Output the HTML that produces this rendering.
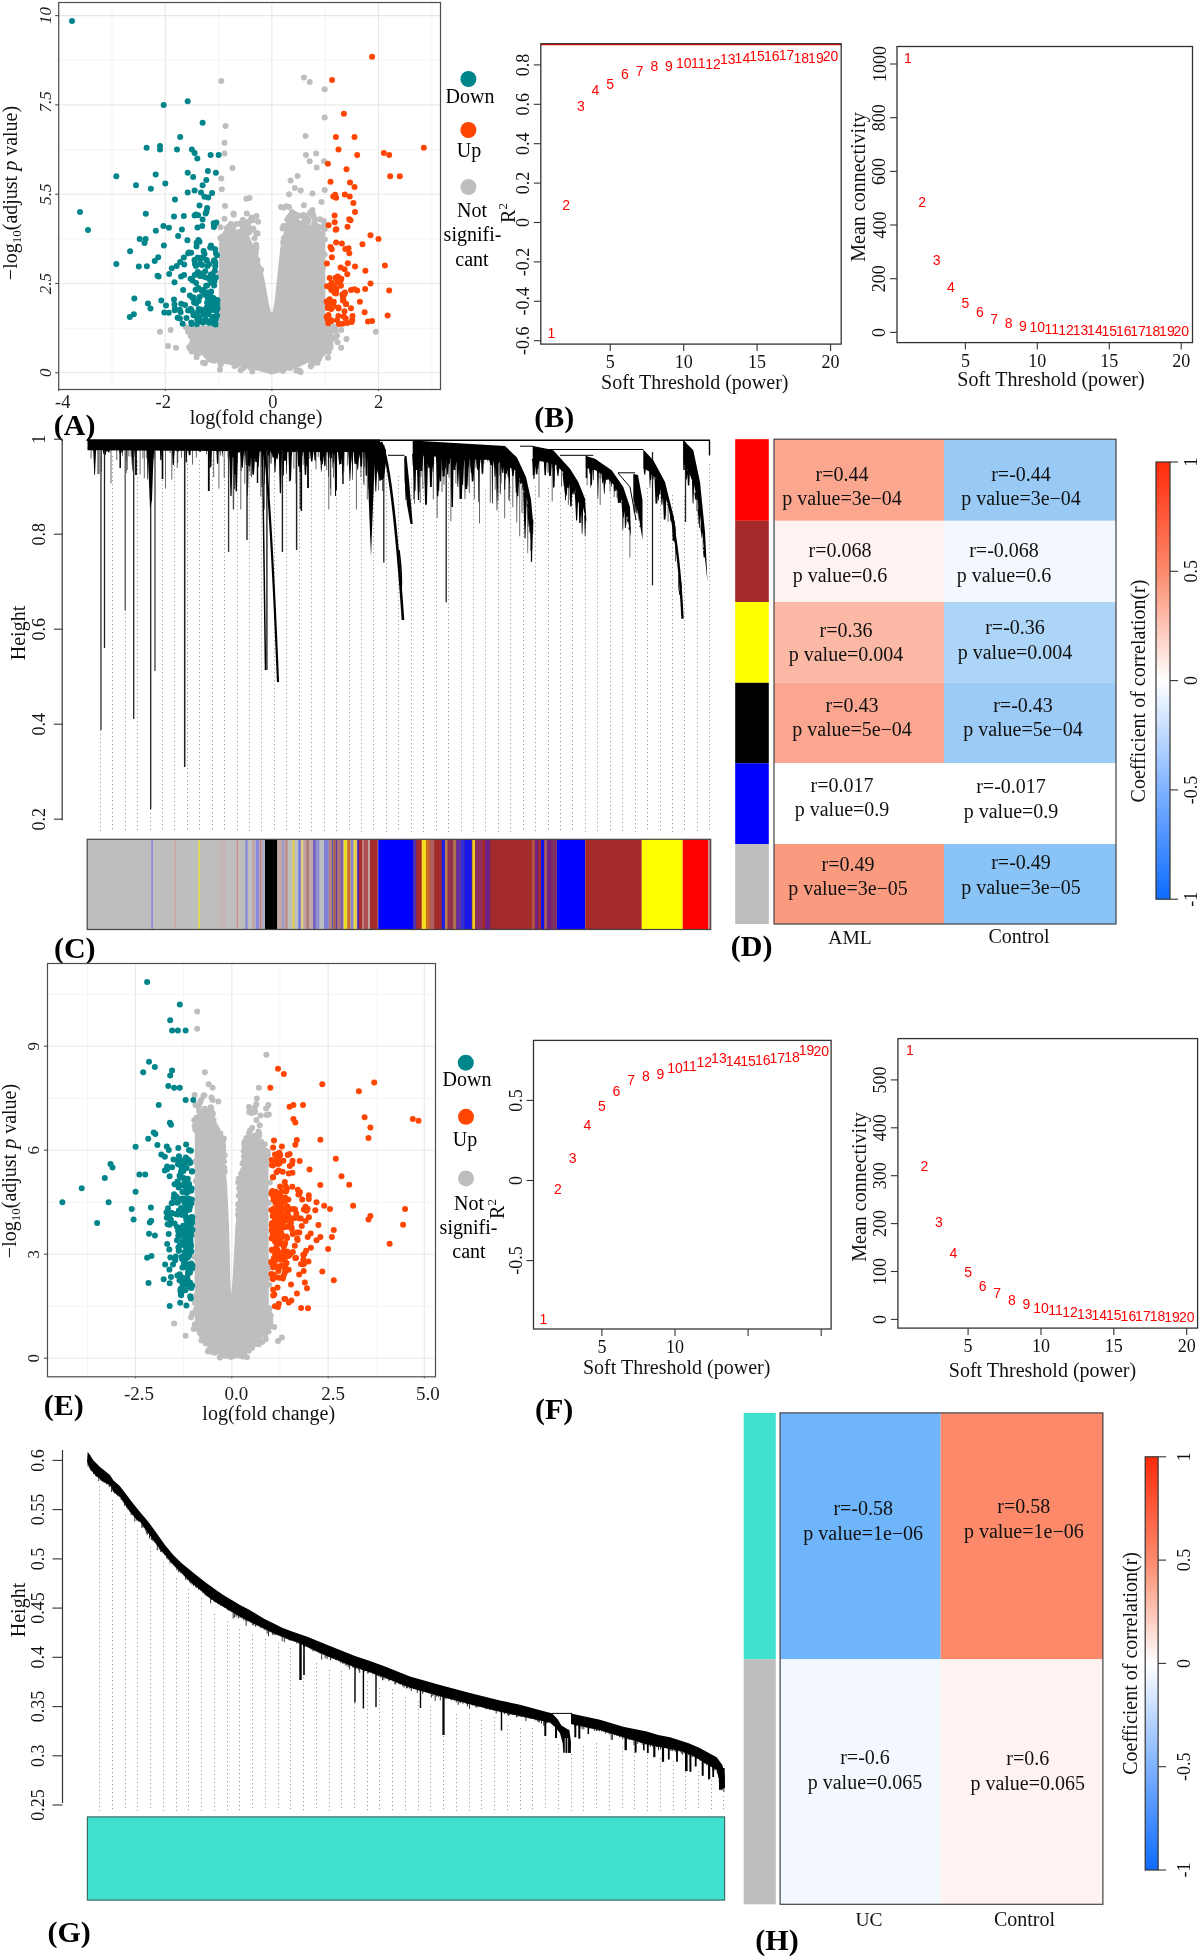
<!DOCTYPE html><html><head><meta charset="utf-8"><style>html,body{margin:0;padding:0;background:#fff;}svg{display:block;will-change:transform;}text{font-family:"Liberation Serif",serif;}</style></head><body><svg width="1200" height="1958" viewBox="0 0 1200 1958" font-family="Liberation Serif, serif"><rect x="0" y="0" width="1200" height="1958" fill="#fff"/>
<line x1="112" y1="2.5" x2="112" y2="389.5" stroke="#F2F2F2" stroke-width="0.8"/>
<line x1="218.6" y1="2.5" x2="218.6" y2="389.5" stroke="#F2F2F2" stroke-width="0.8"/>
<line x1="325.2" y1="2.5" x2="325.2" y2="389.5" stroke="#F2F2F2" stroke-width="0.8"/>
<line x1="431.8" y1="2.5" x2="431.8" y2="389.5" stroke="#F2F2F2" stroke-width="0.8"/>
<line x1="58.7" y1="328.2" x2="440.5" y2="328.2" stroke="#F2F2F2" stroke-width="0.8"/>
<line x1="58.7" y1="238.9" x2="440.5" y2="238.9" stroke="#F2F2F2" stroke-width="0.8"/>
<line x1="58.7" y1="149.6" x2="440.5" y2="149.6" stroke="#F2F2F2" stroke-width="0.8"/>
<line x1="58.7" y1="60.2" x2="440.5" y2="60.2" stroke="#F2F2F2" stroke-width="0.8"/>
<line x1="58.7" y1="2.5" x2="58.7" y2="389.5" stroke="#E8E8E8" stroke-width="1.1"/>
<line x1="165.3" y1="2.5" x2="165.3" y2="389.5" stroke="#E8E8E8" stroke-width="1.1"/>
<line x1="271.9" y1="2.5" x2="271.9" y2="389.5" stroke="#E8E8E8" stroke-width="1.1"/>
<line x1="378.5" y1="2.5" x2="378.5" y2="389.5" stroke="#E8E8E8" stroke-width="1.1"/>
<line x1="58.7" y1="372.8" x2="440.5" y2="372.8" stroke="#E8E8E8" stroke-width="1.1"/>
<line x1="58.7" y1="283.5" x2="440.5" y2="283.5" stroke="#E8E8E8" stroke-width="1.1"/>
<line x1="58.7" y1="194.2" x2="440.5" y2="194.2" stroke="#E8E8E8" stroke-width="1.1"/>
<line x1="58.7" y1="104.9" x2="440.5" y2="104.9" stroke="#E8E8E8" stroke-width="1.1"/>
<line x1="58.7" y1="15.6" x2="440.5" y2="15.6" stroke="#E8E8E8" stroke-width="1.1"/>
<clipPath id="c58"><rect x="58.7" y="2.5" width="381.8" height="387"/></clipPath>
<g clip-path="url(#c58)">
<polygon points="271.9,374.6 296.4,368.2 315.1,359.2 325.2,351.4 333.2,342.4 333.2,326.4 325.2,324.6 325.2,240.6 324.1,233.5 310.3,224.6 297.5,219.2 289,219.2 285.2,226.3 280.4,247.8 277.2,276.4 274.6,301.4 271.9,315.6 269.2,304.9 263.9,276.4 258,254.9 249.5,237.1 244.2,228.1 234.6,229.9 225,236.3 219.1,238.9 219.1,325.6 186.6,326.4 189.3,338.9 195.7,351.4 210.6,359.9 226.6,364.2 245.2,367.4" fill="#BEBEBE"/>
<g fill="#BEBEBE"><circle cx="305.5" cy="222" r="3"/><circle cx="324.6" cy="254.5" r="3"/><circle cx="322.6" cy="352.9" r="3"/><circle cx="194" cy="339.9" r="3"/><circle cx="330.4" cy="344.9" r="3"/><circle cx="323.6" cy="352.4" r="3"/><circle cx="321.7" cy="240" r="3"/><circle cx="321.9" cy="270.3" r="3"/><circle cx="329.8" cy="338.8" r="3"/><circle cx="193" cy="349.8" r="3"/><circle cx="239.2" cy="232.5" r="3"/><circle cx="322.6" cy="233.8" r="3"/><circle cx="248.4" cy="364.7" r="3"/><circle cx="247.8" cy="233" r="3"/><circle cx="219.6" cy="361.3" r="3"/><circle cx="337" cy="335.6" r="3"/><circle cx="204.8" cy="352.8" r="3"/><circle cx="311.2" cy="363.6" r="3"/><circle cx="265.8" cy="369.2" r="3"/><circle cx="290.1" cy="217.5" r="3"/><circle cx="196.3" cy="352.5" r="3"/><circle cx="229.5" cy="236.4" r="3"/><circle cx="252.3" cy="371.5" r="3"/><circle cx="304.4" cy="221" r="3"/><circle cx="315.1" cy="233.2" r="3"/><circle cx="324.9" cy="343.5" r="3"/><circle cx="298.5" cy="215.5" r="3"/><circle cx="302.6" cy="226.4" r="3"/><circle cx="335.8" cy="336.8" r="3"/><circle cx="275" cy="315.7" r="3"/><circle cx="234.7" cy="363.5" r="3"/><circle cx="299.3" cy="370.4" r="3"/><circle cx="327.4" cy="328.4" r="3"/><circle cx="293.2" cy="216.8" r="3"/><circle cx="236.6" cy="233.6" r="3"/><circle cx="283.1" cy="250.7" r="3"/><circle cx="310.8" cy="366.3" r="3"/><circle cx="226.8" cy="227.9" r="3"/><circle cx="220.3" cy="237.9" r="3"/><circle cx="240.7" cy="223.2" r="3"/><circle cx="290.1" cy="368" r="3"/><circle cx="327.5" cy="326.8" r="3"/><circle cx="242.1" cy="224.2" r="3"/><circle cx="216.9" cy="357" r="3"/><circle cx="291.9" cy="219.2" r="3"/><circle cx="220.6" cy="364.7" r="3"/><circle cx="240.7" cy="370.2" r="3"/><circle cx="321.3" cy="227.6" r="3"/><circle cx="319.1" cy="265.3" r="3"/><circle cx="284" cy="238.3" r="3"/><circle cx="257.9" cy="271" r="3"/><circle cx="188" cy="331.8" r="3"/><circle cx="219.9" cy="369.8" r="3"/><circle cx="313.8" cy="229.9" r="3"/><circle cx="196.6" cy="357.3" r="3"/><circle cx="301.8" cy="216.1" r="3"/><circle cx="329.5" cy="340.3" r="3"/><circle cx="317.5" cy="362.8" r="3"/><circle cx="329.8" cy="331.3" r="3"/><circle cx="234.5" cy="366.1" r="3"/><circle cx="275.5" cy="314.3" r="3"/><circle cx="199.6" cy="351.4" r="3"/><circle cx="331.9" cy="339.3" r="3"/><circle cx="257.4" cy="260.1" r="3"/><circle cx="227.5" cy="229.8" r="3"/><circle cx="295" cy="219.7" r="3"/><circle cx="193" cy="341" r="3"/><circle cx="228.8" cy="226.4" r="3"/><circle cx="210.4" cy="359.7" r="3"/><circle cx="261" cy="269.4" r="3"/><circle cx="319.2" cy="358.7" r="3"/><circle cx="196.5" cy="353.5" r="3"/><circle cx="247.2" cy="231.2" r="3"/><circle cx="195.4" cy="349.5" r="3"/><circle cx="333.4" cy="328" r="3"/><circle cx="333.1" cy="326.5" r="3"/><circle cx="188.5" cy="328" r="3"/><circle cx="288.7" cy="217.5" r="3"/><circle cx="235.7" cy="244.1" r="3"/><circle cx="230.2" cy="360.2" r="3"/><circle cx="191.6" cy="351.6" r="3"/><circle cx="247.6" cy="250.3" r="3"/><circle cx="317.4" cy="228.2" r="3"/><circle cx="195.5" cy="348.3" r="3"/><circle cx="255.6" cy="262.2" r="3"/><circle cx="290.4" cy="215.6" r="3"/><circle cx="245" cy="229.5" r="3"/><circle cx="256.3" cy="247.9" r="3"/><circle cx="281" cy="369" r="3"/><circle cx="314.8" cy="355.9" r="3"/><circle cx="325.4" cy="327.9" r="3"/><circle cx="219.5" cy="310.8" r="3"/><circle cx="260.4" cy="271.8" r="3"/><circle cx="189.1" cy="347.2" r="3"/><circle cx="300.6" cy="371.9" r="3"/><circle cx="323.1" cy="267.8" r="3"/><circle cx="282.9" cy="371" r="3"/><circle cx="271.8" cy="315.5" r="3"/><circle cx="224.3" cy="274.4" r="3"/><circle cx="315.1" cy="361.1" r="3"/><circle cx="307.4" cy="218.7" r="3"/><circle cx="315.5" cy="227.2" r="3"/><circle cx="323.8" cy="308" r="3"/><circle cx="259.3" cy="269.1" r="3"/><circle cx="284.2" cy="227.2" r="3"/><circle cx="256.4" cy="264.2" r="3"/><circle cx="212.8" cy="359.8" r="3"/><circle cx="250.2" cy="367.5" r="3"/><circle cx="206.3" cy="355.6" r="3"/><circle cx="244.9" cy="230" r="3"/><circle cx="296.4" cy="370.7" r="3"/><circle cx="190" cy="348.2" r="3"/><circle cx="328.6" cy="351.9" r="3"/><circle cx="274.9" cy="315.6" r="3"/><circle cx="223.8" cy="241.6" r="3"/><circle cx="223.6" cy="330.9" r="3"/><circle cx="316.5" cy="232.2" r="3"/><circle cx="324.8" cy="229.2" r="3"/><circle cx="270.6" cy="324.3" r="3"/><circle cx="293.5" cy="220.5" r="3"/><circle cx="197.6" cy="351.8" r="3"/><circle cx="287.4" cy="219.4" r="3"/><circle cx="271.9" cy="315.8" r="3"/><circle cx="225.6" cy="233.4" r="3"/><circle cx="283.2" cy="260.8" r="3"/><circle cx="199.3" cy="353.1" r="3"/><circle cx="313.6" cy="357.6" r="3"/><circle cx="243.9" cy="367.7" r="3"/><circle cx="213.8" cy="360.8" r="3"/><circle cx="313" cy="214.6" r="3"/><circle cx="216.3" cy="356.6" r="3"/><circle cx="324.8" cy="223.9" r="3"/><circle cx="256.2" cy="244.8" r="3"/><circle cx="192.3" cy="347.5" r="3"/><circle cx="283.4" cy="225.9" r="3"/><circle cx="244.6" cy="241.6" r="3"/><circle cx="256.2" cy="246.6" r="3"/><circle cx="190.7" cy="335.9" r="3"/><circle cx="222.6" cy="236.3" r="3"/><circle cx="185.8" cy="327.3" r="3"/><circle cx="330.5" cy="347.8" r="3"/><circle cx="282.7" cy="258.2" r="3"/><circle cx="329.7" cy="343.4" r="3"/><circle cx="244.7" cy="245.5" r="3"/><circle cx="236.7" cy="224" r="3"/><circle cx="222.9" cy="360.9" r="3"/><circle cx="225.6" cy="237.7" r="3"/><circle cx="320" cy="236.5" r="3"/><circle cx="256" cy="252.2" r="3"/><circle cx="228.6" cy="359.3" r="3"/><circle cx="243.4" cy="226.2" r="3"/><circle cx="220.1" cy="273.6" r="3"/><circle cx="220.5" cy="227.2" r="3"/><circle cx="270.2" cy="315.6" r="3"/><circle cx="254.6" cy="238.2" r="3"/><circle cx="335.1" cy="327.2" r="3"/><circle cx="220.7" cy="363.2" r="3"/><circle cx="191.5" cy="344.1" r="3"/><circle cx="297.9" cy="222.5" r="3"/><circle cx="223.9" cy="242.8" r="3"/><circle cx="202.5" cy="329.2" r="3"/><circle cx="312.4" cy="358.1" r="3"/><circle cx="196.2" cy="349.4" r="3"/><circle cx="211.1" cy="357.8" r="3"/><circle cx="273.3" cy="316.3" r="3"/><circle cx="324.9" cy="239.4" r="3"/><circle cx="282.6" cy="228.6" r="3"/><circle cx="322.2" cy="352.7" r="3"/><circle cx="208.6" cy="359" r="3"/><circle cx="283.6" cy="245.8" r="3"/><circle cx="204.9" cy="363.3" r="3"/><circle cx="291" cy="366.8" r="3"/><circle cx="276" cy="313.5" r="3"/><circle cx="255.5" cy="247.8" r="3"/><circle cx="237" cy="365.1" r="3"/><circle cx="304.5" cy="223.9" r="3"/><circle cx="326.3" cy="343.5" r="3"/><circle cx="192.1" cy="330" r="3"/><circle cx="197.6" cy="353.3" r="3"/><circle cx="190.2" cy="328.2" r="3"/><circle cx="316.8" cy="226.1" r="3"/><circle cx="295.6" cy="216.4" r="3"/><circle cx="335.6" cy="330.9" r="3"/><circle cx="226" cy="359" r="3"/><circle cx="331.2" cy="328.6" r="3"/><circle cx="287.1" cy="225.7" r="3"/><circle cx="283.1" cy="242.1" r="3"/><circle cx="213.5" cy="326.7" r="3"/><circle cx="305.8" cy="215.8" r="3"/><circle cx="328" cy="357.7" r="3"/><circle cx="248.6" cy="227.2" r="3"/><circle cx="252" cy="248.1" r="3"/><circle cx="312.4" cy="364" r="3"/><circle cx="203" cy="362.8" r="3"/><circle cx="288.2" cy="226.5" r="3"/><circle cx="232.9" cy="229.6" r="3"/><circle cx="320.9" cy="355.2" r="3"/><circle cx="245.2" cy="233.9" r="3"/><circle cx="337.5" cy="342.2" r="3"/><circle cx="285.1" cy="237.2" r="3"/><circle cx="293.4" cy="225.5" r="3"/><circle cx="230.9" cy="233.4" r="3"/><circle cx="221.3" cy="81" r="3"/><circle cx="303.9" cy="77.4" r="3"/><circle cx="309.7" cy="82" r="3"/><circle cx="324.7" cy="89.2" r="3"/><circle cx="225.5" cy="126" r="3"/><circle cx="224.5" cy="142.8" r="3"/><circle cx="224.5" cy="153.5" r="3"/><circle cx="232.5" cy="168.1" r="3"/><circle cx="221.3" cy="178.5" r="3"/><circle cx="221.8" cy="189.2" r="3"/><circle cx="225" cy="206" r="3"/><circle cx="233.5" cy="213.5" r="3"/><circle cx="246.8" cy="213.5" r="3"/><circle cx="246.3" cy="198.8" r="3"/><circle cx="249.5" cy="198.1" r="3"/><circle cx="224.5" cy="218.8" r="3"/><circle cx="324.7" cy="117.4" r="3"/><circle cx="305.5" cy="136" r="3"/><circle cx="306" cy="154.9" r="3"/><circle cx="316.1" cy="153.5" r="3"/><circle cx="309.7" cy="161.3" r="3"/><circle cx="316.7" cy="167.4" r="3"/><circle cx="324.1" cy="161.3" r="3"/><circle cx="297.5" cy="176" r="3"/><circle cx="290.6" cy="180.6" r="3"/><circle cx="294.8" cy="188.1" r="3"/><circle cx="289" cy="194.2" r="3"/><circle cx="300.7" cy="190.6" r="3"/><circle cx="312.4" cy="193.5" r="3"/><circle cx="324.7" cy="189.9" r="3"/><circle cx="281" cy="207.1" r="3"/><circle cx="283.6" cy="207.8" r="3"/><circle cx="286.3" cy="206.3" r="3"/><circle cx="289" cy="207.1" r="3"/><circle cx="303.9" cy="205.3" r="3"/><circle cx="312.4" cy="209.9" r="3"/><circle cx="321.5" cy="202.1" r="3"/><circle cx="303.3" cy="214.9" r="3"/><circle cx="315.1" cy="219.9" r="3"/><circle cx="319.9" cy="219.2" r="3"/><circle cx="295.9" cy="217.4" r="3"/><circle cx="320.1" cy="227.6" r="3"/><circle cx="290.8" cy="222.7" r="3"/><circle cx="293.3" cy="227.9" r="3"/><circle cx="246.2" cy="232.7" r="3"/><circle cx="242.9" cy="219.8" r="3"/><circle cx="311.7" cy="214.3" r="3"/><circle cx="227.8" cy="227.8" r="3"/><circle cx="233.8" cy="225.8" r="3"/><circle cx="306.8" cy="221.1" r="3"/><circle cx="248.8" cy="222" r="3"/><circle cx="313.9" cy="225.5" r="3"/><circle cx="323.8" cy="221.1" r="3"/><circle cx="298.1" cy="231.7" r="3"/><circle cx="251.7" cy="217.6" r="3"/><circle cx="247" cy="222.4" r="3"/><circle cx="310.1" cy="212.4" r="3"/><circle cx="313.7" cy="217.5" r="3"/><circle cx="252.8" cy="220.3" r="3"/><circle cx="301.5" cy="225.7" r="3"/><circle cx="253.4" cy="228.6" r="3"/><circle cx="257.7" cy="233.4" r="3"/><circle cx="297" cy="222.3" r="3"/><circle cx="242.5" cy="227" r="3"/><circle cx="250.6" cy="220.1" r="3"/><circle cx="291.4" cy="233.2" r="3"/><circle cx="231" cy="223.8" r="3"/><circle cx="233.7" cy="214.8" r="3"/><circle cx="300.9" cy="227.8" r="3"/><circle cx="256.4" cy="215.9" r="3"/><circle cx="308.4" cy="221.1" r="3"/><circle cx="294.9" cy="214.1" r="3"/><circle cx="256.2" cy="233" r="3"/><circle cx="249.3" cy="232.2" r="3"/><circle cx="258.1" cy="221.7" r="3"/><circle cx="253" cy="229.2" r="3"/><circle cx="316.9" cy="229.7" r="3"/><circle cx="287.7" cy="220.1" r="3"/><circle cx="313.1" cy="233.4" r="3"/><circle cx="314.2" cy="223.5" r="3"/><circle cx="292" cy="212.1" r="3"/><circle cx="191.9" cy="329.9" r="3"/><circle cx="170.6" cy="329.9" r="3"/><circle cx="160" cy="331.7" r="3"/><circle cx="176" cy="347.8" r="3"/><circle cx="168" cy="346" r="3"/><circle cx="375.8" cy="331.7" r="3"/><circle cx="341.2" cy="329.9" r="3"/><circle cx="346.5" cy="338.9" r="3"/><circle cx="341.2" cy="347.8" r="3"/></g>
<g fill="#00858A"><circle cx="72" cy="21" r="3"/><circle cx="80" cy="212.1" r="3"/><circle cx="88" cy="229.9" r="3"/><circle cx="116.3" cy="176.3" r="3"/><circle cx="116.3" cy="263.9" r="3"/><circle cx="146.6" cy="147.8" r="3"/><circle cx="163.7" cy="104.9" r="3"/><circle cx="187.7" cy="101.3" r="3"/><circle cx="202.6" cy="122.8" r="3"/><circle cx="180.2" cy="137" r="3"/><circle cx="160" cy="146" r="3"/><circle cx="160" cy="149.6" r="3"/><circle cx="177" cy="149.6" r="3"/><circle cx="191.9" cy="149.6" r="3"/><circle cx="194.6" cy="153.1" r="3"/><circle cx="197.3" cy="158.5" r="3"/><circle cx="210.6" cy="154.9" r="3"/><circle cx="218.6" cy="154.9" r="3"/><circle cx="136" cy="185.3" r="3"/><circle cx="150.9" cy="188.8" r="3"/><circle cx="155.7" cy="174.6" r="3"/><circle cx="165.3" cy="183.5" r="3"/><circle cx="187.7" cy="192.4" r="3"/><circle cx="187.7" cy="172.8" r="3"/><circle cx="194.6" cy="190.6" r="3"/><circle cx="202.6" cy="185.3" r="3"/><circle cx="207.9" cy="171" r="3"/><circle cx="215.9" cy="172.8" r="3"/><circle cx="139.7" cy="238.9" r="3"/><circle cx="145.6" cy="238.9" r="3"/><circle cx="215.8" cy="319.4" r="3"/><circle cx="193.1" cy="177" r="3"/><circle cx="181.2" cy="303.8" r="3"/><circle cx="199" cy="321.4" r="3"/><circle cx="200.6" cy="258.1" r="3"/><circle cx="198.1" cy="215.2" r="3"/><circle cx="206.5" cy="211.4" r="3"/><circle cx="179.9" cy="318.5" r="3"/><circle cx="207.1" cy="208.1" r="3"/><circle cx="217" cy="255.3" r="3"/><circle cx="214.6" cy="224.6" r="3"/><circle cx="207.9" cy="314.2" r="3"/><circle cx="199.8" cy="296.7" r="3"/><circle cx="202.6" cy="219.6" r="3"/><circle cx="175" cy="199.6" r="3"/><circle cx="194.7" cy="275" r="3"/><circle cx="196.9" cy="324.2" r="3"/><circle cx="213.9" cy="323.5" r="3"/><circle cx="205.6" cy="213.4" r="3"/><circle cx="214.1" cy="260.5" r="3"/><circle cx="200" cy="276.1" r="3"/><circle cx="203.3" cy="314.4" r="3"/><circle cx="209.4" cy="279" r="3"/><circle cx="215.8" cy="317.7" r="3"/><circle cx="191.3" cy="322.4" r="3"/><circle cx="213.8" cy="318.4" r="3"/><circle cx="214.4" cy="321.7" r="3"/><circle cx="213.6" cy="322.6" r="3"/><circle cx="199.6" cy="311.5" r="3"/><circle cx="194.9" cy="263.7" r="3"/><circle cx="199.5" cy="241.8" r="3"/><circle cx="187.4" cy="240.3" r="3"/><circle cx="208" cy="313.6" r="3"/><circle cx="209" cy="322.9" r="3"/><circle cx="181.9" cy="229.5" r="3"/><circle cx="205.8" cy="319.9" r="3"/><circle cx="217.3" cy="300.4" r="3"/><circle cx="193.4" cy="315.2" r="3"/><circle cx="211.1" cy="309" r="3"/><circle cx="193.8" cy="297.6" r="3"/><circle cx="216.4" cy="222.6" r="3"/><circle cx="201.7" cy="321.8" r="3"/><circle cx="215.2" cy="266.2" r="3"/><circle cx="180.1" cy="262" r="3"/><circle cx="203.6" cy="251" r="3"/><circle cx="215.4" cy="263" r="3"/><circle cx="197.3" cy="318.2" r="3"/><circle cx="213.5" cy="298.1" r="3"/><circle cx="196.5" cy="246.4" r="3"/><circle cx="211" cy="245.5" r="3"/><circle cx="205" cy="294.7" r="3"/><circle cx="211.2" cy="291.5" r="3"/><circle cx="210.8" cy="322.1" r="3"/><circle cx="189.9" cy="295.6" r="3"/><circle cx="195.9" cy="214.4" r="3"/><circle cx="202.7" cy="257.2" r="3"/><circle cx="197.7" cy="272.1" r="3"/><circle cx="212.1" cy="317" r="3"/><circle cx="201.5" cy="309.7" r="3"/><circle cx="180.6" cy="312.3" r="3"/><circle cx="190.6" cy="278.8" r="3"/><circle cx="206.6" cy="260.6" r="3"/><circle cx="205.5" cy="319.4" r="3"/><circle cx="208.3" cy="197.5" r="3"/><circle cx="195.6" cy="289.8" r="3"/><circle cx="199.8" cy="264" r="3"/><circle cx="207.5" cy="297.1" r="3"/><circle cx="207.1" cy="285.5" r="3"/><circle cx="194.5" cy="260" r="3"/><circle cx="174.9" cy="308.7" r="3"/><circle cx="195.9" cy="265.9" r="3"/><circle cx="203" cy="322.7" r="3"/><circle cx="199.5" cy="205.5" r="3"/><circle cx="207.4" cy="295.1" r="3"/><circle cx="203.3" cy="290.9" r="3"/><circle cx="212.5" cy="274.3" r="3"/><circle cx="217" cy="309.3" r="3"/><circle cx="205.2" cy="271.2" r="3"/><circle cx="210.8" cy="310.5" r="3"/><circle cx="198.4" cy="240.1" r="3"/><circle cx="206.6" cy="260.1" r="3"/><circle cx="196.6" cy="242.7" r="3"/><circle cx="204.9" cy="310.5" r="3"/><circle cx="208" cy="294.1" r="3"/><circle cx="164.3" cy="312.4" r="3"/><circle cx="202.1" cy="264.9" r="3"/><circle cx="214.3" cy="318" r="3"/><circle cx="208.3" cy="307.3" r="3"/><circle cx="213.5" cy="319.7" r="3"/><circle cx="204.5" cy="196.8" r="3"/><circle cx="210.7" cy="296.4" r="3"/><circle cx="182.7" cy="323.7" r="3"/><circle cx="206.4" cy="311.9" r="3"/><circle cx="203.1" cy="290" r="3"/><circle cx="204.5" cy="253.9" r="3"/><circle cx="215.7" cy="324.4" r="3"/><circle cx="215.9" cy="277.5" r="3"/><circle cx="184.2" cy="264.5" r="3"/><circle cx="197.7" cy="257.4" r="3"/><circle cx="191.2" cy="252.8" r="3"/><circle cx="200" cy="273.6" r="3"/><circle cx="200.5" cy="309.7" r="3"/><circle cx="213.9" cy="301.1" r="3"/><circle cx="209.6" cy="310.5" r="3"/><circle cx="206.5" cy="310.6" r="3"/><circle cx="183.1" cy="289.9" r="3"/><circle cx="215.2" cy="249.2" r="3"/><circle cx="207.9" cy="292.5" r="3"/><circle cx="184.1" cy="275" r="3"/><circle cx="213.4" cy="279.1" r="3"/><circle cx="192.3" cy="297.8" r="3"/><circle cx="191.6" cy="323.9" r="3"/><circle cx="199.2" cy="317.9" r="3"/><circle cx="185.1" cy="304.9" r="3"/><circle cx="212.1" cy="192.9" r="3"/><circle cx="191" cy="309.4" r="3"/><circle cx="198.4" cy="287.9" r="3"/><circle cx="190.6" cy="309" r="3"/><circle cx="214.5" cy="260.6" r="3"/><circle cx="217.1" cy="307.2" r="3"/><circle cx="202.1" cy="290.6" r="3"/><circle cx="194.1" cy="302.4" r="3"/><circle cx="178.1" cy="235.9" r="3"/><circle cx="214.1" cy="285.4" r="3"/><circle cx="209.1" cy="301.9" r="3"/><circle cx="207.6" cy="321.5" r="3"/><circle cx="183.8" cy="257.4" r="3"/><circle cx="200.3" cy="259.6" r="3"/><circle cx="210.3" cy="308.1" r="3"/><circle cx="213.6" cy="303.2" r="3"/><circle cx="174" cy="216.4" r="3"/><circle cx="204.5" cy="291.8" r="3"/><circle cx="197.4" cy="320.2" r="3"/><circle cx="183.8" cy="215.9" r="3"/><circle cx="209" cy="264.2" r="3"/><circle cx="194.6" cy="215.6" r="3"/><circle cx="202.2" cy="226" r="3"/><circle cx="197.5" cy="227.5" r="3"/><circle cx="168.9" cy="227.8" r="3"/><circle cx="188.1" cy="253.4" r="3"/><circle cx="214" cy="261.3" r="3"/><circle cx="198.7" cy="308.9" r="3"/><circle cx="210.2" cy="247.6" r="3"/><circle cx="192.6" cy="280.5" r="3"/><circle cx="207.1" cy="302.6" r="3"/><circle cx="188.8" cy="252.5" r="3"/><circle cx="209.1" cy="278.5" r="3"/><circle cx="199.8" cy="319.4" r="3"/><circle cx="209.7" cy="307.8" r="3"/><circle cx="211.6" cy="303.1" r="3"/><circle cx="198.6" cy="301.1" r="3"/><circle cx="206.3" cy="180.1" r="3"/><circle cx="202.1" cy="276" r="3"/><circle cx="214.5" cy="281.1" r="3"/><circle cx="215.9" cy="311.1" r="3"/><circle cx="211.2" cy="282.7" r="3"/><circle cx="188.1" cy="310.6" r="3"/><circle cx="201.7" cy="290.8" r="3"/><circle cx="215" cy="303.9" r="3"/><circle cx="206.1" cy="285.8" r="3"/><circle cx="197.4" cy="312.8" r="3"/><circle cx="201" cy="192.5" r="3"/><circle cx="194.4" cy="301.7" r="3"/><circle cx="210.3" cy="293.3" r="3"/><circle cx="215.9" cy="253.4" r="3"/><circle cx="210.8" cy="274.4" r="3"/><circle cx="211.2" cy="300.3" r="3"/><circle cx="211.8" cy="247.5" r="3"/><circle cx="196.1" cy="282.9" r="3"/><circle cx="213.9" cy="226.9" r="3"/><circle cx="213.6" cy="317.1" r="3"/><circle cx="205.3" cy="277.2" r="3"/><circle cx="216.6" cy="309.8" r="3"/><circle cx="207.5" cy="266.1" r="3"/><circle cx="203.2" cy="290.6" r="3"/><circle cx="217.3" cy="303.9" r="3"/><circle cx="191.9" cy="311.1" r="3"/><circle cx="217.5" cy="308" r="3"/><circle cx="215.4" cy="322.7" r="3"/><circle cx="214.8" cy="270.8" r="3"/><circle cx="186.5" cy="317.9" r="3"/><circle cx="217.3" cy="299.9" r="3"/><circle cx="217.1" cy="315.6" r="3"/><circle cx="208" cy="298.5" r="3"/><circle cx="212.2" cy="277.9" r="3"/><circle cx="212.1" cy="306.4" r="3"/><circle cx="213.7" cy="223.2" r="3"/><circle cx="196.2" cy="303.6" r="3"/><circle cx="210.4" cy="322.1" r="3"/><circle cx="206.7" cy="307.5" r="3"/><circle cx="146.9" cy="266.3" r="3"/><circle cx="145.8" cy="213.7" r="3"/><circle cx="174.5" cy="282.3" r="3"/><circle cx="138.8" cy="266.5" r="3"/><circle cx="134.3" cy="298.6" r="3"/><circle cx="166" cy="305.5" r="3"/><circle cx="179.8" cy="309.8" r="3"/><circle cx="181.1" cy="276.5" r="3"/><circle cx="157.5" cy="275.7" r="3"/><circle cx="158.6" cy="276.5" r="3"/><circle cx="133.8" cy="314.2" r="3"/><circle cx="171.8" cy="268.3" r="3"/><circle cx="168.8" cy="312.8" r="3"/><circle cx="154.7" cy="261" r="3"/><circle cx="148" cy="303.5" r="3"/><circle cx="163.9" cy="245.4" r="3"/><circle cx="174.7" cy="310.3" r="3"/><circle cx="130.1" cy="251.3" r="3"/><circle cx="161.3" cy="300.6" r="3"/><circle cx="163.4" cy="226.1" r="3"/><circle cx="150.5" cy="308.4" r="3"/><circle cx="177.6" cy="317.8" r="3"/><circle cx="174.5" cy="304.4" r="3"/><circle cx="144.5" cy="243.1" r="3"/><circle cx="174" cy="299.4" r="3"/><circle cx="129.8" cy="317" r="3"/><circle cx="158.2" cy="257.3" r="3"/><circle cx="176.7" cy="265.9" r="3"/><circle cx="155.8" cy="230.8" r="3"/><circle cx="169.2" cy="274.1" r="3"/></g>
<g fill="#FF4500"><circle cx="372.1" cy="56.7" r="3"/><circle cx="332.1" cy="79.9" r="3"/><circle cx="343.9" cy="113.8" r="3"/><circle cx="423.8" cy="147.8" r="3"/><circle cx="383.8" cy="153.1" r="3"/><circle cx="389.2" cy="154.9" r="3"/><circle cx="390.2" cy="176.3" r="3"/><circle cx="399.8" cy="176.3" r="3"/><circle cx="357.2" cy="154.9" r="3"/><circle cx="354.5" cy="137" r="3"/><circle cx="335.9" cy="137" r="3"/><circle cx="338.5" cy="149.6" r="3"/><circle cx="327.9" cy="163.8" r="3"/><circle cx="330.5" cy="181.7" r="3"/><circle cx="346.5" cy="169.2" r="3"/><circle cx="378.5" cy="238.9" r="3"/><circle cx="370.5" cy="235.3" r="3"/><circle cx="384.9" cy="265.6" r="3"/><circle cx="389.2" cy="290.6" r="3"/><circle cx="387.6" cy="315.6" r="3"/><circle cx="372.1" cy="321" r="3"/><circle cx="362.5" cy="244.2" r="3"/><circle cx="365.2" cy="288.9" r="3"/><circle cx="357.2" cy="290.6" r="3"/><circle cx="370.5" cy="283.5" r="3"/><circle cx="353.4" cy="203.1" r="3"/><circle cx="354.5" cy="187.1" r="3"/><circle cx="349.2" cy="219.2" r="3"/><circle cx="331.4" cy="321.1" r="3"/><circle cx="340.6" cy="267.6" r="3"/><circle cx="365.4" cy="270.7" r="3"/><circle cx="352.5" cy="316.1" r="3"/><circle cx="328.6" cy="320.2" r="3"/><circle cx="344.9" cy="292.6" r="3"/><circle cx="342.9" cy="296.7" r="3"/><circle cx="339" cy="324.1" r="3"/><circle cx="347.5" cy="226.8" r="3"/><circle cx="364.6" cy="312.3" r="3"/><circle cx="338.5" cy="308.5" r="3"/><circle cx="337.9" cy="282.5" r="3"/><circle cx="349.7" cy="196.5" r="3"/><circle cx="333.8" cy="301.8" r="3"/><circle cx="326.7" cy="316.8" r="3"/><circle cx="349.3" cy="253.3" r="3"/><circle cx="331.4" cy="290.1" r="3"/><circle cx="344.6" cy="269.2" r="3"/><circle cx="351.7" cy="321.9" r="3"/><circle cx="347.3" cy="323" r="3"/><circle cx="355" cy="266.5" r="3"/><circle cx="337.8" cy="276.4" r="3"/><circle cx="336.2" cy="278.7" r="3"/><circle cx="334.6" cy="215.4" r="3"/><circle cx="336.3" cy="229.2" r="3"/><circle cx="334.5" cy="292.8" r="3"/><circle cx="345.7" cy="318.4" r="3"/><circle cx="359.9" cy="301.7" r="3"/><circle cx="331.7" cy="249.3" r="3"/><circle cx="342.4" cy="294.4" r="3"/><circle cx="329.7" cy="304.3" r="3"/><circle cx="351" cy="308.2" r="3"/><circle cx="341.9" cy="243.6" r="3"/><circle cx="341.3" cy="278.8" r="3"/><circle cx="342.6" cy="323.8" r="3"/><circle cx="343.8" cy="316.4" r="3"/><circle cx="336.1" cy="291.1" r="3"/><circle cx="343.4" cy="300.1" r="3"/><circle cx="344.5" cy="311.2" r="3"/><circle cx="344.3" cy="294.6" r="3"/><circle cx="331.2" cy="309" r="3"/><circle cx="338.4" cy="316" r="3"/><circle cx="348.5" cy="248.2" r="3"/><circle cx="338.4" cy="307.6" r="3"/><circle cx="346.2" cy="303.9" r="3"/><circle cx="350.5" cy="220.3" r="3"/><circle cx="351" cy="289.9" r="3"/><circle cx="333.9" cy="286.3" r="3"/><circle cx="342.9" cy="300.5" r="3"/><circle cx="330.5" cy="247.1" r="3"/><circle cx="333.6" cy="306.1" r="3"/><circle cx="368" cy="321.6" r="3"/><circle cx="344.8" cy="194.4" r="3"/><circle cx="340.6" cy="280.4" r="3"/><circle cx="341" cy="285.7" r="3"/><circle cx="327.1" cy="286.2" r="3"/><circle cx="329.6" cy="299.2" r="3"/><circle cx="330.5" cy="287.8" r="3"/><circle cx="328" cy="305.2" r="3"/><circle cx="354.5" cy="289.3" r="3"/><circle cx="329.3" cy="319.7" r="3"/><circle cx="336.1" cy="242.6" r="3"/><circle cx="331.1" cy="302.3" r="3"/><circle cx="345.3" cy="248.9" r="3"/><circle cx="333.3" cy="196.6" r="3"/><circle cx="335" cy="290.6" r="3"/><circle cx="335.9" cy="293.4" r="3"/><circle cx="337" cy="320.3" r="3"/><circle cx="327.8" cy="308.1" r="3"/><circle cx="329.7" cy="277.9" r="3"/><circle cx="334.7" cy="222.3" r="3"/><circle cx="331.9" cy="282.9" r="3"/><circle cx="335.1" cy="194.7" r="3"/><circle cx="331.6" cy="308.2" r="3"/><circle cx="339.6" cy="279.6" r="3"/><circle cx="335.6" cy="277.7" r="3"/><circle cx="345.8" cy="303.9" r="3"/><circle cx="347.3" cy="274.2" r="3"/><circle cx="330.2" cy="301.5" r="3"/><circle cx="326.9" cy="263.4" r="3"/><circle cx="355" cy="212" r="3"/><circle cx="328.6" cy="225.2" r="3"/><circle cx="347.8" cy="263.3" r="3"/><circle cx="352.2" cy="319.9" r="3"/><circle cx="330.8" cy="319.9" r="3"/><circle cx="336.1" cy="197.7" r="3"/><circle cx="335.7" cy="229.8" r="3"/><circle cx="326.7" cy="301.4" r="3"/><circle cx="328.5" cy="315.1" r="3"/><circle cx="350" cy="182.4" r="3"/><circle cx="331.1" cy="284.3" r="3"/><circle cx="328.2" cy="323.2" r="3"/><circle cx="336.3" cy="288.6" r="3"/><circle cx="331.9" cy="257.3" r="3"/><circle cx="327.5" cy="319.3" r="3"/></g>
</g>
<rect x="58.7" y="2.5" width="381.8" height="387" fill="none" stroke="#4D4D4D" stroke-width="1.2"/>
<line x1="58.7" y1="389.5" x2="58.7" y2="391" stroke="#4D4D4D" stroke-width="1.1"/>
<text x="62.7" y="407.5" font-size="18.5" text-anchor="middle" fill="#222">-4</text>
<line x1="165.3" y1="389.5" x2="165.3" y2="391" stroke="#4D4D4D" stroke-width="1.1"/>
<text x="163.3" y="407.5" font-size="18.5" text-anchor="middle" fill="#222">-2</text>
<line x1="271.9" y1="389.5" x2="271.9" y2="391" stroke="#4D4D4D" stroke-width="1.1"/>
<text x="272.9" y="407.5" font-size="18.5" text-anchor="middle" fill="#222">0</text>
<line x1="378.5" y1="389.5" x2="378.5" y2="391" stroke="#4D4D4D" stroke-width="1.1"/>
<text x="378.5" y="407.5" font-size="18.5" text-anchor="middle" fill="#222">2</text>
<line x1="58.7" y1="372.8" x2="55.2" y2="372.8" stroke="#4D4D4D" stroke-width="1.1"/>
<text x="50.7" y="372.8" font-size="17" text-anchor="middle" fill="#222" transform="rotate(-90 50.7 372.8)" font-style="italic">0</text>
<line x1="58.7" y1="283.5" x2="55.2" y2="283.5" stroke="#4D4D4D" stroke-width="1.1"/>
<text x="50.7" y="283.5" font-size="17" text-anchor="middle" fill="#222" transform="rotate(-90 50.7 283.5)" font-style="italic">2.5</text>
<line x1="58.7" y1="194.2" x2="55.2" y2="194.2" stroke="#4D4D4D" stroke-width="1.1"/>
<text x="50.7" y="194.2" font-size="17" text-anchor="middle" fill="#222" transform="rotate(-90 50.7 194.2)" font-style="italic">5.5</text>
<line x1="58.7" y1="104.9" x2="55.2" y2="104.9" stroke="#4D4D4D" stroke-width="1.1"/>
<text x="50.7" y="101.9" font-size="17" text-anchor="middle" fill="#222" transform="rotate(-90 50.7 101.9)" font-style="italic">7.5</text>
<line x1="58.7" y1="15.6" x2="55.2" y2="15.6" stroke="#4D4D4D" stroke-width="1.1"/>
<text x="50.7" y="15.6" font-size="17" text-anchor="middle" fill="#222" transform="rotate(-90 50.7 15.6)" font-style="italic">10</text>
<g fill="#00858A"><circle cx="468.4" cy="79" r="8"/></g>
<text x="470" y="102.5" font-size="20" text-anchor="middle" fill="#000">Down</text>
<g fill="#FF4500"><circle cx="468.4" cy="130" r="8"/></g>
<text x="469" y="157" font-size="20" text-anchor="middle" fill="#000">Up</text>
<g fill="#BEBEBE"><circle cx="468.4" cy="187" r="8"/></g>
<text x="472" y="217" font-size="20" text-anchor="middle" fill="#000">Not</text>
<text x="472.5" y="241" font-size="20" text-anchor="middle" fill="#000">signifi-</text>
<text x="472" y="265.5" font-size="20" text-anchor="middle" fill="#000">cant</text>
<text x="256" y="423.5" font-size="20" text-anchor="middle" fill="#111">log(fold change)</text>
<text x="16.5" y="193" font-size="20" text-anchor="middle" fill="#111" transform="rotate(-90 16.5 193)">−log<tspan font-size="13" dy="4">10</tspan><tspan dy="-4">(adjust </tspan><tspan font-style="italic">p</tspan> value)</text>
<text x="74.6" y="435" font-size="30" text-anchor="middle" fill="#000" font-weight="bold">(A)</text>
<line x1="540.8" y1="44.6" x2="841.2" y2="44.6" stroke="#FF0000" stroke-width="1.2"/>
<rect x="540.8" y="43.7" width="300.4" height="300.4" fill="none" stroke="#333" stroke-width="1.3"/>
<line x1="540.8" y1="64.9" x2="533.8" y2="64.9" stroke="#333" stroke-width="1.1"/>
<text x="529.3" y="64.9" font-size="18" text-anchor="middle" fill="#111" transform="rotate(-90 529.3 64.9)">0.8</text>
<line x1="540.8" y1="104.3" x2="533.8" y2="104.3" stroke="#333" stroke-width="1.1"/>
<text x="529.3" y="104.3" font-size="18" text-anchor="middle" fill="#111" transform="rotate(-90 529.3 104.3)">0.6</text>
<line x1="540.8" y1="143.7" x2="533.8" y2="143.7" stroke="#333" stroke-width="1.1"/>
<text x="529.3" y="143.7" font-size="18" text-anchor="middle" fill="#111" transform="rotate(-90 529.3 143.7)">0.4</text>
<line x1="540.8" y1="183.1" x2="533.8" y2="183.1" stroke="#333" stroke-width="1.1"/>
<text x="529.3" y="183.1" font-size="18" text-anchor="middle" fill="#111" transform="rotate(-90 529.3 183.1)">0.2</text>
<line x1="540.8" y1="222.5" x2="533.8" y2="222.5" stroke="#333" stroke-width="1.1"/>
<text x="529.3" y="222.5" font-size="18" text-anchor="middle" fill="#111" transform="rotate(-90 529.3 222.5)">0</text>
<line x1="540.8" y1="261.9" x2="533.8" y2="261.9" stroke="#333" stroke-width="1.1"/>
<text x="529.3" y="261.9" font-size="18" text-anchor="middle" fill="#111" transform="rotate(-90 529.3 261.9)">-0.2</text>
<line x1="540.8" y1="301.3" x2="533.8" y2="301.3" stroke="#333" stroke-width="1.1"/>
<text x="529.3" y="301.3" font-size="18" text-anchor="middle" fill="#111" transform="rotate(-90 529.3 301.3)">-0.4</text>
<line x1="540.8" y1="340.7" x2="533.8" y2="340.7" stroke="#333" stroke-width="1.1"/>
<text x="529.3" y="340.7" font-size="18" text-anchor="middle" fill="#111" transform="rotate(-90 529.3 340.7)">-0.6</text>
<line x1="610.2" y1="344.1" x2="610.2" y2="351.1" stroke="#333" stroke-width="1.1"/>
<text x="610.2" y="368.1" font-size="18" text-anchor="middle" fill="#111">5</text>
<line x1="683.7" y1="344.1" x2="683.7" y2="351.1" stroke="#333" stroke-width="1.1"/>
<text x="683.7" y="368.1" font-size="18" text-anchor="middle" fill="#111">10</text>
<line x1="757.1" y1="344.1" x2="757.1" y2="351.1" stroke="#333" stroke-width="1.1"/>
<text x="757.1" y="368.1" font-size="18" text-anchor="middle" fill="#111">15</text>
<line x1="830.6" y1="344.1" x2="830.6" y2="351.1" stroke="#333" stroke-width="1.1"/>
<text x="830.6" y="368.1" font-size="18" text-anchor="middle" fill="#111">20</text>
<text x="551.4" y="338.3" font-size="14" text-anchor="middle" fill="#FF0000" style="font-family:'Liberation Sans',sans-serif">1</text>
<text x="566.1" y="210" font-size="14" text-anchor="middle" fill="#FF0000" style="font-family:'Liberation Sans',sans-serif">2</text>
<text x="580.8" y="111.4" font-size="14" text-anchor="middle" fill="#FF0000" style="font-family:'Liberation Sans',sans-serif">3</text>
<text x="595.5" y="94.8" font-size="14" text-anchor="middle" fill="#FF0000" style="font-family:'Liberation Sans',sans-serif">4</text>
<text x="610.2" y="89" font-size="14" text-anchor="middle" fill="#FF0000" style="font-family:'Liberation Sans',sans-serif">5</text>
<text x="624.9" y="79.3" font-size="14" text-anchor="middle" fill="#FF0000" style="font-family:'Liberation Sans',sans-serif">6</text>
<text x="639.6" y="75.8" font-size="14" text-anchor="middle" fill="#FF0000" style="font-family:'Liberation Sans',sans-serif">7</text>
<text x="654.3" y="70.9" font-size="14" text-anchor="middle" fill="#FF0000" style="font-family:'Liberation Sans',sans-serif">8</text>
<text x="669" y="70.6" font-size="14" text-anchor="middle" fill="#FF0000" style="font-family:'Liberation Sans',sans-serif">9</text>
<text x="683.7" y="67.7" font-size="14" text-anchor="middle" fill="#FF0000" style="font-family:'Liberation Sans',sans-serif">10</text>
<text x="698.3" y="67.7" font-size="14" text-anchor="middle" fill="#FF0000" style="font-family:'Liberation Sans',sans-serif">11</text>
<text x="713" y="68.5" font-size="14" text-anchor="middle" fill="#FF0000" style="font-family:'Liberation Sans',sans-serif">12</text>
<text x="727.7" y="63.6" font-size="14" text-anchor="middle" fill="#FF0000" style="font-family:'Liberation Sans',sans-serif">13</text>
<text x="742.4" y="62.8" font-size="14" text-anchor="middle" fill="#FF0000" style="font-family:'Liberation Sans',sans-serif">14</text>
<text x="757.1" y="60.7" font-size="14" text-anchor="middle" fill="#FF0000" style="font-family:'Liberation Sans',sans-serif">15</text>
<text x="771.8" y="60.7" font-size="14" text-anchor="middle" fill="#FF0000" style="font-family:'Liberation Sans',sans-serif">16</text>
<text x="786.5" y="59.8" font-size="14" text-anchor="middle" fill="#FF0000" style="font-family:'Liberation Sans',sans-serif">17</text>
<text x="801.2" y="62.7" font-size="14" text-anchor="middle" fill="#FF0000" style="font-family:'Liberation Sans',sans-serif">18</text>
<text x="815.9" y="62.7" font-size="14" text-anchor="middle" fill="#FF0000" style="font-family:'Liberation Sans',sans-serif">19</text>
<text x="830.6" y="60.7" font-size="14" text-anchor="middle" fill="#FF0000" style="font-family:'Liberation Sans',sans-serif">20</text>
<text x="694.8" y="389" font-size="20" text-anchor="middle" fill="#111">Soft Threshold (power)</text>
<text x="515" y="213" font-size="20" text-anchor="middle" fill="#111" transform="rotate(-90 515 213)">R<tspan font-size="13" dy="-8">2</tspan></text>
<rect x="897" y="46.5" width="295.5" height="296.1" fill="none" stroke="#333" stroke-width="1.3"/>
<line x1="897" y1="332.4" x2="890" y2="332.4" stroke="#333" stroke-width="1.1"/>
<text x="885.5" y="332.4" font-size="18" text-anchor="middle" fill="#111" transform="rotate(-90 885.5 332.4)">0</text>
<line x1="897" y1="278.7" x2="890" y2="278.7" stroke="#333" stroke-width="1.1"/>
<text x="885.5" y="278.7" font-size="18" text-anchor="middle" fill="#111" transform="rotate(-90 885.5 278.7)">200</text>
<line x1="897" y1="225" x2="890" y2="225" stroke="#333" stroke-width="1.1"/>
<text x="885.5" y="225" font-size="18" text-anchor="middle" fill="#111" transform="rotate(-90 885.5 225)">400</text>
<line x1="897" y1="171.4" x2="890" y2="171.4" stroke="#333" stroke-width="1.1"/>
<text x="885.5" y="171.4" font-size="18" text-anchor="middle" fill="#111" transform="rotate(-90 885.5 171.4)">600</text>
<line x1="897" y1="117.7" x2="890" y2="117.7" stroke="#333" stroke-width="1.1"/>
<text x="885.5" y="117.7" font-size="18" text-anchor="middle" fill="#111" transform="rotate(-90 885.5 117.7)">800</text>
<line x1="897" y1="64" x2="890" y2="64" stroke="#333" stroke-width="1.1"/>
<text x="885.5" y="64" font-size="18" text-anchor="middle" fill="#111" transform="rotate(-90 885.5 64)">1000</text>
<line x1="965.4" y1="342.6" x2="965.4" y2="349.6" stroke="#333" stroke-width="1.1"/>
<text x="965.4" y="366.6" font-size="18" text-anchor="middle" fill="#111">5</text>
<line x1="1037.3" y1="342.6" x2="1037.3" y2="349.6" stroke="#333" stroke-width="1.1"/>
<text x="1037.3" y="366.6" font-size="18" text-anchor="middle" fill="#111">10</text>
<line x1="1109.3" y1="342.6" x2="1109.3" y2="349.6" stroke="#333" stroke-width="1.1"/>
<text x="1109.3" y="366.6" font-size="18" text-anchor="middle" fill="#111">15</text>
<line x1="1181.2" y1="342.6" x2="1181.2" y2="349.6" stroke="#333" stroke-width="1.1"/>
<text x="1181.2" y="366.6" font-size="18" text-anchor="middle" fill="#111">20</text>
<text x="907.8" y="62.9" font-size="14" text-anchor="middle" fill="#FF0000" style="font-family:'Liberation Sans',sans-serif">1</text>
<text x="922.2" y="206.6" font-size="14" text-anchor="middle" fill="#FF0000" style="font-family:'Liberation Sans',sans-serif">2</text>
<text x="936.6" y="264.5" font-size="14" text-anchor="middle" fill="#FF0000" style="font-family:'Liberation Sans',sans-serif">3</text>
<text x="951" y="292.4" font-size="14" text-anchor="middle" fill="#FF0000" style="font-family:'Liberation Sans',sans-serif">4</text>
<text x="965.4" y="308" font-size="14" text-anchor="middle" fill="#FF0000" style="font-family:'Liberation Sans',sans-serif">5</text>
<text x="979.8" y="317" font-size="14" text-anchor="middle" fill="#FF0000" style="font-family:'Liberation Sans',sans-serif">6</text>
<text x="994.2" y="323.6" font-size="14" text-anchor="middle" fill="#FF0000" style="font-family:'Liberation Sans',sans-serif">7</text>
<text x="1008.6" y="327.5" font-size="14" text-anchor="middle" fill="#FF0000" style="font-family:'Liberation Sans',sans-serif">8</text>
<text x="1023" y="330.5" font-size="14" text-anchor="middle" fill="#FF0000" style="font-family:'Liberation Sans',sans-serif">9</text>
<text x="1037.3" y="332" font-size="14" text-anchor="middle" fill="#FF0000" style="font-family:'Liberation Sans',sans-serif">10</text>
<text x="1051.7" y="333.5" font-size="14" text-anchor="middle" fill="#FF0000" style="font-family:'Liberation Sans',sans-serif">11</text>
<text x="1066.1" y="334.5" font-size="14" text-anchor="middle" fill="#FF0000" style="font-family:'Liberation Sans',sans-serif">12</text>
<text x="1080.5" y="335" font-size="14" text-anchor="middle" fill="#FF0000" style="font-family:'Liberation Sans',sans-serif">13</text>
<text x="1094.9" y="335" font-size="14" text-anchor="middle" fill="#FF0000" style="font-family:'Liberation Sans',sans-serif">14</text>
<text x="1109.3" y="335.5" font-size="14" text-anchor="middle" fill="#FF0000" style="font-family:'Liberation Sans',sans-serif">15</text>
<text x="1123.7" y="335.5" font-size="14" text-anchor="middle" fill="#FF0000" style="font-family:'Liberation Sans',sans-serif">16</text>
<text x="1138.1" y="335.5" font-size="14" text-anchor="middle" fill="#FF0000" style="font-family:'Liberation Sans',sans-serif">17</text>
<text x="1152.5" y="336" font-size="14" text-anchor="middle" fill="#FF0000" style="font-family:'Liberation Sans',sans-serif">18</text>
<text x="1166.9" y="336" font-size="14" text-anchor="middle" fill="#FF0000" style="font-family:'Liberation Sans',sans-serif">19</text>
<text x="1181.2" y="336" font-size="14" text-anchor="middle" fill="#FF0000" style="font-family:'Liberation Sans',sans-serif">20</text>
<text x="1051" y="386" font-size="20" text-anchor="middle" fill="#111">Soft Threshold (power)</text>
<text x="865" y="187" font-size="20" text-anchor="middle" fill="#111" transform="rotate(-90 865 187)">Mean connectivity</text>
<text x="554.2" y="426.7" font-size="30" text-anchor="middle" fill="#000" font-weight="bold">(B)</text>
<line x1="62.2" y1="439.2" x2="62.2" y2="820.2" stroke="#333" stroke-width="1.2"/>
<line x1="62.2" y1="439.2" x2="54" y2="439.2" stroke="#333" stroke-width="1.1"/>
<text x="45" y="439.2" font-size="18" text-anchor="middle" fill="#111" transform="rotate(-90 45 439.2)">1</text>
<line x1="62.2" y1="534.2" x2="54" y2="534.2" stroke="#333" stroke-width="1.1"/>
<text x="45" y="534.2" font-size="18" text-anchor="middle" fill="#111" transform="rotate(-90 45 534.2)">0.8</text>
<line x1="62.2" y1="629.2" x2="54" y2="629.2" stroke="#333" stroke-width="1.1"/>
<text x="45" y="629.2" font-size="18" text-anchor="middle" fill="#111" transform="rotate(-90 45 629.2)">0.6</text>
<line x1="62.2" y1="724.2" x2="54" y2="724.2" stroke="#333" stroke-width="1.1"/>
<text x="45" y="724.2" font-size="18" text-anchor="middle" fill="#111" transform="rotate(-90 45 724.2)">0.4</text>
<line x1="62.2" y1="819.2" x2="54" y2="819.2" stroke="#333" stroke-width="1.1"/>
<text x="45" y="819.2" font-size="18" text-anchor="middle" fill="#111" transform="rotate(-90 45 819.2)">0.2</text>
<text x="25" y="633" font-size="20" text-anchor="middle" fill="#111" transform="rotate(-90 25 633)">Height</text>
<path d="M100.5 458V832M112.5 456V832M125.5 457V832M137.5 461V832M150.5 461V832M162.5 460V832M174.5 461V832M187.5 460V832M199.5 460V832M212.5 460V832M224.5 460V832M237.5 461V832M249.5 462V832M261.5 466V832M274.5 468V832M286.5 469V832M299.5 467V832M311.5 470V832M324.5 470V832M336.5 466V832M349.5 472V832M361.5 467V832M373.5 472V832M386.5 471V832M398.5 476V832M411.5 479V832M423.5 483V832M436.5 485V832M448.5 483V832M461.5 482V832M473.5 483V832M485.5 490V832M498.5 487V832M510.5 487V832M523.5 488V832M535.5 486V832M548.5 488V832M560.5 493V832M572.5 492V832M585.5 495V832M597.5 494V832M610.5 493V832M622.5 494V832M635.5 499V832M647.5 488V832M660.5 489V832M672.5 495V832M684.5 496V832M697.5 502V832M709.5 464V832" stroke="#9C9C9C" stroke-width="1" stroke-dasharray="1.2 2.8" fill="none"/>
<line x1="87.5" y1="440.2" x2="710" y2="440.2" stroke="#000" stroke-width="1.6"/>
<line x1="709.5" y1="440.2" x2="709.5" y2="455.5" stroke="#000" stroke-width="1.4"/>
<polygon points="87.5,439.5 380,439.5 380,452 300,452 230,451 87.5,450.3" fill="#000"/>
<path d="M102.7 449.5L104.4 449.5L103.7 454.1L103.3 454.1ZM159.9 449.5L162 449.5L161.5 460.3L160.3 460.3ZM166.2 449.5L168.8 449.5L168.2 450.4L166.9 450.4ZM225 449.5L226.7 449.5L226.1 451.6L225.6 451.6ZM121 449.5L122.6 449.5L122 453.3L121.6 453.3ZM204.7 449.5L207.7 449.5L206.9 450.6L205.5 450.6ZM149.9 449.5L151.7 449.5L151.1 454.5L150.4 454.5ZM198.7 449.5L201.6 449.5L200.6 451.9L199.6 451.9ZM93 449.5L94.5 449.5L94 451.8L93.5 451.8ZM206.8 449.5L208.7 449.5L208 451.3L207.5 451.3ZM172 449.5L174.6 449.5L173.9 464.9L172.7 464.9ZM195.6 449.5L196.6 449.5L196.3 450.5L195.9 450.5ZM176.7 449.5L177.8 449.5L177.4 452.1L177 452.1ZM185.4 449.5L187.2 449.5L186.8 462.4L185.8 462.4ZM160.9 449.5L162.3 449.5L161.9 451.8L161.3 451.8ZM221.9 449.5L222.7 449.5L222.5 453.2L222.1 453.2ZM105.8 449.5L108 449.5L107.4 451.5L106.5 451.5ZM227.6 449.5L228.3 449.5L228.2 458L227.8 458ZM209.1 449.5L210.6 449.5L210.3 468.3L209.4 468.3ZM97.4 449.5L98.9 449.5L98.5 451.5L97.7 451.5ZM216.3 449.5L218.8 449.5L218.1 463.7L217 463.7ZM214.9 449.5L216.2 449.5L215.8 450.3L215.2 450.3ZM151.1 449.5L151.7 449.5L151.6 460.9L151.2 460.9ZM122.2 449.5L123 449.5L122.8 456.3L122.4 456.3ZM131.3 449.5L133.3 449.5L132.5 471.3L132.1 471.3ZM218.3 449.5L220.7 449.5L220.2 451.6L218.9 451.6ZM177.6 449.5L179.3 449.5L178.8 451.4L178.1 451.4ZM137.4 449.5L138.2 449.5L138 450.9L137.6 450.9ZM153 449.5L155 449.5L154.3 459.5L153.8 459.5ZM103.9 449.5L106.6 449.5L105.7 455L104.9 455ZM119.1 449.5L121.3 449.5L120.6 453.8L119.8 453.8ZM222.3 449.5L223 449.5L222.8 456.6L222.4 456.6ZM171.8 449.5L173.8 449.5L173.4 449.8L172.2 449.8ZM94.6 449.5L96.1 449.5L95.8 453.1L95 453.1ZM188.3 449.5L190.9 449.5L190.4 455.3L188.8 455.3ZM132.7 449.5L134.3 449.5L133.8 455.3L133.3 455.3ZM107.7 449.5L109.9 449.5L109.4 452.6L108.2 452.6ZM181.8 449.5L182.5 449.5L182.4 450.3L182 450.3ZM133.5 449.5L134.6 449.5L134.3 457.2L133.9 457.2ZM147 449.5L148.5 449.5L148 479.5L147.4 479.5ZM93.2 449.5L96.1 449.5L95 474.9L94.3 474.9ZM209.9 449.5L212 449.5L211.4 467L210.4 467Z" fill="#000"/>
<path d="M177.2 449.5v18.4M93.1 449.5v1.2M105.3 449.5v0.2M121.6 449.5v0.5M104.1 449.5v4.8M111.7 449.5v0.7M224.2 449.5v28.4M216 449.5v1M171.8 449.5v30.1M150.5 449.5v8M213.7 449.5v27.7M170 449.5v3.6M192.5 449.5v15.1M128.8 449.5v6.8M186.7 449.5v2.8M142.9 449.5v8.9M140.1 449.5v24.9M131.1 449.5v7.3M204.3 449.5v0.4M135.4 449.5v2.3M165.5 449.5v39M144.3 449.5v28.9M111 449.5v34M134 449.5v4.4M126.3 449.5v23.6M118.7 449.5v0.7M91.1 449.5v9M174 449.5v4.8M181.4 449.5v8.2M206.5 449.5v4.9M196.3 449.5v8.2M228.5 449.5v12.7M220.6 449.5v6M182.9 449.5v1.7M116.8 449.5v10.6M127.3 449.5v20.5M101.5 449.5v21.7M218.9 449.5v39M126.2 449.5v11.2M177.8 449.5v13.6M146.7 449.5v1.2M146.3 449.5v8.9" stroke="#000" stroke-width="0.8" stroke-opacity="0.75" fill="none"/>
<path d="M246.5 451L248.7 451L247.9 496L247.3 496ZM356.6 451L358.3 451L357.7 463.6L357.3 463.6ZM356.1 451L359.4 451L358.3 455.4L357.2 455.4ZM281.6 451L284.3 451L283.6 462.8L282.3 462.8ZM229.3 451L232.8 451L231.6 496L230.4 496ZM273.7 451L276.4 451L275.5 472.1L274.5 472.1ZM285.8 451L287.3 451L286.8 473.4L286.3 473.4ZM373.9 451L376.8 451L375.8 454.6L374.9 454.6ZM373.8 451L377.9 451L376.2 491.6L375.4 491.6ZM266.4 451L270.5 451L269.3 455.6L267.6 455.6ZM275.4 451L278.4 451L277.7 458.5L276.1 458.5ZM337.9 451L340.2 451L339.3 459.1L338.8 459.1ZM330.3 451L332.6 451L331.7 451.1L331.2 451.1ZM263.3 451L265.5 451L264.9 460L263.9 460ZM368.7 451L369.9 451L369.5 453.7L369 453.7ZM288.4 451L292 451L291 480.8L289.5 480.8ZM332 451L335.5 451L334.3 452.3L333.1 452.3ZM284.6 451L285.4 451L285.2 455.8L284.8 455.8ZM327.5 451L329.3 451L328.9 456.5L327.9 456.5ZM304.1 451L308.5 451L307.2 464L305.4 464ZM351.7 451L353.1 451L352.7 480.1L352.2 480.1ZM237.6 451L240.4 451L239.6 452.5L238.4 452.5ZM323 451L326.4 451L325 466.3L324.3 466.3ZM228.7 451L232.1 451L231.4 461.5L229.5 461.5ZM289.1 451L290.1 451L289.8 451.2L289.4 451.2ZM254.5 451L258.1 451L257.3 461.9L255.3 461.9ZM363 451L365.6 451L364.7 453L364 453ZM319.7 451L320.8 451L320.5 460.5L320 460.5ZM233.9 451L234.8 451L234.6 489.4L234.2 489.4ZM299 451L301.3 451L300.7 471.9L299.6 471.9ZM331.3 451L334.1 451L333.1 453L332.3 453ZM271 451L271.7 451L271.5 463.9L271.1 463.9ZM371.7 451L372.6 451L372.4 453.8L372 453.8ZM232.2 451L233.7 451L233.3 457.6L232.6 457.6ZM236.2 451L237 451L236.8 454.5L236.4 454.5ZM252.5 451L255.4 451L254.2 453.5L253.6 453.5ZM358.9 451L361.2 451L360.4 458L359.7 458ZM360.8 451L365.2 451L364.1 451.9L362 451.9ZM329.8 451L332.7 451L331.8 457.9L330.7 457.9ZM336.4 451L337.1 451L337 477.3L336.6 477.3ZM254.4 451L256.5 451L256.1 451.1L254.9 451.1ZM288.4 451L290.4 451L290 456.3L288.9 456.3ZM278.8 451L282 451L281 493.3L279.8 493.3ZM365.6 451L368.3 451L367.5 457.4L366.4 457.4ZM280.5 451L282.8 451L281.9 455.3L281.4 455.3ZM350 451L351.5 451L350.9 452.8L350.5 452.8ZM309.9 451L313.6 451L312.4 461.5L311 461.5ZM348.5 451L350 451L349.5 457L349 457ZM289.2 451L292.3 451L291.3 462.3L290.3 462.3ZM300.7 451L302.1 451L301.7 476.4L301.1 476.4ZM369.1 451L373.6 451L372.2 462.8L370.5 462.8ZM377.2 451L379.8 451L379 457.7L378 457.7ZM247.1 451L250.6 451L249.2 465.7L248.4 465.7ZM356 451L359.5 451L358.1 469.8L357.4 469.8ZM337.2 451L338.3 451L338 451.2L337.5 451.2ZM332.4 451L336 451L334.7 454.4L333.7 454.4ZM363.3 451L364.1 451L363.9 482.9L363.5 482.9ZM343.1 451L344.4 451L344 467.5L343.6 467.5ZM271.4 451L275.2 451L273.9 457.6L272.6 457.6ZM355.4 451L357.9 451L357.2 463.9L356.1 463.9ZM357.3 451L361.6 451L360.2 453.5L358.7 453.5ZM348.3 451L351.6 451L350.3 480.5L349.6 480.5ZM334.4 451L336.8 451L336 496L335.1 496ZM365.4 451L366.4 451L366.1 455.5L365.7 455.5ZM320.6 451L322.1 451L321.6 465.7L321.1 465.7ZM320.1 451L322.4 451L321.6 469.4L321 469.4ZM339.4 451L342.1 451L341.5 463.9L340 463.9ZM313.9 451L315.4 451L315 460L314.4 460ZM367.2 451L370.5 451L369.8 462.1L367.9 462.1ZM245 451L248.6 451L247.8 464.9L245.8 464.9ZM359.8 451L362.7 451L362.1 466.5L360.4 466.5ZM331.8 451L332.5 451L332.4 456L332 456ZM279.8 451L283.9 451L282.9 458L280.8 458ZM378.2 451L381.2 451L380.3 454.2L379.1 454.2ZM280.2 451L284.5 451L283.1 458.6L281.6 458.6ZM303.8 451L307.1 451L306.2 474.7L304.7 474.7ZM304.7 451L307.9 451L307.1 454L305.5 454ZM355.2 451L358.8 451L357.5 459.7L356.5 459.7ZM370.9 451L374.8 451L373.4 461.6L372.3 461.6ZM252.7 451L256.4 451L255.1 454.5L254 454.5ZM373.9 451L375.2 451L374.7 456.5L374.3 456.5ZM324.9 451L326 451L325.7 466.1L325.3 466.1ZM300.7 451L304.1 451L303.2 451.1L301.6 451.1ZM248.4 451L251.5 451L250.4 466.6L249.6 466.6ZM334.7 451L337.6 451L336.8 454.6L335.5 454.6ZM246.6 451L248.8 451L248.2 487.8L247.2 487.8ZM251 451L255.4 451L254 474.8L252.4 474.8ZM259.3 451L262.6 451L261.6 451.2L260.3 451.2ZM234.5 451L238.6 451L237 455.7L236 455.7ZM274.2 451L278.5 451L277.2 453.3L275.5 453.3ZM314.5 451L316.2 451L315.6 461.6L315.2 461.6ZM298.1 451L302.5 451L301.4 459.6L299.2 459.6ZM278 451L281.5 451L280.6 455L279 455ZM372.3 451L374.8 451L373.9 470.9L373.1 470.9ZM283.4 451L284.4 451L284.1 455.4L283.7 455.4ZM337.9 451L341.3 451L340 464.8L339.2 464.8ZM341.8 451L342.5 451L342.3 457.5L341.9 457.5ZM283 451L287.4 451L286.4 460.7L284 460.7ZM331.8 451L332.8 451L332.5 467.5L332.1 467.5ZM321.5 451L323.6 451L322.9 464.5L322.2 464.5ZM264 451L265.1 451L264.8 483.8L264.2 483.8ZM267.6 451L268.4 451L268.2 452.5L267.8 452.5ZM365.9 451L370.4 451L368.7 457.7L367.7 457.7ZM261.3 451L263.6 451L263.1 468.1L261.8 468.1ZM318.9 451L321.9 451L320.8 453L320 453ZM249.2 451L252.3 451L251.7 457.7L249.8 457.7ZM356.4 451L358.8 451L358 454.2L357.2 454.2ZM233.3 451L236.3 451L235.4 474.3L234.2 474.3ZM251 451L251.9 451L251.7 451.7L251.3 451.7ZM363.2 451L364 451L363.8 451.1L363.3 451.1ZM254.7 451L258.2 451L256.8 457.2L256.1 457.2ZM349 451L352.2 451L351.3 461.9L350 461.9ZM310.1 451L312.7 451L311.9 458.3L310.9 458.3ZM323.3 451L324.5 451L324.1 457.7L323.6 457.7ZM240.3 451L244.1 451L242.8 467.7L241.6 467.7ZM327.4 451L330.2 451L329.3 458.1L328.3 458.1ZM327.9 451L329 451L328.7 477.1L328.2 477.1ZM323.1 451L327 451L326 454.3L324.1 454.3ZM333.1 451L334.3 451L334 462.2L333.5 462.2ZM370.5 451L372.5 451L371.9 454.6L371.1 454.6ZM268.4 451L269.9 451L269.4 496L269 496ZM341.7 451L343.2 451L342.8 474.6L342.1 474.6ZM256.5 451L259.7 451L258.6 467.1L257.7 467.1ZM297.4 451L300.1 451L299.4 466.5L298.1 466.5ZM365 451L367.8 451L367.1 475.8L365.7 475.8ZM349.5 451L350.6 451L350.3 460.1L349.8 460.1ZM353.6 451L357.9 451L357 463.8L354.5 463.8ZM306.1 451L308.5 451L307.8 466.1L306.8 466.1ZM374.5 451L375.9 451L375.4 459.4L375 459.4ZM284.5 451L287.5 451L286.3 457.7L285.7 457.7ZM234.6 451L237.9 451L236.9 491.5L235.6 491.5ZM247.5 451L248.6 451L248.3 482.1L247.9 482.1ZM377.6 451L379 451L378.6 452.6L378 452.6ZM282.2 451L284.2 451L283.7 474.9L282.7 474.9ZM340.1 451L340.7 451L340.6 454.8L340.2 454.8Z" fill="#000"/>
<path d="M307 451v15.5M283.5 451v14M352.5 451v9.1M283.4 451v8.2M320.5 451v0.7M366.5 451v5.8M283.2 451v24.6M233.2 451v58.5M296 451v32.6M303.2 451v1.6M268.8 451v3.4M369.7 451v43M330.4 451v37.6M318.2 451v6M379.6 451v29.8M270.3 451v12.2M233.7 451v58.5M303.1 451v13.8M234.7 451v37.8M241.2 451v20.1M326.7 451v19.1M356.4 451v58.5M333.9 451v12.4M264.4 451v58.5M307.5 451v9.3M309.2 451v7.8M249.6 451v20.4M261.7 451v35.6M339.1 451v8.4M300.3 451v57.6M277.2 451v8.5M302.5 451v5.3M267.3 451v43.5M321.3 451v20.7M339 451v3.2M287.7 451v1.4M378.7 451v9.2M316 451v18.3M250.9 451v24.9M367.3 451v48.5M244.3 451v4.6M293.9 451v17.6M244.8 451v32.7M349 451v5.7M349.5 451v3.2M240.8 451v58.5M281.2 451v9.4M358 451v5.9M360.9 451v26.2M280.2 451v25.3M330.8 451v44.7M347.4 451v14.6M364.1 451v34.5M379.5 451v3.4M260.8 451v45.7M330.7 451v10.8M289.4 451v30.8M369.4 451v18.4M251.6 451v26.5M267.8 451v17.6M328.8 451v58.5M241 451v4.4M368.7 451v18.3M275.6 451v9.1M300.2 451v58.5M333.5 451v26.6M368.3 451v37.9M277.9 451v4M364.7 451v16.4M343.8 451v20.5M265.5 451v0.4M237.2 451v12.4M363.9 451v6.9M305.3 451v2.2M266.3 451v1.2" stroke="#000" stroke-width="0.8" stroke-opacity="0.75" fill="none"/>
<line x1="98.5" y1="450" x2="98.5" y2="474" stroke="#777" stroke-width="2.5"/>
<line x1="101" y1="450" x2="101" y2="730" stroke="#333" stroke-width="1.3"/>
<line x1="104.5" y1="450" x2="104.5" y2="648" stroke="#222" stroke-width="1.3"/>
<line x1="120.2" y1="450" x2="120.2" y2="468" stroke="#000" stroke-width="1.5"/>
<line x1="125.2" y1="450" x2="125.2" y2="610.5" stroke="#555" stroke-width="1.3"/>
<line x1="133.7" y1="450" x2="133.7" y2="719" stroke="#222" stroke-width="1.3"/>
<line x1="136" y1="450" x2="136" y2="475" stroke="#000" stroke-width="1.8"/>
<line x1="150.7" y1="450" x2="150.7" y2="809" stroke="#222" stroke-width="1.3"/>
<line x1="155" y1="450" x2="155" y2="671" stroke="#444" stroke-width="1.3"/>
<line x1="162.5" y1="450" x2="162.5" y2="479" stroke="#000" stroke-width="1.6"/>
<line x1="184.7" y1="450" x2="184.7" y2="767" stroke="#222" stroke-width="1.5"/>
<line x1="208.8" y1="450" x2="208.8" y2="491" stroke="#000" stroke-width="1.8"/>
<line x1="228.6" y1="450" x2="228.6" y2="552" stroke="#333" stroke-width="1.3"/>
<line x1="247" y1="450" x2="247" y2="540" stroke="#222" stroke-width="1.4"/>
<line x1="257.5" y1="450" x2="257.5" y2="483" stroke="#000" stroke-width="1.4"/>
<line x1="266.9" y1="450" x2="266.9" y2="670" stroke="#222" stroke-width="1.4"/>
<line x1="282.4" y1="450" x2="282.4" y2="552" stroke="#222" stroke-width="1.4"/>
<line x1="296.6" y1="450" x2="296.6" y2="550" stroke="#222" stroke-width="1.4"/>
<line x1="301.4" y1="450" x2="301.4" y2="511" stroke="#000" stroke-width="1.4"/>
<line x1="308" y1="450" x2="308" y2="488" stroke="#000" stroke-width="1.8"/>
<line x1="336" y1="450" x2="336" y2="490" stroke="#000" stroke-width="1.8"/>
<line x1="343" y1="450" x2="343" y2="484" stroke="#000" stroke-width="1.4"/>
<line x1="383.8" y1="445" x2="383.8" y2="562.5" stroke="#222" stroke-width="1.3"/>
<line x1="446.2" y1="450" x2="446.2" y2="602.2" stroke="#222" stroke-width="1.3"/>
<line x1="652.5" y1="452" x2="652.5" y2="585.3" stroke="#222" stroke-width="1.3"/>
<line x1="685.5" y1="442" x2="685.5" y2="522" stroke="#222" stroke-width="1.3"/>
<polygon points="147.5,450 154,450 153,470 152,500 150,509 148.5,470" fill="#000"/>
<path d="M264 441 C268 480 273 560 278 682" stroke="#000" stroke-width="2.2" fill="none"/>
<path d="M262.5 450 L265.5 670" stroke="#000" stroke-width="1.5" fill="none"/>
<polygon points="367.5,450 375,450 374,480 372,530 371,557 369.5,520 368,480" fill="#000"/>
<polygon points="377,442 382,443 386,450 386,462 384,478 380,481 377,470" fill="#000"/>
<path d="M377.8 473.3L378.5 473.3L378.4 473.6L378 473.6ZM380.8 478.4L383.5 478.4L382.6 478.4L381.8 478.4ZM382.5 477.9L383.1 477.9L383 479.9L382.6 479.9ZM378.3 479.6L381.5 479.6L380.5 479.7L379.3 479.7Z" fill="#000"/>
<path d="M382.5 478.1v12.9M378.6 474.8v15.6" stroke="#000" stroke-width="0.8" stroke-opacity="0.75" fill="none"/>
<path d="M381 442 C389 458 396 520 403 620" stroke="#000" stroke-width="2.6" fill="none"/>
<path d="M399 550 C401 565 402 580 401 592" stroke="#000" stroke-width="1.6" fill="none"/>
<line x1="388" y1="455.3" x2="404.5" y2="455.3" stroke="#000" stroke-width="1.0"/>
<polygon points="404.5,456 406.5,456 409,480 412.7,524 410.5,524 407,505 404.5,480" fill="#000"/>
<path d="M405 458 L406 500" stroke="#000" stroke-width="1" fill="none"/>
<polygon points="412.7,440.5 505,446 517,457.5 526,477 531,499.5 533,522 533,522 531,520 527,500 522,483 515,470 505,463 490,460 470,459 450,458 430,456 412.7,455" fill="#000"/>
<path d="M508 464.4L509 464.4L508.7 478.7L508.3 478.7ZM530.5 519.5L532.6 519.5L532.1 561.8L530.9 561.8ZM414.9 454.2L416.7 454.2L416.1 470.1L415.5 470.1ZM461 457.6L464.3 457.6L463.1 484.7L462.2 484.7ZM414.2 454.1L415.6 454.1L415.3 465.4L414.6 465.4ZM454.7 457.3L456.8 457.3L456.2 463.6L455.3 463.6ZM516.3 472.5L517.5 472.5L517.1 522.5L516.6 522.5ZM438.9 456L441.9 456L441 481.2L439.8 481.2ZM414.9 454.2L418.1 454.2L417.2 470L415.8 470ZM496.3 460.5L499.1 460.5L498.2 467.3L497.1 467.3ZM444.9 456.6L446.4 456.6L445.9 468.8L445.5 468.8ZM507.8 465.5L512.3 465.5L511 468L509.1 468ZM458.7 457.5L463.1 457.5L461.9 499L459.9 499ZM426 454.8L428.8 454.8L428.1 458.3L426.7 458.3ZM442.4 456.4L445.4 456.4L444.7 476.5L443 476.5ZM515.5 473.6L519.4 473.6L518.3 496.2L516.7 496.2ZM453.2 457.2L456.6 457.2L455.8 466L454 466ZM436.3 455.8L440.4 455.8L439.1 490.5L437.6 490.5ZM436.4 455.8L440.1 455.8L439.1 456.2L437.4 456.2ZM412.7 454.1L416.4 454.1L415.4 490.8L413.7 490.8ZM454.1 457.2L455.6 457.2L455.3 464.3L454.5 464.3ZM456.3 457.4L459.5 457.4L458.2 486.9L457.5 486.9ZM413.5 454.1L416.9 454.1L415.8 458.3L414.6 458.3ZM450.8 457.1L453.1 457.1L452.5 462L451.3 462ZM470.5 458.1L474.9 458.1L473.5 481.6L471.8 481.6ZM523.2 492.4L526.8 492.4L525.5 538.6L524.6 538.6ZM448.3 456.9L449.3 456.9L449.1 456.9L448.5 456.9ZM441.8 456.3L443.7 456.3L443.3 470.4L442.2 470.4ZM437.8 455.8L438.6 455.8L438.4 478.7L438 478.7ZM500.8 461.2L501.6 461.2L501.4 483.5L501 483.5ZM464.4 457.8L465.6 457.8L465.3 499L464.7 499ZM508.9 465.2L510.1 465.2L509.7 501.8L509.3 501.8ZM447.8 456.9L450.4 456.9L449.8 463.4L448.5 463.4ZM467.5 457.9L469.7 457.9L469.1 466L468.1 466ZM491.7 459.5L493.8 459.5L493.3 465.7L492.1 465.7ZM482.4 458.7L483.8 458.7L483.3 473.5L482.9 473.5ZM427.5 454.9L430.4 454.9L429.6 467.8L428.2 467.8ZM499.9 461.1L500.7 461.1L500.5 494.7L500.1 494.7ZM423.8 454.8L428.1 454.8L426.9 504.8L425.1 504.8ZM412.3 454L413.7 454L413.3 465.7L412.7 465.7ZM476.1 458.4L480.6 458.4L479.5 469.7L477.1 469.7ZM527.4 503.3L528.3 503.3L528.1 553.3L527.6 553.3ZM528.9 512.2L530.4 512.2L530 513.3L529.3 513.3ZM413.7 454.1L415.4 454.1L414.8 504.1L414.3 504.1ZM416.6 454.3L420.3 454.3L419 499.9L417.9 499.9ZM451.5 457.1L452.3 457.1L452.1 466.2L451.7 466.2ZM451.4 457.1L453.6 457.1L453 507.1L451.9 507.1ZM443.9 456.5L446.1 456.5L445.4 468.1L444.6 468.1ZM429.1 455.1L432.7 455.1L431.8 487.1L430 487.1ZM519.2 479.7L522.3 479.7L521.4 483.8L520.1 483.8ZM530 519.6L533.3 519.6L532.6 539.3L530.6 539.3ZM510.4 466.9L513.6 466.9L512.7 468.3L511.3 468.3ZM415.1 454.2L418.4 454.2L417.5 462L416 462ZM493.9 460L496.3 460L495.5 476.6L494.6 476.6ZM481 458.6L483.4 458.6L482.7 474.2L481.7 474.2ZM452.5 457.2L455.3 457.2L454.6 464.4L453.2 464.4ZM505.9 464L509.9 464L508.4 470.6L507.5 470.6ZM529.3 514.5L530.9 514.5L530.5 530.7L529.7 530.7ZM419.5 454.5L423.2 454.5L422.4 470.9L420.3 470.9ZM504 462L505.6 462L505.2 489.5L504.3 489.5ZM453.1 457.2L456 457.2L455.4 469.9L453.7 469.9ZM418.8 454.5L422.4 454.5L421.1 461.2L420.1 461.2ZM432 455.3L434.1 455.3L433.3 472.1L432.8 472.1ZM491.7 459.5L493 459.5L492.7 503.6L492 503.6ZM489.1 459.2L493.2 459.2L491.9 465.1L490.4 465.1ZM515.5 472L517.7 472L517.1 479.9L516 479.9ZM456.8 457.4L458.8 457.4L458.2 473.7L457.4 473.7ZM447.5 456.9L450.7 456.9L449.6 461.7L448.6 461.7ZM465.9 457.8L466.9 457.8L466.6 472.9L466.1 472.9ZM432.4 455.4L435 455.4L434 455.5L433.4 455.5ZM469.9 458.1L473.1 458.1L472.1 472.7L470.8 472.7ZM508.3 464.9L509.9 464.9L509.3 477.1L508.9 477.1ZM442.5 456.4L445.4 456.4L444.5 461.9L443.3 461.9ZM522.2 485.4L523.8 485.4L523.3 490L522.7 490ZM474.6 458.3L477.1 458.3L476.2 459.7L475.6 459.7ZM527.1 504L528.9 504L528.5 526.7L527.5 526.7ZM498 460.8L500 460.8L499.5 461.4L498.5 461.4ZM528.2 510.8L530.5 510.8L529.7 524.9L529 524.9ZM439.4 456.1L443.4 456.1L442.3 458.2L440.5 458.2ZM528.4 515.6L532.3 515.6L530.8 528.6L529.9 528.6ZM435.2 455.7L439.1 455.7L437.9 457L436.4 457ZM458.9 457.5L461.1 457.5L460.5 498.7L459.5 498.7ZM507.4 464.1L508.4 464.1L508.2 476.5L507.6 476.5ZM495.9 460.4L498.2 460.4L497.3 510.4L496.7 510.4ZM419.5 454.5L421.6 454.5L421.1 456.6L420 456.6ZM413.1 454.1L414.6 454.1L414.2 457.4L413.5 457.4ZM523.2 489L524.9 489L524.4 495.1L523.8 495.1ZM467.5 457.9L468.5 457.9L468.2 486.1L467.8 486.1ZM413.3 454.1L415.8 454.1L414.9 482.4L414.2 482.4ZM465.4 457.9L469.3 457.9L468 461.2L466.7 461.2ZM515.1 471.8L517.9 471.8L517.3 492.5L515.8 492.5ZM428.5 455L430.7 455L430.1 455.7L429.1 455.7ZM450.6 457.1L451.9 457.1L451.5 507.1L451.1 507.1ZM476.2 458.4L478.8 458.4L478 459.7L477.1 459.7ZM491.7 459.5L493.5 459.5L493.1 467L492.1 467ZM493.7 459.9L495.5 459.9L494.9 464.2L494.3 464.2ZM463.8 457.8L466.5 457.8L465.5 463.2L464.8 463.2ZM436.1 455.8L439.2 455.8L438.4 496.2L436.9 496.2ZM497.5 460.6L498.7 460.6L498.3 500.6L497.9 500.6ZM465.9 457.9L469.3 457.9L468.4 474.2L466.8 474.2ZM413.3 454.1L414.2 454.1L414 499.4L413.5 499.4ZM416.2 454.2L417.7 454.2L417.2 462.9L416.7 462.9ZM435.7 455.8L440.1 455.8L438.7 469.9L437.1 469.9ZM499.6 461.1L501 461.1L500.5 464.5L500.1 464.5ZM515.4 470.7L516.5 470.7L516.2 472.9L515.6 472.9ZM509.4 466L511.9 466L511.3 466.2L510 466.2ZM500.8 461.3L502 461.3L501.7 465L501.1 465ZM500.9 461.6L504.6 461.6L503.3 473L502.3 473ZM504.5 462.9L507.9 462.9L506.9 473.8L505.6 473.8ZM436.5 455.7L437.4 455.7L437.2 456.5L436.8 456.5ZM511.3 467.6L514.7 467.6L513.6 476.3L512.4 476.3ZM515 473L519.2 473L517.7 475.1L516.6 475.1ZM464.6 457.8L468.2 457.8L467.3 489L465.5 489ZM496 460.5L499.4 460.5L498.3 466.1L497.2 466.1ZM478 458.4L479.4 458.4L479 502.1L478.4 502.1ZM438.3 456L442.7 456L441 462L439.9 462ZM446.1 456.8L449.3 456.8L448.2 474.5L447.3 474.5ZM430 455.1L431.3 455.1L430.9 461.1L430.4 461.1ZM416.4 454.3L418.4 454.3L417.6 470.3L417.1 470.3ZM490.3 459.3L493 459.3L492.2 460.5L491.1 460.5Z" fill="#000"/>
<path d="M414.8 454.1v36.5M519.7 477.7v58.6M436.8 455.7v7.9M449.1 456.9v21M503.7 461.7v5.4M469.3 458v35M504.7 461.9v56.3M482.3 458.6v8.6M482.5 458.6v2.5M412.9 454v5.2M431 455.1v8.6M433.4 455.3v10.3M470.6 458v9.6M456.5 457.3v2.8M512.8 467.5v39.7M499.8 461v14.6M502.6 461.5v2.9M432.1 455.2v12M417 454.2v1M482.4 458.6v12.8M496.5 460.3v12.9M513.4 467.9v1.9M500.2 461v31.8M455.9 457.3v26.1M423.5 454.6v0.1M490.3 459.1v43.5M449.2 456.9v7.3M425.5 454.7v6.5M431.1 455.1v7.6M477.8 458.4v9.4M442.3 456.2v20.2M417.8 454.3v7.1M526.9 498.7v8M479.5 458.5v65M522 482v31.1M477 458.4v6.6M424.1 454.7v2.7M419.2 454.4v37.6M497.1 460.4v5.7M502.2 461.4v2.2M433.3 455.3v44.1M532.8 520.8v13.2M487.8 458.9v2.8M481.2 458.6v3.1M492.6 459.5v5.9M442 456.2v35.8M474.4 458.2v41M511.5 466.6v1.8M453.3 457.2v2.5M438.6 455.9v35.6M433.7 455.4v8.7M422.8 454.6v34.2M483.9 458.7v4.8M450.9 457v64.3M507.3 463.6v0.8M507.6 463.8v3.8M474.2 458.2v4.4M508.7 464.6v35.3M437.2 455.7v62.1M495.2 460v29.6M420.7 454.5v0.1M518.6 475.8v0.9M475.9 458.3v9.6M421 454.5v22.2M420.2 454.4v48.4M418.8 454.3v10.9M462.2 457.6v25.3M529.6 511.8v21M509.3 465v16.3M505.6 462.4v16.5M443.9 456.4v28.4M449.1 456.9v1.3" stroke="#000" stroke-width="0.8" stroke-opacity="0.75" fill="none"/>
<path d="M529 505 C531 520 532 535 531.3 550.5" stroke="#000" stroke-width="1.8" fill="none"/>
<line x1="520" y1="446.2" x2="533" y2="446.2" stroke="#000" stroke-width="1.0"/>
<line x1="545" y1="449.5" x2="643.3" y2="449.5" stroke="#000" stroke-width="1.1"/>
<polygon points="533,446 553,450 570,468.7 578.3,482 585,498.7 586.5,522 586.5,522 583,507 578,495 572,484 565,474 555,464 545,462 533,460" fill="#000"/>
<path d="M556.3 465.9L559.6 465.9L558.4 476.2L557.5 476.2ZM552.3 462.7L555 462.7L554.2 487.7L553.1 487.7ZM571.7 484.9L574.3 484.9L573.6 494.5L572.4 494.5ZM535 459.6L538.3 459.6L537.5 474.2L535.8 474.2ZM577.6 494.8L579 494.8L578.6 502.8L578 502.8ZM578.7 498.7L581.2 498.7L580.7 523L579.2 523ZM534.3 459.4L537.1 459.4L536.3 464L535 464ZM573.5 487.4L575.3 487.4L574.9 491.7L573.9 491.7ZM543.8 461L546.7 461L545.9 475.2L544.5 475.2ZM580.3 502.1L582.4 502.1L581.7 505.4L581 505.4ZM563.4 473.4L567.2 473.4L566.1 492.4L564.6 492.4ZM554.2 463L555.8 463L555.3 464.4L554.6 464.4ZM536.5 459.7L538.4 459.7L537.7 465.4L537.2 465.4ZM549 462.2L553 462.2L552.1 464.1L549.9 464.1ZM553.6 463L556 463L555.1 465.5L554.5 465.5ZM565.6 475.2L567.5 475.2L566.9 495.6L566.2 495.6ZM550.2 462.2L551.4 462.2L551 463.8L550.6 463.8ZM574.8 491.5L578.4 491.5L577.2 520.6L576.1 520.6ZM548.2 462L551.8 462L550.8 476.1L549.2 476.1ZM576.9 496L580.8 496L579.2 500.5L578.4 500.5ZM578.2 495.6L579.1 495.6L578.9 498.1L578.5 498.1ZM566.6 477.5L569.7 477.5L569.1 487.7L567.2 487.7ZM570.7 483.5L573.9 483.5L572.7 493.4L571.9 493.4ZM572.6 485.4L574 485.4L573.6 490.2L573 490.2ZM550 462.1L551.5 462.1L551 465.3L550.5 465.3ZM569.5 481.5L572.4 481.5L571.7 506.5L570.2 506.5ZM534.8 459.5L537.6 459.5L536.9 465.7L535.5 465.7ZM532.2 459.2L535.8 459.2L534.4 478.9L533.5 478.9ZM552.3 462.6L554 462.6L553.4 469.1L553 469.1ZM564.4 473.7L566.6 473.7L565.9 500.3L565.1 500.3ZM531.5 459.1L535.3 459.1L533.9 461.9L532.9 461.9ZM580.9 503.9L583.3 503.9L582.4 533.9L581.8 533.9ZM562.6 472.5L566.5 472.5L565.1 481.4L564 481.4ZM574 487.3L574.7 487.3L574.5 494.5L574.1 494.5ZM535.6 459.8L539.4 459.8L538.3 468.9L536.8 468.9ZM584.2 515.2L586.1 515.2L585.4 536.2L584.8 536.2ZM576.4 493.3L578.7 493.3L578.1 493.7L577.1 493.7ZM580.2 500.8L581.5 500.8L581 515.6L580.6 515.6ZM548.3 461.9L550.7 461.9L550.1 472.2L548.8 472.2ZM562.5 472.4L566.4 472.4L565.1 485.9L563.7 485.9ZM569.3 480.3L570.9 480.3L570.4 500.3L569.8 500.3ZM564.3 474.7L568.1 474.7L567.1 479.4L565.3 479.4Z" fill="#000"/>
<path d="M552.4 462.5v5.5M575.4 489.3v9.2M539 460v37.5M566.3 474.9v10M554.8 463v2.5M580.7 500.6v0.6M547.9 461.6v11M568.4 477.8v27.1M555 463v1.1M554 462.8v18.2M554.2 462.8v24M578.6 495.3v1.9M557.1 465.1v0.2M561.5 469.5v17.2M549.3 461.9v13.3M552.2 462.4v39" stroke="#000" stroke-width="0.8" stroke-opacity="0.75" fill="none"/>
<line x1="533.5" y1="446" x2="533.5" y2="475" stroke="#000" stroke-width="1.6"/>
<line x1="560" y1="455.3" x2="593.3" y2="455.3" stroke="#000" stroke-width="1.0"/>
<line x1="618" y1="472.8" x2="635" y2="472.8" stroke="#000" stroke-width="1.0"/>
<polygon points="585.8,456 595,458.7 611.7,470.3 623.3,487 630,507 631,537 631,537 626,510 620,496 613,484 605,476 595,470 585.8,468" fill="#000"/>
<path d="M624.1 508.6L627.6 508.6L626.6 509.5L625.1 509.5ZM621.5 502.6L625 502.6L624.2 513.8L622.3 513.8ZM592.7 468.6L593.9 468.6L593.6 480.2L593 480.2ZM590.1 468.2L592.1 468.2L591.6 484.7L590.6 484.7ZM622.8 503.7L624.7 503.7L624.1 509.9L623.4 509.9ZM623.4 506.4L626.4 506.4L625.6 507.8L624.2 507.8ZM602.6 474.7L606.4 474.7L605 477.8L604 477.8ZM614.8 489.2L618.5 489.2L617 489.8L616.2 489.8ZM611 481.7L612.4 481.7L611.9 486.8L611.5 486.8ZM617.1 492.8L620.4 492.8L619.6 503.1L617.9 503.1ZM591.1 468.3L592.5 468.3L592 485.4L591.6 485.4ZM590.7 468.2L592.2 468.2L591.9 468.5L591 468.5ZM626.9 519L628.8 519L628.3 522L627.4 522ZM624.4 507.5L626.3 507.5L625.8 527.9L624.9 527.9ZM619.3 496.6L622 496.6L621.3 503L620.1 503ZM625.8 512.5L627.5 512.5L627 516.6L626.3 516.6ZM625.5 508.9L626.4 508.9L626.2 509.1L625.8 509.1ZM589.4 468.2L593.2 468.2L592 470.4L590.6 470.4ZM619.3 495.8L621.4 495.8L621 502.1L619.7 502.1ZM611.2 482.5L613.8 482.5L613 482.8L611.9 482.8ZM605.8 476.9L608.1 476.9L607.6 480.1L606.3 480.1ZM628.2 527.4L630.6 527.4L629.9 529.7L628.9 529.7ZM622.1 501.7L623.7 501.7L623.2 529.7L622.5 529.7ZM617.4 491.6L618.7 491.6L618.4 493.3L617.7 493.3ZM597 470.7L598.9 470.7L598.2 498.6L597.6 498.6ZM589.4 467.9L590.3 467.9L590.1 472.3L589.6 472.3ZM602.9 474.6L605.7 474.6L604.6 493.8L604 493.8ZM601.4 473.6L603.8 473.6L602.9 483.2L602.2 483.2ZM613.5 486.1L616.1 486.1L615.6 491.2L614.1 491.2ZM624.2 508.1L626.9 508.1L626.2 510L625 510ZM590.3 468.1L591.4 468.1L591.1 480.9L590.7 480.9ZM626 511L626.7 511L626.6 524.5L626.2 524.5ZM617.8 493.9L621 493.9L620.2 496L618.6 496ZM622.9 503.6L624.5 503.6L623.9 517.5L623.5 517.5ZM617.9 493.7L620.6 493.7L619.7 493.8L618.8 493.8ZM603 474.8L606.4 474.8L605.5 484L603.8 484Z" fill="#000"/>
<path d="M610.1 480.1v11.7M614.2 485v12M600.1 472v6.3M590.6 468v19.4M617 489.9v7.9M587.1 467.3v18M620.7 496.7v6M624.6 505.7v6.5M625.8 508.5v9.6M589.5 467.8v5.9M600.2 472.1v32.8M629.9 530.2v27.3M609.7 479.7v4.2" stroke="#000" stroke-width="0.8" stroke-opacity="0.75" fill="none"/>
<line x1="586.5" y1="456" x2="586.5" y2="478" stroke="#000" stroke-width="1.6"/>
<polygon points="633.3,474 638,475 642.5,500 642.5,540 638,512 633.3,500" fill="#000"/>
<path d="M636.1 508.1L637.7 508.1L637.3 513.5L636.4 513.5ZM634.4 503.5L635.8 503.5L635.4 512L634.8 512ZM639.1 526.1L641.8 526.1L641.2 527L639.7 527ZM636.8 509.3L637.8 509.3L637.6 509.8L637.1 509.8ZM637.8 512.2L638.5 512.2L638.4 520.6L638 520.6Z" fill="#000"/>
<path d="M634.1 501v12.1M635.2 503.8v6.8" stroke="#000" stroke-width="0.8" stroke-opacity="0.75" fill="none"/>
<path d="M618 473 L630 487 L636 520" stroke="#000" stroke-width="1.0" fill="none"/>
<polygon points="643.3,449.5 653.3,460.3 665,482 673.3,515.3 676,532 676,532 670,510 664,494 657,480 650,472 643.3,468" fill="#000"/>
<path d="M671.4 520.7L674.9 520.7L673.9 524L672.4 524ZM656.8 481.8L660 481.8L658.7 500.6L658.1 500.6ZM649.1 471L650.9 471L650.2 488L649.8 488ZM670.1 516.3L673.9 516.3L672.8 521L671.2 521ZM671.9 521.5L674.9 521.5L674.1 541.1L672.7 541.1ZM660.4 488.9L663.5 488.9L662.4 504.7L661.5 504.7ZM662.9 494.6L666.4 494.6L665.5 519.6L663.8 519.6ZM656.9 482.3L660.5 482.3L659.1 489.8L658.2 489.8ZM658.6 484.2L660.5 484.2L660.1 493.8L659.1 493.8ZM672.1 517.7L672.7 517.7L672.6 524.4L672.2 524.4ZM649.1 471.7L652.2 471.7L651.1 480.1L650.2 480.1ZM672.4 520L673.6 520L673.2 520L672.7 520ZM654.5 478.4L658.3 478.4L657.4 503.4L655.5 503.4ZM643.5 467.9L646 467.9L645.2 474.8L644.3 474.8ZM643.6 467.8L645.7 467.8L645.3 473L644 473ZM666.3 504L669.9 504L668.6 504.8L667.7 504.8ZM659.3 486.2L661.9 486.2L661.1 489.3L660.1 489.3ZM673.6 525.8L675.5 525.8L674.8 542.7L674.4 542.7ZM642.9 467.6L645.7 467.6L644.9 468.3L643.7 468.3ZM661.7 491.7L665 491.7L664.1 497.8L662.5 497.8ZM663.6 495.5L666.3 495.5L665.6 500.4L664.3 500.4ZM661 488.2L662.3 488.2L661.9 489.9L661.3 489.9ZM670 511.5L671.3 511.5L671 521.3L670.4 521.3ZM663.3 496.4L667.2 496.4L665.7 504L664.8 504ZM658.8 485.6L661.7 485.6L660.7 486.3L659.9 486.3ZM670.1 516.8L674.1 516.8L672.7 517.5L671.5 517.5Z" fill="#000"/>
<path d="M653.4 474.9v4.5M659.5 483.9v11M654.2 475.9v2.7M645.9 468.5v0.6M665.6 497.3v18.7M650.3 471.3v6.2M675.5 529v32.5M662.1 489.2v3M668.1 504v17.8" stroke="#000" stroke-width="0.8" stroke-opacity="0.75" fill="none"/>
<path d="M669 505 C675 530 680 565 682.5 618.7" stroke="#000" stroke-width="2.4" fill="none"/>
<path d="M679 575 C681 580 682 588 680 595 C678 588 679 580 679 575" stroke="#000" stroke-width="1.0" fill="none"/>
<polygon points="683.3,440.3 693.3,450.3 700,482 705,532 707.5,582 707.5,582 703,540 699,508 694,485 688,470 683.3,462" fill="#000"/>
<path d="M684.9 464.3L685.6 464.3L685.4 464.7L685 464.7ZM699 511.1L700 511.1L699.8 528.1L699.3 528.1ZM683.4 463.3L685.8 463.3L685 465.7L684.3 465.7ZM685.1 466.5L688 466.5L686.9 479.6L686.2 479.6ZM692 480.4L693.1 480.4L692.9 481.6L692.2 481.6ZM698.2 508.4L700.2 508.4L699.7 515.2L698.7 515.2ZM700.7 526.7L702.2 526.7L701.7 538.1L701.3 538.1ZM695.5 494.7L697.1 494.7L696.6 500.1L696 500.1ZM702.7 539.5L703.4 539.5L703.2 549.8L702.8 549.8ZM691.2 478L692 478L691.8 479.2L691.4 479.2ZM703 547.4L704.8 547.4L704.1 550.3L703.7 550.3ZM685.3 466L687.2 466L686.5 467.7L686 467.7ZM698.7 509.9L700 509.9L699.7 527.3L699 527.3ZM694.4 492.5L697.3 492.5L696.5 499.5L695.2 499.5ZM687.2 470.4L690 470.4L689.3 485.6L687.9 485.6ZM693.3 483.3L694.2 483.3L693.9 504L693.5 504ZM697.6 503.2L698.7 503.2L698.4 523.9L698 523.9ZM692 480.9L693.6 480.9L693 502.9L692.6 502.9ZM703 550.8L705.5 550.8L704.8 557.5L703.7 557.5Z" fill="#000"/>
<path d="M701.2 524.8v1.7M685 463.9v0.8M692.8 480.9v0.9M701 522.7v8.6M685.1 464v0.9M696.8 496.8v14.4M699 507v8" stroke="#000" stroke-width="0.8" stroke-opacity="0.75" fill="none"/>
<line x1="684" y1="441" x2="684" y2="470" stroke="#000" stroke-width="1.5"/>
<rect x="87.2" y="839.3" width="291" height="90.2" fill="#BEBEBE"/>
<rect x="378.2" y="839.3" width="35.6" height="90.2" fill="#0000FF"/>
<rect x="413.8" y="839.3" width="142.9" height="90.2" fill="#A52A2A"/>
<rect x="556.7" y="839.3" width="28.5" height="90.2" fill="#0000FF"/>
<rect x="585.2" y="839.3" width="56.6" height="90.2" fill="#A52A2A"/>
<rect x="641.8" y="839.3" width="40.9" height="90.2" fill="#FFFF00"/>
<rect x="682.7" y="839.3" width="25.6" height="90.2" fill="#FF0000"/>
<rect x="708.3" y="839.3" width="2.4" height="90.2" fill="#C8787C"/>
<rect x="151.4" y="839.3" width="1.4" height="90.2" fill="#8080E0"/>
<rect x="174.6" y="839.3" width="1.2" height="90.2" fill="#D0A0A0"/>
<rect x="198.5" y="839.3" width="1.5" height="90.2" fill="#E8E040"/>
<rect x="220.8" y="839.3" width="1" height="90.2" fill="#D0A8A8"/>
<rect x="223.5" y="839.3" width="1" height="90.2" fill="#D0A8A8"/>
<rect x="236.6" y="839.3" width="1.4" height="90.2" fill="#D09090"/>
<rect x="245.3" y="839.3" width="2.3" height="90.2" fill="#8888DD"/>
<rect x="252.3" y="839.3" width="2.3" height="90.2" fill="#C0A0A0"/>
<rect x="255.7" y="839.3" width="3.6" height="90.2" fill="#8888DD"/>
<rect x="259.8" y="839.3" width="1.8" height="90.2" fill="#D08080"/>
<rect x="262.2" y="839.3" width="2.3" height="90.2" fill="#A8A8C8"/>
<rect x="265" y="839.3" width="12.3" height="90.2" fill="#000000"/>
<rect x="277.3" y="839.3" width="4.7" height="90.2" fill="#C4A8A8"/>
<rect x="282" y="839.3" width="2.3" height="90.2" fill="#9999CC"/>
<rect x="285" y="839.3" width="2.8" height="90.2" fill="#C09090"/>
<rect x="292.5" y="839.3" width="1.8" height="90.2" fill="#E8D040"/>
<rect x="298.3" y="839.3" width="2.4" height="90.2" fill="#7777DD"/>
<rect x="301.3" y="839.3" width="1.7" height="90.2" fill="#E8D060"/>
<rect x="303.6" y="839.3" width="2.9" height="90.2" fill="#C0A0A0"/>
<rect x="306.5" y="839.3" width="2.3" height="90.2" fill="#B07070"/>
<rect x="309.4" y="839.3" width="3.5" height="90.2" fill="#C0A8A8"/>
<rect x="313" y="839.3" width="2.8" height="90.2" fill="#7060C0"/>
<rect x="315.8" y="839.3" width="3.5" height="90.2" fill="#9090D0"/>
<rect x="324" y="839.3" width="4.7" height="90.2" fill="#8080D8"/>
<rect x="328.7" y="839.3" width="3.5" height="90.2" fill="#B08080"/>
<rect x="332.2" y="839.3" width="1.1" height="90.2" fill="#4040B0"/>
<rect x="333.3" y="839.3" width="2.4" height="90.2" fill="#B06040"/>
<rect x="335.7" y="839.3" width="1.7" height="90.2" fill="#6030A0"/>
<rect x="337.4" y="839.3" width="2.9" height="90.2" fill="#B07070"/>
<rect x="340.3" y="839.3" width="3" height="90.2" fill="#8060A0"/>
<rect x="343.8" y="839.3" width="3" height="90.2" fill="#F0E020"/>
<rect x="347.3" y="839.3" width="3" height="90.2" fill="#D07020"/>
<rect x="350.8" y="839.3" width="2.4" height="90.2" fill="#8888C0"/>
<rect x="353.8" y="839.3" width="2.9" height="90.2" fill="#E8D040"/>
<rect x="357.3" y="839.3" width="1.7" height="90.2" fill="#4020B0"/>
<rect x="359" y="839.3" width="3.5" height="90.2" fill="#B03030"/>
<rect x="362.5" y="839.3" width="1.2" height="90.2" fill="#C08080"/>
<rect x="363.7" y="839.3" width="4.6" height="90.2" fill="#B05050"/>
<rect x="368.3" y="839.3" width="1.7" height="90.2" fill="#C0A0A0"/>
<rect x="370" y="839.3" width="7.7" height="90.2" fill="#A52A2A"/>
<rect x="413" y="839.3" width="3.3" height="90.2" fill="#5030B0"/>
<rect x="421.7" y="839.3" width="4.6" height="90.2" fill="#F5E020"/>
<rect x="426.3" y="839.3" width="3.4" height="90.2" fill="#D07020"/>
<rect x="429.7" y="839.3" width="4.6" height="90.2" fill="#B06060"/>
<rect x="441.7" y="839.3" width="3.3" height="90.2" fill="#2020E0"/>
<rect x="445" y="839.3" width="2.7" height="90.2" fill="#C08050"/>
<rect x="447.7" y="839.3" width="5.3" height="90.2" fill="#903050"/>
<rect x="453" y="839.3" width="3.3" height="90.2" fill="#B07050"/>
<rect x="456.3" y="839.3" width="4.7" height="90.2" fill="#6030A0"/>
<rect x="461" y="839.3" width="3.3" height="90.2" fill="#3030D0"/>
<rect x="464.3" y="839.3" width="7.4" height="90.2" fill="#1818E8"/>
<rect x="472.3" y="839.3" width="2.7" height="90.2" fill="#E8D020"/>
<rect x="475" y="839.3" width="7.3" height="90.2" fill="#903060"/>
<rect x="485" y="839.3" width="5.3" height="90.2" fill="#702080"/>
<rect x="531.7" y="839.3" width="3.3" height="90.2" fill="#B05040"/>
<rect x="535" y="839.3" width="3.3" height="90.2" fill="#702080"/>
<rect x="541" y="839.3" width="3.3" height="90.2" fill="#1010F0"/>
<rect x="544.3" y="839.3" width="2.7" height="90.2" fill="#A06060"/>
<rect x="547" y="839.3" width="4.7" height="90.2" fill="#702080"/>
<rect x="551.7" y="839.3" width="5" height="90.2" fill="#803060"/>
<rect x="87.2" y="839.3" width="623.5" height="90.2" fill="none" stroke="#444" stroke-width="1.2"/>
<text x="74.8" y="958" font-size="30" text-anchor="middle" fill="#000" font-weight="bold">(C)</text>
<rect x="735.2" y="439.2" width="33.6" height="81.6" fill="#FF0000"/>
<rect x="774" y="439.2" width="170" height="81.6" fill="#FBA68E"/>
<rect x="944" y="439.2" width="172" height="81.6" fill="#99CAF6"/>
<rect x="735.2" y="520.8" width="33.6" height="81.2" fill="#A52A2A"/>
<rect x="774" y="520.8" width="170" height="81.2" fill="#FEF3F0"/>
<rect x="944" y="520.8" width="172" height="81.2" fill="#F3F8FE"/>
<rect x="735.2" y="602" width="33.6" height="80.8" fill="#FFFF00"/>
<rect x="774" y="602" width="170" height="80.8" fill="#FBB8A5"/>
<rect x="944" y="602" width="172" height="80.8" fill="#ADD5F8"/>
<rect x="735.2" y="682.8" width="33.6" height="80.4" fill="#000000"/>
<rect x="774" y="682.8" width="170" height="80.4" fill="#FBA690"/>
<rect x="944" y="682.8" width="172" height="80.4" fill="#9BCBF6"/>
<rect x="735.2" y="763.2" width="33.6" height="80.8" fill="#0000FF"/>
<rect x="774" y="763.2" width="170" height="80.8" fill="#FFFFFF"/>
<rect x="944" y="763.2" width="172" height="80.8" fill="#FFFFFF"/>
<rect x="735.2" y="844" width="33.6" height="80" fill="#BEBEBE"/>
<rect x="774" y="844" width="170" height="80" fill="#FA9B80"/>
<rect x="944" y="844" width="172" height="80" fill="#8AC3F5"/>
<rect x="774" y="439.2" width="342" height="484.8" fill="none" stroke="#444" stroke-width="1.2"/>
<text x="842" y="481" font-size="20" text-anchor="middle" fill="#111">r=0.44</text>
<text x="842" y="505" font-size="20" text-anchor="middle" fill="#111">p value=3e−04</text>
<text x="1021" y="481" font-size="20" text-anchor="middle" fill="#111">r=-0.44</text>
<text x="1021" y="505" font-size="20" text-anchor="middle" fill="#111">p value=3e−04</text>
<text x="840" y="557" font-size="20" text-anchor="middle" fill="#111">r=0.068</text>
<text x="840" y="581.5" font-size="20" text-anchor="middle" fill="#111">p value=0.6</text>
<text x="1004" y="557" font-size="20" text-anchor="middle" fill="#111">r=-0.068</text>
<text x="1004" y="581.5" font-size="20" text-anchor="middle" fill="#111">p value=0.6</text>
<text x="846" y="636.5" font-size="20" text-anchor="middle" fill="#111">r=0.36</text>
<text x="846" y="661" font-size="20" text-anchor="middle" fill="#111">p value=0.004</text>
<text x="1015" y="634" font-size="20" text-anchor="middle" fill="#111">r=-0.36</text>
<text x="1015" y="659" font-size="20" text-anchor="middle" fill="#111">p value=0.004</text>
<text x="852" y="711.5" font-size="20" text-anchor="middle" fill="#111">r=0.43</text>
<text x="852" y="736" font-size="20" text-anchor="middle" fill="#111">p value=5e−04</text>
<text x="1023" y="711.5" font-size="20" text-anchor="middle" fill="#111">r=-0.43</text>
<text x="1023" y="736" font-size="20" text-anchor="middle" fill="#111">p value=5e−04</text>
<text x="842" y="791.5" font-size="20" text-anchor="middle" fill="#111">r=0.017</text>
<text x="842" y="815.5" font-size="20" text-anchor="middle" fill="#111">p value=0.9</text>
<text x="1011" y="793" font-size="20" text-anchor="middle" fill="#111">r=-0.017</text>
<text x="1011" y="817.5" font-size="20" text-anchor="middle" fill="#111">p value=0.9</text>
<text x="848" y="870.5" font-size="20" text-anchor="middle" fill="#111">r=0.49</text>
<text x="848" y="895" font-size="20" text-anchor="middle" fill="#111">p value=3e−05</text>
<text x="1021" y="869" font-size="20" text-anchor="middle" fill="#111">r=-0.49</text>
<text x="1021" y="893.5" font-size="20" text-anchor="middle" fill="#111">p value=3e−05</text>
<defs><linearGradient id="g462" x1="0" y1="0" x2="0" y2="1"><stop offset="0" stop-color="#FF2A0A"/><stop offset="0.25" stop-color="#FC8A6C"/><stop offset="0.5" stop-color="#FFFFFF"/><stop offset="0.75" stop-color="#7FB2FF"/><stop offset="1" stop-color="#0D6BFF"/></linearGradient></defs>
<rect x="1156" y="462" width="14" height="437.2" fill="url(#g462)" stroke="#333" stroke-width="1.2"/>
<line x1="1170" y1="462" x2="1178" y2="462" stroke="#333" stroke-width="1.1"/>
<text x="1197" y="462" font-size="18" text-anchor="middle" fill="#111" transform="rotate(-90 1197 462)">1</text>
<line x1="1170" y1="571.3" x2="1178" y2="571.3" stroke="#333" stroke-width="1.1"/>
<text x="1197" y="571.3" font-size="18" text-anchor="middle" fill="#111" transform="rotate(-90 1197 571.3)">0.5</text>
<line x1="1170" y1="680.6" x2="1178" y2="680.6" stroke="#333" stroke-width="1.1"/>
<text x="1197" y="680.6" font-size="18" text-anchor="middle" fill="#111" transform="rotate(-90 1197 680.6)">0</text>
<line x1="1170" y1="789.9" x2="1178" y2="789.9" stroke="#333" stroke-width="1.1"/>
<text x="1197" y="789.9" font-size="18" text-anchor="middle" fill="#111" transform="rotate(-90 1197 789.9)">-0.5</text>
<line x1="1170" y1="899.2" x2="1178" y2="899.2" stroke="#333" stroke-width="1.1"/>
<text x="1197" y="899.2" font-size="18" text-anchor="middle" fill="#111" transform="rotate(-90 1197 899.2)">-1</text>
<text x="1145" y="691" font-size="20" text-anchor="middle" fill="#111" transform="rotate(-90 1145 691)">Coefficient of correlation(r)</text>
<text x="850" y="943.5" font-size="19.5" text-anchor="middle" fill="#111">AML</text>
<text x="1019" y="943.3" font-size="20" text-anchor="middle" fill="#111">Control</text>
<text x="751.7" y="956.3" font-size="30" text-anchor="middle" fill="#000" font-weight="bold">(D)</text>
<line x1="87.4" y1="963.5" x2="87.4" y2="1376.8" stroke="#F2F2F2" stroke-width="0.8"/>
<line x1="183.7" y1="963.5" x2="183.7" y2="1376.8" stroke="#F2F2F2" stroke-width="0.8"/>
<line x1="279.9" y1="963.5" x2="279.9" y2="1376.8" stroke="#F2F2F2" stroke-width="0.8"/>
<line x1="376.2" y1="963.5" x2="376.2" y2="1376.8" stroke="#F2F2F2" stroke-width="0.8"/>
<line x1="47.5" y1="1306.2" x2="435.5" y2="1306.2" stroke="#F2F2F2" stroke-width="0.8"/>
<line x1="47.5" y1="1202.2" x2="435.5" y2="1202.2" stroke="#F2F2F2" stroke-width="0.8"/>
<line x1="47.5" y1="1098.2" x2="435.5" y2="1098.2" stroke="#F2F2F2" stroke-width="0.8"/>
<line x1="47.5" y1="994.2" x2="435.5" y2="994.2" stroke="#F2F2F2" stroke-width="0.8"/>
<line x1="135.6" y1="963.5" x2="135.6" y2="1376.8" stroke="#E8E8E8" stroke-width="1.1"/>
<line x1="231.8" y1="963.5" x2="231.8" y2="1376.8" stroke="#E8E8E8" stroke-width="1.1"/>
<line x1="328.1" y1="963.5" x2="328.1" y2="1376.8" stroke="#E8E8E8" stroke-width="1.1"/>
<line x1="424.3" y1="963.5" x2="424.3" y2="1376.8" stroke="#E8E8E8" stroke-width="1.1"/>
<line x1="47.5" y1="1358.2" x2="435.5" y2="1358.2" stroke="#E8E8E8" stroke-width="1.1"/>
<line x1="47.5" y1="1254.2" x2="435.5" y2="1254.2" stroke="#E8E8E8" stroke-width="1.1"/>
<line x1="47.5" y1="1150.2" x2="435.5" y2="1150.2" stroke="#E8E8E8" stroke-width="1.1"/>
<line x1="47.5" y1="1046.2" x2="435.5" y2="1046.2" stroke="#E8E8E8" stroke-width="1.1"/>
<clipPath id="c47"><rect x="47.5" y="963.5" width="388" height="413.3"/></clipPath>
<g clip-path="url(#c47)">
<polygon points="231,1359.9 241.8,1356.5 253.7,1345 264.9,1333.2 269.1,1320.1 268.8,1311 268.4,1157.1 262.6,1148.4 253.7,1139.8 244.9,1141.5 242.2,1168.9 238.7,1191.1 235.3,1227.8 233,1272.6 231.4,1294.1 230.6,1287.1 229.1,1227.8 227,1183.8 224.1,1154 221,1134.6 214.5,1129.4 210.6,1113.8 201.8,1117.2 194.8,1122.4 194.5,1311 195.2,1324.2 201,1333.9 209.9,1345.4 221,1356.5" fill="#BEBEBE"/>
<g fill="#BEBEBE"><circle cx="193.6" cy="1329" r="3"/><circle cx="195.8" cy="1201.9" r="3"/><circle cx="238.7" cy="1178.7" r="3"/><circle cx="255" cy="1139.6" r="3"/><circle cx="241.6" cy="1176.8" r="3"/><circle cx="223.1" cy="1352.5" r="3"/><circle cx="244.4" cy="1160.7" r="3"/><circle cx="264.8" cy="1330.8" r="3"/><circle cx="256.2" cy="1344" r="3"/><circle cx="238.6" cy="1228.8" r="3"/><circle cx="197.7" cy="1325.8" r="3"/><circle cx="207.9" cy="1112.6" r="3"/><circle cx="243.4" cy="1162.8" r="3"/><circle cx="211.2" cy="1128.2" r="3"/><circle cx="238.3" cy="1204.8" r="3"/><circle cx="236.7" cy="1354.6" r="3"/><circle cx="255.8" cy="1141.9" r="3"/><circle cx="268.5" cy="1331.6" r="3"/><circle cx="265.8" cy="1339" r="3"/><circle cx="238.7" cy="1195.8" r="3"/><circle cx="246.2" cy="1350.6" r="3"/><circle cx="222.2" cy="1149.8" r="3"/><circle cx="260" cy="1147.6" r="3"/><circle cx="266" cy="1326.9" r="3"/><circle cx="210.7" cy="1117.7" r="3"/><circle cx="250.4" cy="1140.4" r="3"/><circle cx="248.9" cy="1350.8" r="3"/><circle cx="217.5" cy="1130.1" r="3"/><circle cx="225.9" cy="1353" r="3"/><circle cx="266.2" cy="1154.9" r="3"/><circle cx="208.7" cy="1343.2" r="3"/><circle cx="262.3" cy="1342" r="3"/><circle cx="196.2" cy="1228.6" r="3"/><circle cx="265" cy="1150.5" r="3"/><circle cx="198.4" cy="1329.4" r="3"/><circle cx="239.1" cy="1188.3" r="3"/><circle cx="199.1" cy="1116.4" r="3"/><circle cx="202.6" cy="1334.8" r="3"/><circle cx="215" cy="1134.2" r="3"/><circle cx="269.4" cy="1313.9" r="3"/><circle cx="223.1" cy="1146.1" r="3"/><circle cx="270.8" cy="1315.7" r="3"/><circle cx="240.7" cy="1356.1" r="3"/><circle cx="268.2" cy="1192.8" r="3"/><circle cx="214.7" cy="1352.7" r="3"/><circle cx="223.8" cy="1138.6" r="3"/><circle cx="222.7" cy="1142.5" r="3"/><circle cx="224.3" cy="1167.8" r="3"/><circle cx="221.8" cy="1141.1" r="3"/><circle cx="212.6" cy="1114.2" r="3"/><circle cx="207.3" cy="1113.5" r="3"/><circle cx="208.2" cy="1118.6" r="3"/><circle cx="212" cy="1114.8" r="3"/><circle cx="258.8" cy="1144.3" r="3"/><circle cx="224.1" cy="1161.6" r="3"/><circle cx="256.5" cy="1144" r="3"/><circle cx="266.4" cy="1154.1" r="3"/><circle cx="224.6" cy="1155.2" r="3"/><circle cx="210.3" cy="1344.7" r="3"/><circle cx="223.1" cy="1147.2" r="3"/><circle cx="242.6" cy="1163.6" r="3"/><circle cx="262.7" cy="1148.7" r="3"/><circle cx="224.7" cy="1171.7" r="3"/><circle cx="269.3" cy="1308.3" r="3"/><circle cx="269.2" cy="1284.8" r="3"/><circle cx="243.8" cy="1355.2" r="3"/><circle cx="267.9" cy="1154.7" r="3"/><circle cx="241.4" cy="1181.8" r="3"/><circle cx="241.3" cy="1187.1" r="3"/><circle cx="255.7" cy="1342.2" r="3"/><circle cx="268.9" cy="1310" r="3"/><circle cx="202.4" cy="1332.1" r="3"/><circle cx="257.5" cy="1340.9" r="3"/><circle cx="264.4" cy="1151.1" r="3"/><circle cx="203.7" cy="1339.1" r="3"/><circle cx="222.6" cy="1141.6" r="3"/><circle cx="263.1" cy="1145.6" r="3"/><circle cx="252.8" cy="1144" r="3"/><circle cx="245.8" cy="1347.8" r="3"/><circle cx="244.7" cy="1146.4" r="3"/><circle cx="267.8" cy="1151.5" r="3"/><circle cx="207.3" cy="1113.5" r="3"/><circle cx="194.3" cy="1120.2" r="3"/><circle cx="246.2" cy="1146.6" r="3"/><circle cx="214.4" cy="1124.5" r="3"/><circle cx="264.7" cy="1329.5" r="3"/><circle cx="200.8" cy="1117.6" r="3"/><circle cx="266.6" cy="1325.4" r="3"/><circle cx="257" cy="1339.9" r="3"/><circle cx="243.4" cy="1169.4" r="3"/><circle cx="196.3" cy="1121.8" r="3"/><circle cx="240" cy="1190.6" r="3"/><circle cx="212.3" cy="1120.8" r="3"/><circle cx="224.2" cy="1155.8" r="3"/><circle cx="244.3" cy="1161.8" r="3"/><circle cx="266.8" cy="1329.1" r="3"/><circle cx="192.3" cy="1313.3" r="3"/><circle cx="238.3" cy="1182.5" r="3"/><circle cx="269.9" cy="1182.6" r="3"/><circle cx="197.5" cy="1122.3" r="3"/><circle cx="267.4" cy="1278.2" r="3"/><circle cx="197.9" cy="1118" r="3"/><circle cx="261.1" cy="1141.8" r="3"/><circle cx="196.4" cy="1117.8" r="3"/><circle cx="202" cy="1121.2" r="3"/><circle cx="222.7" cy="1140.3" r="3"/><circle cx="246.8" cy="1347.4" r="3"/><circle cx="211.5" cy="1351.7" r="3"/><circle cx="244.9" cy="1169.6" r="3"/><circle cx="267.4" cy="1327.8" r="3"/><circle cx="194.9" cy="1324.2" r="3"/><circle cx="253.8" cy="1140.1" r="3"/><circle cx="219.8" cy="1357.4" r="3"/><circle cx="244.3" cy="1144" r="3"/><circle cx="243.7" cy="1150.9" r="3"/><circle cx="205.2" cy="1331.5" r="3"/><circle cx="242.6" cy="1171.5" r="3"/><circle cx="194" cy="1296.7" r="3"/><circle cx="199.3" cy="1330.4" r="3"/><circle cx="239.4" cy="1182.4" r="3"/><circle cx="207.9" cy="1341.9" r="3"/><circle cx="267.2" cy="1325.2" r="3"/><circle cx="242.7" cy="1356.6" r="3"/><circle cx="195.3" cy="1129.4" r="3"/><circle cx="244" cy="1156.5" r="3"/><circle cx="210.1" cy="1121.4" r="3"/><circle cx="220.3" cy="1133.4" r="3"/><circle cx="225" cy="1355.8" r="3"/><circle cx="270.4" cy="1326.3" r="3"/><circle cx="221.2" cy="1149.6" r="3"/><circle cx="259.4" cy="1338.9" r="3"/><circle cx="195.7" cy="1221" r="3"/><circle cx="200.3" cy="1328.7" r="3"/><circle cx="194.9" cy="1302.9" r="3"/><circle cx="195.8" cy="1180.9" r="3"/><circle cx="208.8" cy="1350" r="3"/><circle cx="212.9" cy="1131.5" r="3"/><circle cx="263.1" cy="1156.5" r="3"/><circle cx="268.7" cy="1313.1" r="3"/><circle cx="270.3" cy="1321.7" r="3"/><circle cx="196.4" cy="1308.9" r="3"/><circle cx="194.6" cy="1256.9" r="3"/><circle cx="201.4" cy="1334.7" r="3"/><circle cx="264.8" cy="1144.3" r="3"/><circle cx="201.4" cy="1340.4" r="3"/><circle cx="195.8" cy="1327.9" r="3"/><circle cx="268.1" cy="1268.8" r="3"/><circle cx="191.1" cy="1317.3" r="3"/><circle cx="207.9" cy="1351.6" r="3"/><circle cx="269.6" cy="1266.6" r="3"/><circle cx="222.6" cy="1152.7" r="3"/><circle cx="223" cy="1153.8" r="3"/><circle cx="206" cy="1343.4" r="3"/><circle cx="221.9" cy="1138.1" r="3"/><circle cx="213.3" cy="1129.6" r="3"/><circle cx="266.9" cy="1314.8" r="3"/><circle cx="239.4" cy="1181.7" r="3"/><circle cx="267.5" cy="1261.7" r="3"/><circle cx="265.3" cy="1326.4" r="3"/><circle cx="216.8" cy="1131.1" r="3"/><circle cx="238.4" cy="1209.9" r="3"/><circle cx="198.4" cy="1325.5" r="3"/><circle cx="239.7" cy="1179.6" r="3"/><circle cx="218" cy="1351.8" r="3"/><circle cx="238.7" cy="1203.7" r="3"/><circle cx="202.8" cy="1119" r="3"/><circle cx="195.1" cy="1161.4" r="3"/><circle cx="243.8" cy="1355.3" r="3"/><circle cx="269.3" cy="1316.7" r="3"/><circle cx="263.5" cy="1333.9" r="3"/><circle cx="251" cy="1347" r="3"/><circle cx="255.4" cy="1343.8" r="3"/><circle cx="267.5" cy="1317.6" r="3"/><circle cx="265.1" cy="1329.8" r="3"/><circle cx="268.8" cy="1202.7" r="3"/><circle cx="220.4" cy="1138.3" r="3"/><circle cx="268.2" cy="1327.3" r="3"/><circle cx="250.1" cy="1143.8" r="3"/><circle cx="210.9" cy="1114.4" r="3"/><circle cx="268.3" cy="1317.3" r="3"/><circle cx="231" cy="1300" r="3"/><circle cx="195.4" cy="1326.3" r="3"/><circle cx="199.7" cy="1331.3" r="3"/><circle cx="195.7" cy="1231.4" r="3"/><circle cx="221.6" cy="1140.8" r="3"/><circle cx="212.7" cy="1113.1" r="3"/><circle cx="200.2" cy="1331.1" r="3"/><circle cx="195.9" cy="1310.2" r="3"/><circle cx="216.3" cy="1127.7" r="3"/><circle cx="246.3" cy="1138.1" r="3"/><circle cx="246.9" cy="1357.2" r="3"/><circle cx="213.7" cy="1126.3" r="3"/><circle cx="221.1" cy="1147.3" r="3"/><circle cx="211.6" cy="1123" r="3"/><circle cx="199.9" cy="1332.8" r="3"/><circle cx="223.7" cy="1154.9" r="3"/><circle cx="210.6" cy="1351" r="3"/><circle cx="252.3" cy="1347.8" r="3"/><circle cx="195.8" cy="1324.4" r="3"/><circle cx="203.2" cy="1335.4" r="3"/><circle cx="201.9" cy="1335.3" r="3"/><circle cx="244.4" cy="1142.2" r="3"/><circle cx="244.2" cy="1352.3" r="3"/><circle cx="197.8" cy="1316.3" r="3"/><circle cx="241.9" cy="1181.5" r="3"/><circle cx="252.2" cy="1137.6" r="3"/><circle cx="241.1" cy="1173.9" r="3"/><circle cx="267.9" cy="1314" r="3"/><circle cx="223.1" cy="1150.2" r="3"/><circle cx="267.9" cy="1164.4" r="3"/><circle cx="238" cy="1214.8" r="3"/><circle cx="212.4" cy="1348.6" r="3"/><circle cx="266.6" cy="1158" r="3"/><circle cx="265.3" cy="1156.9" r="3"/><circle cx="255.7" cy="1144.2" r="3"/><circle cx="261.2" cy="1151.2" r="3"/><circle cx="239.9" cy="1355.1" r="3"/><circle cx="221.9" cy="1149.9" r="3"/><circle cx="269.2" cy="1321.9" r="3"/><circle cx="195.3" cy="1235.6" r="3"/><circle cx="197.6" cy="1118.8" r="3"/><circle cx="247.1" cy="1144.4" r="3"/><circle cx="240.3" cy="1347.4" r="3"/><circle cx="213.3" cy="1132.4" r="3"/><circle cx="245.4" cy="1143.1" r="3"/><circle cx="265.3" cy="1336" r="3"/><circle cx="256.4" cy="1120" r="3"/><circle cx="200.2" cy="1137.1" r="3"/><circle cx="211.1" cy="1108.2" r="3"/><circle cx="196.4" cy="1130.4" r="3"/><circle cx="197.8" cy="1117.5" r="3"/><circle cx="254.7" cy="1107.7" r="3"/><circle cx="194.6" cy="1095.1" r="3"/><circle cx="206.3" cy="1122.3" r="3"/><circle cx="202.9" cy="1140.1" r="3"/><circle cx="210.6" cy="1107.2" r="3"/><circle cx="208.8" cy="1145.8" r="3"/><circle cx="248.9" cy="1107" r="3"/><circle cx="252.7" cy="1141.6" r="3"/><circle cx="256.8" cy="1098.5" r="3"/><circle cx="200.6" cy="1126.4" r="3"/><circle cx="203.3" cy="1122.6" r="3"/><circle cx="198.1" cy="1106.3" r="3"/><circle cx="258.5" cy="1131.6" r="3"/><circle cx="204.8" cy="1108.7" r="3"/><circle cx="205" cy="1140.9" r="3"/><circle cx="206.7" cy="1113.5" r="3"/><circle cx="211" cy="1124.3" r="3"/><circle cx="201.6" cy="1144.6" r="3"/><circle cx="249.2" cy="1112" r="3"/><circle cx="254.7" cy="1135.4" r="3"/><circle cx="252.2" cy="1127.9" r="3"/><circle cx="248.7" cy="1145.5" r="3"/><circle cx="204.3" cy="1095.2" r="3"/><circle cx="207.9" cy="1112.4" r="3"/><circle cx="251.5" cy="1113" r="3"/><circle cx="259.8" cy="1125.3" r="3"/><circle cx="195.5" cy="1105" r="3"/><circle cx="250" cy="1146.5" r="3"/><circle cx="250" cy="1112.1" r="3"/><circle cx="203.5" cy="1096" r="3"/><circle cx="198.8" cy="1106.3" r="3"/><circle cx="213.9" cy="1132.3" r="3"/><circle cx="211.5" cy="1097.6" r="3"/><circle cx="255" cy="1111.6" r="3"/><circle cx="256.3" cy="1104.3" r="3"/><circle cx="194.6" cy="1125.9" r="3"/><circle cx="213.5" cy="1120" r="3"/><circle cx="266.5" cy="1114.9" r="3"/><circle cx="201.7" cy="1135.7" r="3"/><circle cx="213.8" cy="1129.1" r="3"/><circle cx="216.3" cy="1147.8" r="3"/><circle cx="249.1" cy="1133.2" r="3"/><circle cx="266.1" cy="1108.6" r="3"/><circle cx="268.8" cy="1114.5" r="3"/><circle cx="209.5" cy="1138.9" r="3"/><circle cx="250" cy="1130.5" r="3"/><circle cx="202.6" cy="1113.6" r="3"/><circle cx="205.1" cy="1126.9" r="3"/><circle cx="215.4" cy="1133.9" r="3"/><circle cx="199.2" cy="1111.1" r="3"/><circle cx="258.8" cy="1136.4" r="3"/><circle cx="259.3" cy="1133.9" r="3"/><circle cx="198.1" cy="1123.4" r="3"/><circle cx="200.1" cy="1102.4" r="3"/><circle cx="257.4" cy="1145.4" r="3"/><circle cx="197.2" cy="1011.5" r="3"/><circle cx="197.2" cy="1028.8" r="3"/><circle cx="266.4" cy="1054.8" r="3"/><circle cx="204.9" cy="1072.2" r="3"/><circle cx="258.8" cy="1087.8" r="3"/><circle cx="208.7" cy="1084.3" r="3"/><circle cx="212.6" cy="1087.8" r="3"/><circle cx="201" cy="1099.9" r="3"/><circle cx="212.6" cy="1099.9" r="3"/><circle cx="218.3" cy="1101.6" r="3"/><circle cx="254.9" cy="1112" r="3"/><circle cx="260.7" cy="1115.5" r="3"/><circle cx="268.4" cy="1105.1" r="3"/><circle cx="174.1" cy="1323.5" r="3"/><circle cx="185.6" cy="1335.7" r="3"/><circle cx="270.3" cy="1320.1" r="3"/><circle cx="274.2" cy="1327" r="3"/><circle cx="281.9" cy="1337.4" r="3"/><circle cx="278" cy="1340.9" r="3"/><circle cx="258.8" cy="1344.3" r="3"/></g>
<g fill="#00858A"><circle cx="62.4" cy="1202.2" r="3"/><circle cx="81.7" cy="1188.3" r="3"/><circle cx="97.1" cy="1223" r="3"/><circle cx="108.6" cy="1202.2" r="3"/><circle cx="104.8" cy="1177.9" r="3"/><circle cx="110.5" cy="1164" r="3"/><circle cx="112.5" cy="1167.5" r="3"/><circle cx="131.7" cy="1209.1" r="3"/><circle cx="133.6" cy="1219.5" r="3"/><circle cx="135.6" cy="1191.8" r="3"/><circle cx="135.6" cy="1146.7" r="3"/><circle cx="139.4" cy="1174.4" r="3"/><circle cx="145.2" cy="1174.4" r="3"/><circle cx="150.9" cy="1207.4" r="3"/><circle cx="147.1" cy="1257.7" r="3"/><circle cx="143.2" cy="1072.2" r="3"/><circle cx="149" cy="1061.8" r="3"/><circle cx="154.8" cy="1067" r="3"/><circle cx="172.1" cy="1070.4" r="3"/><circle cx="170.2" cy="1075.6" r="3"/><circle cx="147.1" cy="982" r="3"/><circle cx="179.8" cy="1004.6" r="3"/><circle cx="170.2" cy="1020.2" r="3"/><circle cx="172.1" cy="1030.6" r="3"/><circle cx="177.9" cy="1030.6" r="3"/><circle cx="185.6" cy="1030.6" r="3"/><circle cx="174.1" cy="1087.8" r="3"/><circle cx="179.8" cy="1087.8" r="3"/><circle cx="168.3" cy="1086" r="3"/><circle cx="185.6" cy="1099.9" r="3"/><circle cx="158.7" cy="1105.1" r="3"/><circle cx="193.3" cy="1099.9" r="3"/><circle cx="190.5" cy="1247.5" r="3"/><circle cx="178.3" cy="1235.8" r="3"/><circle cx="165.1" cy="1264.5" r="3"/><circle cx="179" cy="1250.5" r="3"/><circle cx="191.1" cy="1234.9" r="3"/><circle cx="175.8" cy="1256.4" r="3"/><circle cx="178.7" cy="1250.7" r="3"/><circle cx="189.2" cy="1254.4" r="3"/><circle cx="175.2" cy="1260.2" r="3"/><circle cx="186.6" cy="1258.1" r="3"/><circle cx="183" cy="1281.1" r="3"/><circle cx="190.2" cy="1296.3" r="3"/><circle cx="182.8" cy="1256.5" r="3"/><circle cx="181.8" cy="1281.4" r="3"/><circle cx="188.8" cy="1248" r="3"/><circle cx="157.4" cy="1145.1" r="3"/><circle cx="190.2" cy="1203.7" r="3"/><circle cx="192.1" cy="1268.5" r="3"/><circle cx="187.2" cy="1221.3" r="3"/><circle cx="185.5" cy="1290.2" r="3"/><circle cx="189.1" cy="1230.7" r="3"/><circle cx="189.4" cy="1286.4" r="3"/><circle cx="170.5" cy="1222.1" r="3"/><circle cx="182.4" cy="1267.5" r="3"/><circle cx="186.1" cy="1144.4" r="3"/><circle cx="184.8" cy="1252.1" r="3"/><circle cx="191.8" cy="1199.6" r="3"/><circle cx="188.5" cy="1202.9" r="3"/><circle cx="185.6" cy="1216.6" r="3"/><circle cx="175.8" cy="1214" r="3"/><circle cx="189.3" cy="1230.9" r="3"/><circle cx="185.9" cy="1229.7" r="3"/><circle cx="179.5" cy="1280.2" r="3"/><circle cx="174.5" cy="1184.3" r="3"/><circle cx="190.1" cy="1163.1" r="3"/><circle cx="181.1" cy="1295.2" r="3"/><circle cx="180.5" cy="1236" r="3"/><circle cx="169.3" cy="1249.5" r="3"/><circle cx="185.9" cy="1225.8" r="3"/><circle cx="185.8" cy="1237.9" r="3"/><circle cx="186.7" cy="1168" r="3"/><circle cx="184.5" cy="1182.1" r="3"/><circle cx="189.4" cy="1189.4" r="3"/><circle cx="171.8" cy="1213.1" r="3"/><circle cx="169.4" cy="1269.6" r="3"/><circle cx="186.4" cy="1305.6" r="3"/><circle cx="188" cy="1274" r="3"/><circle cx="187.2" cy="1278.1" r="3"/><circle cx="186.1" cy="1279.4" r="3"/><circle cx="191" cy="1244.8" r="3"/><circle cx="189.1" cy="1253.9" r="3"/><circle cx="179.5" cy="1175.7" r="3"/><circle cx="189" cy="1255.4" r="3"/><circle cx="187.8" cy="1191.8" r="3"/><circle cx="180.7" cy="1198.9" r="3"/><circle cx="189.2" cy="1189.4" r="3"/><circle cx="179.6" cy="1245.4" r="3"/><circle cx="183.7" cy="1177.9" r="3"/><circle cx="164.8" cy="1170.4" r="3"/><circle cx="192.1" cy="1285.6" r="3"/><circle cx="183.1" cy="1225.8" r="3"/><circle cx="190.6" cy="1217.4" r="3"/><circle cx="189.3" cy="1209.7" r="3"/><circle cx="186.5" cy="1193" r="3"/><circle cx="192.1" cy="1217.9" r="3"/><circle cx="191.9" cy="1171.6" r="3"/><circle cx="188" cy="1244.3" r="3"/><circle cx="182.8" cy="1284.7" r="3"/><circle cx="181.6" cy="1209.2" r="3"/><circle cx="176.6" cy="1196.8" r="3"/><circle cx="187.3" cy="1253.8" r="3"/><circle cx="178.3" cy="1148" r="3"/><circle cx="189" cy="1246.7" r="3"/><circle cx="183.2" cy="1198.4" r="3"/><circle cx="168" cy="1208.3" r="3"/><circle cx="182.6" cy="1244.8" r="3"/><circle cx="183.4" cy="1171" r="3"/><circle cx="190.9" cy="1150.8" r="3"/><circle cx="184.1" cy="1284.5" r="3"/><circle cx="187.9" cy="1234.5" r="3"/><circle cx="191.2" cy="1231" r="3"/><circle cx="177.5" cy="1181.4" r="3"/><circle cx="191.1" cy="1190.8" r="3"/><circle cx="185.8" cy="1157.5" r="3"/><circle cx="181.9" cy="1280.7" r="3"/><circle cx="186.4" cy="1189.4" r="3"/><circle cx="189.4" cy="1222" r="3"/><circle cx="185.7" cy="1247.1" r="3"/><circle cx="187.6" cy="1209.5" r="3"/><circle cx="184.7" cy="1164.1" r="3"/><circle cx="174.6" cy="1223.6" r="3"/><circle cx="171.3" cy="1213.3" r="3"/><circle cx="183.6" cy="1290.6" r="3"/><circle cx="181.4" cy="1170.2" r="3"/><circle cx="187.8" cy="1235" r="3"/><circle cx="188.8" cy="1160.1" r="3"/><circle cx="187" cy="1201.2" r="3"/><circle cx="191.7" cy="1188.6" r="3"/><circle cx="187.7" cy="1279.9" r="3"/><circle cx="187.1" cy="1186.6" r="3"/><circle cx="178" cy="1164.2" r="3"/><circle cx="180.6" cy="1289.6" r="3"/><circle cx="182.6" cy="1167.7" r="3"/><circle cx="182.6" cy="1241.5" r="3"/><circle cx="181.9" cy="1289.2" r="3"/><circle cx="186.3" cy="1201.1" r="3"/><circle cx="191.8" cy="1221.9" r="3"/><circle cx="186.8" cy="1199.3" r="3"/><circle cx="188.2" cy="1271.5" r="3"/><circle cx="185.9" cy="1266.7" r="3"/><circle cx="188.8" cy="1238.8" r="3"/><circle cx="189.1" cy="1184" r="3"/><circle cx="188.5" cy="1252" r="3"/><circle cx="187" cy="1242.9" r="3"/><circle cx="185" cy="1235.3" r="3"/><circle cx="178.1" cy="1184.3" r="3"/><circle cx="179.2" cy="1210.9" r="3"/><circle cx="192.1" cy="1171.3" r="3"/><circle cx="183.9" cy="1267.3" r="3"/><circle cx="186.8" cy="1159.1" r="3"/><circle cx="166.5" cy="1212.2" r="3"/><circle cx="183.3" cy="1229.2" r="3"/><circle cx="185.8" cy="1200.6" r="3"/><circle cx="184.4" cy="1202.6" r="3"/><circle cx="184.4" cy="1282.9" r="3"/><circle cx="183.5" cy="1244" r="3"/><circle cx="192.4" cy="1265.6" r="3"/><circle cx="188.4" cy="1202.6" r="3"/><circle cx="191.2" cy="1263.6" r="3"/><circle cx="170.3" cy="1257.5" r="3"/><circle cx="164.9" cy="1156.8" r="3"/><circle cx="181.1" cy="1185.6" r="3"/><circle cx="182.3" cy="1287" r="3"/><circle cx="180.9" cy="1288.8" r="3"/><circle cx="191.6" cy="1229.9" r="3"/><circle cx="190" cy="1221.6" r="3"/><circle cx="182.3" cy="1170.3" r="3"/><circle cx="187.7" cy="1237.7" r="3"/><circle cx="185.7" cy="1206.9" r="3"/><circle cx="187.3" cy="1198.9" r="3"/><circle cx="188.5" cy="1264.4" r="3"/><circle cx="180.5" cy="1177.5" r="3"/><circle cx="182.1" cy="1234.5" r="3"/><circle cx="177" cy="1240.2" r="3"/><circle cx="180.9" cy="1172.9" r="3"/><circle cx="179.9" cy="1227.9" r="3"/><circle cx="178" cy="1202.2" r="3"/><circle cx="178.6" cy="1187.5" r="3"/><circle cx="187.8" cy="1234.3" r="3"/><circle cx="181.8" cy="1214.4" r="3"/><circle cx="166.8" cy="1217.7" r="3"/><circle cx="191.3" cy="1288" r="3"/><circle cx="189" cy="1198.9" r="3"/><circle cx="182" cy="1259" r="3"/><circle cx="180.2" cy="1302.7" r="3"/><circle cx="186.3" cy="1202.2" r="3"/><circle cx="180.4" cy="1290.9" r="3"/><circle cx="187" cy="1254.6" r="3"/><circle cx="183.8" cy="1258.7" r="3"/><circle cx="192.1" cy="1222.6" r="3"/><circle cx="168.7" cy="1233.9" r="3"/><circle cx="167.1" cy="1166.6" r="3"/><circle cx="186.9" cy="1284.2" r="3"/><circle cx="178.9" cy="1210.5" r="3"/><circle cx="178.4" cy="1247.5" r="3"/><circle cx="182.7" cy="1277.8" r="3"/><circle cx="187.9" cy="1257.3" r="3"/><circle cx="186.3" cy="1220" r="3"/><circle cx="178.4" cy="1160.2" r="3"/><circle cx="179.8" cy="1274.3" r="3"/><circle cx="182.2" cy="1214.7" r="3"/><circle cx="189" cy="1241" r="3"/><circle cx="177.1" cy="1227.1" r="3"/><circle cx="185.3" cy="1212.3" r="3"/><circle cx="180.8" cy="1293.8" r="3"/><circle cx="187.8" cy="1178.8" r="3"/><circle cx="183.5" cy="1231.4" r="3"/><circle cx="167.6" cy="1224.2" r="3"/><circle cx="174.1" cy="1194.2" r="3"/><circle cx="180.4" cy="1165.3" r="3"/><circle cx="190.2" cy="1282.8" r="3"/><circle cx="173" cy="1264.4" r="3"/><circle cx="190" cy="1272.6" r="3"/><circle cx="185.3" cy="1230.2" r="3"/><circle cx="190.1" cy="1203.3" r="3"/><circle cx="170.9" cy="1220.1" r="3"/><circle cx="178.1" cy="1230.9" r="3"/><circle cx="190.2" cy="1266.5" r="3"/><circle cx="188.5" cy="1198.5" r="3"/><circle cx="191.2" cy="1203.8" r="3"/><circle cx="178.2" cy="1162.1" r="3"/><circle cx="185.9" cy="1160.3" r="3"/><circle cx="183.9" cy="1263.7" r="3"/><circle cx="173.7" cy="1198.1" r="3"/><circle cx="190.6" cy="1246.4" r="3"/><circle cx="191.2" cy="1224.6" r="3"/><circle cx="189.5" cy="1207.1" r="3"/><circle cx="184.7" cy="1261.5" r="3"/><circle cx="189.6" cy="1220.8" r="3"/><circle cx="178.9" cy="1156.3" r="3"/><circle cx="189.7" cy="1207.1" r="3"/><circle cx="185.1" cy="1213.7" r="3"/><circle cx="177.4" cy="1275.5" r="3"/><circle cx="190.8" cy="1298.6" r="3"/><circle cx="180.3" cy="1232.9" r="3"/><circle cx="190.1" cy="1162.2" r="3"/><circle cx="191.4" cy="1251.4" r="3"/><circle cx="190.3" cy="1239.2" r="3"/><circle cx="189.9" cy="1203.5" r="3"/><circle cx="171.7" cy="1203.2" r="3"/><circle cx="184.7" cy="1186" r="3"/><circle cx="172.1" cy="1167.2" r="3"/><circle cx="189.1" cy="1226.4" r="3"/><circle cx="189.1" cy="1244.5" r="3"/><circle cx="189" cy="1150" r="3"/><circle cx="169.6" cy="1224.8" r="3"/><circle cx="177.9" cy="1214.4" r="3"/><circle cx="181.1" cy="1208.1" r="3"/><circle cx="192.4" cy="1229.7" r="3"/><circle cx="187.3" cy="1207.5" r="3"/><circle cx="185" cy="1209" r="3"/><circle cx="180.3" cy="1159.9" r="3"/><circle cx="192.3" cy="1217" r="3"/><circle cx="189.7" cy="1199.9" r="3"/><circle cx="190.4" cy="1241.1" r="3"/><circle cx="187.7" cy="1236.1" r="3"/><circle cx="177.4" cy="1202.8" r="3"/><circle cx="181.9" cy="1256.7" r="3"/><circle cx="178.6" cy="1213.8" r="3"/><circle cx="182.4" cy="1191.9" r="3"/><circle cx="153.7" cy="1132.6" r="3"/><circle cx="151.5" cy="1256.1" r="3"/><circle cx="166.8" cy="1146.5" r="3"/><circle cx="167.2" cy="1169.3" r="3"/><circle cx="173.5" cy="1159.4" r="3"/><circle cx="163.7" cy="1279.2" r="3"/><circle cx="168.8" cy="1150" r="3"/><circle cx="149.8" cy="1222.4" r="3"/><circle cx="171" cy="1124.7" r="3"/><circle cx="151.2" cy="1220.7" r="3"/><circle cx="169.9" cy="1122.7" r="3"/><circle cx="154.9" cy="1235.5" r="3"/><circle cx="161.3" cy="1154.4" r="3"/><circle cx="148.5" cy="1282.9" r="3"/><circle cx="169.7" cy="1306" r="3"/><circle cx="169.6" cy="1176.2" r="3"/><circle cx="167.2" cy="1244" r="3"/><circle cx="149" cy="1233.8" r="3"/><circle cx="172.2" cy="1202.9" r="3"/><circle cx="148.2" cy="1138.7" r="3"/><circle cx="170.1" cy="1218.6" r="3"/><circle cx="167.3" cy="1213.3" r="3"/><circle cx="169.7" cy="1283.2" r="3"/><circle cx="171" cy="1276.9" r="3"/><circle cx="155.4" cy="1134.1" r="3"/></g>
<g fill="#FF4500"><circle cx="278" cy="1068.7" r="3"/><circle cx="283.8" cy="1073.9" r="3"/><circle cx="322.3" cy="1084.3" r="3"/><circle cx="374.2" cy="1082.6" r="3"/><circle cx="358.9" cy="1091.2" r="3"/><circle cx="412.8" cy="1119" r="3"/><circle cx="418.5" cy="1120.7" r="3"/><circle cx="364.6" cy="1117.2" r="3"/><circle cx="370.4" cy="1127.6" r="3"/><circle cx="368.5" cy="1138" r="3"/><circle cx="270.3" cy="1087.8" r="3"/><circle cx="293.4" cy="1105.1" r="3"/><circle cx="289.6" cy="1106.8" r="3"/><circle cx="303" cy="1105.1" r="3"/><circle cx="293.4" cy="1119" r="3"/><circle cx="295.3" cy="1122.4" r="3"/><circle cx="320.4" cy="1139.8" r="3"/><circle cx="335.8" cy="1158.8" r="3"/><circle cx="341.5" cy="1176.2" r="3"/><circle cx="349.2" cy="1184.8" r="3"/><circle cx="389.6" cy="1243.8" r="3"/><circle cx="403.1" cy="1224.7" r="3"/><circle cx="405.1" cy="1209.1" r="3"/><circle cx="370.4" cy="1216.1" r="3"/><circle cx="368.5" cy="1219.5" r="3"/><circle cx="353.1" cy="1205.7" r="3"/><circle cx="333.8" cy="1229.9" r="3"/><circle cx="333.8" cy="1280.2" r="3"/><circle cx="322.3" cy="1271.5" r="3"/><circle cx="328.1" cy="1249" r="3"/><circle cx="301.1" cy="1307.9" r="3"/><circle cx="308.8" cy="1195.3" r="3"/><circle cx="316.5" cy="1202.2" r="3"/><circle cx="324.2" cy="1205.7" r="3"/><circle cx="330" cy="1209.1" r="3"/><circle cx="331.9" cy="1236.9" r="3"/><circle cx="316.5" cy="1240.3" r="3"/><circle cx="310.7" cy="1233.4" r="3"/><circle cx="320.4" cy="1236.9" r="3"/><circle cx="291.4" cy="1300.4" r="3"/><circle cx="272.9" cy="1278.8" r="3"/><circle cx="305.6" cy="1221" r="3"/><circle cx="315.3" cy="1210.3" r="3"/><circle cx="276.8" cy="1212.9" r="3"/><circle cx="298.8" cy="1218.2" r="3"/><circle cx="280.5" cy="1211.3" r="3"/><circle cx="303.7" cy="1271" r="3"/><circle cx="275.3" cy="1254.8" r="3"/><circle cx="292.4" cy="1172.7" r="3"/><circle cx="282.8" cy="1236.7" r="3"/><circle cx="275.8" cy="1192.7" r="3"/><circle cx="281" cy="1232.2" r="3"/><circle cx="307.7" cy="1237.1" r="3"/><circle cx="283.7" cy="1275.5" r="3"/><circle cx="284.8" cy="1197.8" r="3"/><circle cx="276.9" cy="1235.2" r="3"/><circle cx="273.2" cy="1235.5" r="3"/><circle cx="278.9" cy="1277.8" r="3"/><circle cx="274.9" cy="1261.2" r="3"/><circle cx="284.3" cy="1299" r="3"/><circle cx="288" cy="1210.8" r="3"/><circle cx="279.4" cy="1200.8" r="3"/><circle cx="271.7" cy="1160.1" r="3"/><circle cx="272.7" cy="1215.9" r="3"/><circle cx="295.3" cy="1258" r="3"/><circle cx="280.2" cy="1243.4" r="3"/><circle cx="277.5" cy="1161.7" r="3"/><circle cx="282.7" cy="1209.5" r="3"/><circle cx="278.3" cy="1266.5" r="3"/><circle cx="278" cy="1307" r="3"/><circle cx="274.9" cy="1218.6" r="3"/><circle cx="283.4" cy="1160.8" r="3"/><circle cx="274" cy="1140.5" r="3"/><circle cx="272.5" cy="1191.1" r="3"/><circle cx="290.3" cy="1253.9" r="3"/><circle cx="283.7" cy="1246.5" r="3"/><circle cx="278" cy="1252" r="3"/><circle cx="287.4" cy="1206.6" r="3"/><circle cx="273.5" cy="1197.3" r="3"/><circle cx="308.9" cy="1217.2" r="3"/><circle cx="320.3" cy="1184.9" r="3"/><circle cx="273.3" cy="1228.2" r="3"/><circle cx="294.8" cy="1245.7" r="3"/><circle cx="272.7" cy="1228.3" r="3"/><circle cx="281.5" cy="1208.1" r="3"/><circle cx="304.2" cy="1263.5" r="3"/><circle cx="282.4" cy="1259.2" r="3"/><circle cx="287.3" cy="1254.5" r="3"/><circle cx="275.7" cy="1254.5" r="3"/><circle cx="275.7" cy="1241.2" r="3"/><circle cx="303.3" cy="1264.3" r="3"/><circle cx="304.8" cy="1282.6" r="3"/><circle cx="303.8" cy="1209.6" r="3"/><circle cx="282.7" cy="1171.8" r="3"/><circle cx="283.7" cy="1251.1" r="3"/><circle cx="276.5" cy="1172.2" r="3"/><circle cx="287.8" cy="1211.7" r="3"/><circle cx="286.1" cy="1236.4" r="3"/><circle cx="284.2" cy="1253.5" r="3"/><circle cx="284.8" cy="1202" r="3"/><circle cx="286.1" cy="1191.3" r="3"/><circle cx="273.2" cy="1295.6" r="3"/><circle cx="295.1" cy="1209.6" r="3"/><circle cx="283.4" cy="1202.6" r="3"/><circle cx="288.4" cy="1199.5" r="3"/><circle cx="271.3" cy="1274.1" r="3"/><circle cx="304.3" cy="1254.2" r="3"/><circle cx="277.5" cy="1211.9" r="3"/><circle cx="288.8" cy="1173.5" r="3"/><circle cx="291.7" cy="1228.9" r="3"/><circle cx="285.3" cy="1269.6" r="3"/><circle cx="303.4" cy="1259.2" r="3"/><circle cx="274.3" cy="1239.2" r="3"/><circle cx="279.6" cy="1209.6" r="3"/><circle cx="280.1" cy="1239.4" r="3"/><circle cx="296.9" cy="1232.4" r="3"/><circle cx="273.3" cy="1214.5" r="3"/><circle cx="295.3" cy="1144.7" r="3"/><circle cx="273.1" cy="1177.2" r="3"/><circle cx="282.6" cy="1208.3" r="3"/><circle cx="279" cy="1222.5" r="3"/><circle cx="281.6" cy="1216.2" r="3"/><circle cx="281.6" cy="1191.4" r="3"/><circle cx="287.2" cy="1226.7" r="3"/><circle cx="273.1" cy="1238.2" r="3"/><circle cx="275.4" cy="1228.3" r="3"/><circle cx="281.4" cy="1265.8" r="3"/><circle cx="277.4" cy="1250.1" r="3"/><circle cx="277.5" cy="1287.5" r="3"/><circle cx="289.7" cy="1225.7" r="3"/><circle cx="275" cy="1226.7" r="3"/><circle cx="275.1" cy="1241.7" r="3"/><circle cx="283.9" cy="1227.2" r="3"/><circle cx="278.7" cy="1158.8" r="3"/><circle cx="284.3" cy="1245.2" r="3"/><circle cx="285.4" cy="1264.7" r="3"/><circle cx="299.2" cy="1274.5" r="3"/><circle cx="274.9" cy="1306.3" r="3"/><circle cx="281.8" cy="1224.3" r="3"/><circle cx="271.9" cy="1192.6" r="3"/><circle cx="282.3" cy="1258.6" r="3"/><circle cx="273.5" cy="1277.3" r="3"/><circle cx="280.7" cy="1224.6" r="3"/><circle cx="283" cy="1259.2" r="3"/><circle cx="277.2" cy="1200.9" r="3"/><circle cx="288" cy="1256.1" r="3"/><circle cx="275.3" cy="1208.5" r="3"/><circle cx="285.3" cy="1298.9" r="3"/><circle cx="301.8" cy="1225.9" r="3"/><circle cx="276.6" cy="1226.7" r="3"/><circle cx="277.6" cy="1154" r="3"/><circle cx="281.5" cy="1213.6" r="3"/><circle cx="273.4" cy="1274.5" r="3"/><circle cx="288.9" cy="1216.4" r="3"/><circle cx="276.9" cy="1193.7" r="3"/><circle cx="282.5" cy="1235.8" r="3"/><circle cx="318.4" cy="1225" r="3"/><circle cx="272.9" cy="1165.6" r="3"/><circle cx="278.3" cy="1204.1" r="3"/><circle cx="276" cy="1241" r="3"/><circle cx="308.5" cy="1261.5" r="3"/><circle cx="271.9" cy="1263" r="3"/><circle cx="282.9" cy="1278.6" r="3"/><circle cx="287.2" cy="1251.5" r="3"/><circle cx="271.7" cy="1230.1" r="3"/><circle cx="276" cy="1161.9" r="3"/><circle cx="279" cy="1240.4" r="3"/><circle cx="278.9" cy="1212.5" r="3"/><circle cx="288.8" cy="1302.5" r="3"/><circle cx="275.2" cy="1193.1" r="3"/><circle cx="273.1" cy="1289.7" r="3"/><circle cx="288.4" cy="1252.9" r="3"/><circle cx="291" cy="1284.5" r="3"/><circle cx="278.4" cy="1270.9" r="3"/><circle cx="286" cy="1217.1" r="3"/><circle cx="279" cy="1226.5" r="3"/><circle cx="280.1" cy="1218.7" r="3"/><circle cx="272.1" cy="1261.6" r="3"/><circle cx="281.1" cy="1222.5" r="3"/><circle cx="271.3" cy="1210" r="3"/><circle cx="287.7" cy="1155.1" r="3"/><circle cx="288.7" cy="1269.7" r="3"/><circle cx="299.7" cy="1161" r="3"/><circle cx="280.7" cy="1255.4" r="3"/><circle cx="281.2" cy="1200.7" r="3"/><circle cx="297.8" cy="1189.8" r="3"/><circle cx="307.6" cy="1208.7" r="3"/><circle cx="292.7" cy="1234.1" r="3"/><circle cx="280.1" cy="1211.2" r="3"/><circle cx="308" cy="1308.3" r="3"/><circle cx="296.8" cy="1139.9" r="3"/><circle cx="271.6" cy="1194.1" r="3"/><circle cx="289.8" cy="1166.1" r="3"/><circle cx="283" cy="1221.7" r="3"/><circle cx="271.9" cy="1249.8" r="3"/><circle cx="276.9" cy="1228.2" r="3"/><circle cx="280.8" cy="1196.7" r="3"/><circle cx="285.8" cy="1186.6" r="3"/><circle cx="275" cy="1193.5" r="3"/><circle cx="306.5" cy="1210.7" r="3"/><circle cx="276.2" cy="1209.9" r="3"/><circle cx="292.6" cy="1160.8" r="3"/><circle cx="284.9" cy="1257.9" r="3"/><circle cx="297.6" cy="1239.9" r="3"/><circle cx="299.9" cy="1192.1" r="3"/><circle cx="280.1" cy="1186.5" r="3"/><circle cx="275" cy="1154.5" r="3"/><circle cx="278.6" cy="1170.5" r="3"/><circle cx="278.3" cy="1200.3" r="3"/><circle cx="276.1" cy="1213.1" r="3"/><circle cx="271.2" cy="1262.1" r="3"/><circle cx="281.5" cy="1259.2" r="3"/><circle cx="309.5" cy="1169.6" r="3"/><circle cx="298.4" cy="1194.6" r="3"/><circle cx="296.3" cy="1213.5" r="3"/><circle cx="280" cy="1222.4" r="3"/><circle cx="275.4" cy="1202.8" r="3"/><circle cx="275.9" cy="1276.9" r="3"/><circle cx="299.3" cy="1232.5" r="3"/><circle cx="279.1" cy="1257.8" r="3"/><circle cx="272.8" cy="1177.2" r="3"/><circle cx="287.3" cy="1215.7" r="3"/><circle cx="272" cy="1164.9" r="3"/><circle cx="310.9" cy="1247.8" r="3"/><circle cx="280.2" cy="1238.4" r="3"/><circle cx="278.6" cy="1212.1" r="3"/><circle cx="277.9" cy="1203.4" r="3"/><circle cx="281.9" cy="1146.5" r="3"/><circle cx="277" cy="1157.5" r="3"/><circle cx="291.4" cy="1227" r="3"/><circle cx="297.2" cy="1238.4" r="3"/><circle cx="301" cy="1264.1" r="3"/><circle cx="289.1" cy="1255.6" r="3"/><circle cx="296" cy="1258" r="3"/><circle cx="299.2" cy="1194.2" r="3"/><circle cx="302.2" cy="1199.4" r="3"/><circle cx="273.9" cy="1233.4" r="3"/><circle cx="280.7" cy="1259.8" r="3"/><circle cx="276.4" cy="1246.8" r="3"/><circle cx="281.8" cy="1219.7" r="3"/><circle cx="296.9" cy="1293.6" r="3"/><circle cx="278.2" cy="1215.5" r="3"/><circle cx="285.2" cy="1243.1" r="3"/><circle cx="286.5" cy="1263" r="3"/><circle cx="287.2" cy="1238.1" r="3"/><circle cx="305.5" cy="1206.7" r="3"/><circle cx="272.3" cy="1250.6" r="3"/><circle cx="279.3" cy="1152.7" r="3"/><circle cx="273.8" cy="1258" r="3"/><circle cx="275" cy="1266.7" r="3"/><circle cx="275.9" cy="1223.5" r="3"/><circle cx="290.4" cy="1209.3" r="3"/><circle cx="275.1" cy="1162.2" r="3"/><circle cx="275.8" cy="1191.8" r="3"/><circle cx="275.3" cy="1192" r="3"/><circle cx="273" cy="1279" r="3"/><circle cx="279.5" cy="1267.3" r="3"/><circle cx="273.1" cy="1147.6" r="3"/><circle cx="292.8" cy="1252" r="3"/><circle cx="292.3" cy="1186.8" r="3"/><circle cx="285.2" cy="1197.7" r="3"/><circle cx="277.9" cy="1163.9" r="3"/><circle cx="308.8" cy="1199" r="3"/><circle cx="290.6" cy="1223.1" r="3"/><circle cx="278.8" cy="1303.7" r="3"/><circle cx="307" cy="1288.2" r="3"/><circle cx="286.1" cy="1215.1" r="3"/><circle cx="286.9" cy="1188.7" r="3"/><circle cx="276.7" cy="1230.1" r="3"/><circle cx="290.8" cy="1222.4" r="3"/><circle cx="289.6" cy="1154.1" r="3"/><circle cx="274.3" cy="1294.6" r="3"/><circle cx="273.6" cy="1199.7" r="3"/><circle cx="294.5" cy="1218.1" r="3"/><circle cx="290.4" cy="1219.6" r="3"/><circle cx="279.9" cy="1227" r="3"/><circle cx="282.3" cy="1236.5" r="3"/><circle cx="272.1" cy="1223.1" r="3"/><circle cx="306.1" cy="1250.8" r="3"/><circle cx="280.6" cy="1236.7" r="3"/><circle cx="271.7" cy="1238.6" r="3"/><circle cx="273.8" cy="1208.5" r="3"/><circle cx="272.5" cy="1232.1" r="3"/><circle cx="292.1" cy="1164.1" r="3"/><circle cx="303.2" cy="1254.8" r="3"/><circle cx="293.6" cy="1208.9" r="3"/><circle cx="300.8" cy="1218.6" r="3"/><circle cx="284.4" cy="1221.1" r="3"/><circle cx="284.8" cy="1182" r="3"/><circle cx="279.2" cy="1209.3" r="3"/><circle cx="274.7" cy="1198.1" r="3"/><circle cx="279.3" cy="1163.6" r="3"/><circle cx="285" cy="1272.3" r="3"/><circle cx="272.6" cy="1236.1" r="3"/><circle cx="271.8" cy="1225.3" r="3"/><circle cx="285.6" cy="1191.4" r="3"/><circle cx="289.5" cy="1221.6" r="3"/><circle cx="280.2" cy="1155" r="3"/><circle cx="273.1" cy="1267.2" r="3"/></g>
</g>
<rect x="47.5" y="963.5" width="388" height="413.3" fill="none" stroke="#4D4D4D" stroke-width="1.2"/>
<line x1="135.6" y1="1376.8" x2="135.6" y2="1378.3" stroke="#4D4D4D" stroke-width="1.1"/>
<text x="139.1" y="1399.8" font-size="19" text-anchor="middle" fill="#222">-2.5</text>
<line x1="231.8" y1="1376.8" x2="231.8" y2="1378.3" stroke="#4D4D4D" stroke-width="1.1"/>
<text x="236.3" y="1399.8" font-size="19" text-anchor="middle" fill="#222">0.0</text>
<line x1="328.1" y1="1376.8" x2="328.1" y2="1378.3" stroke="#4D4D4D" stroke-width="1.1"/>
<text x="333.1" y="1399.8" font-size="19" text-anchor="middle" fill="#222">2.5</text>
<line x1="424.3" y1="1376.8" x2="424.3" y2="1378.3" stroke="#4D4D4D" stroke-width="1.1"/>
<text x="427.8" y="1399.8" font-size="19" text-anchor="middle" fill="#222">5.0</text>
<line x1="47.5" y1="1358.2" x2="44" y2="1358.2" stroke="#4D4D4D" stroke-width="1.1"/>
<text x="39.5" y="1358.2" font-size="17" text-anchor="middle" fill="#222" transform="rotate(-90 39.5 1358.2)">0</text>
<line x1="47.5" y1="1254.2" x2="44" y2="1254.2" stroke="#4D4D4D" stroke-width="1.1"/>
<text x="39.5" y="1254.2" font-size="17" text-anchor="middle" fill="#222" transform="rotate(-90 39.5 1254.2)">3</text>
<line x1="47.5" y1="1150.2" x2="44" y2="1150.2" stroke="#4D4D4D" stroke-width="1.1"/>
<text x="39.5" y="1150.2" font-size="17" text-anchor="middle" fill="#222" transform="rotate(-90 39.5 1150.2)">6</text>
<line x1="47.5" y1="1046.2" x2="44" y2="1046.2" stroke="#4D4D4D" stroke-width="1.1"/>
<text x="39.5" y="1046.2" font-size="17" text-anchor="middle" fill="#222" transform="rotate(-90 39.5 1046.2)">9</text>
<g fill="#00858A"><circle cx="465.8" cy="1062.7" r="8"/></g>
<text x="467" y="1086" font-size="20" text-anchor="middle" fill="#000">Down</text>
<g fill="#FF4500"><circle cx="466" cy="1116.8" r="8"/></g>
<text x="465" y="1146" font-size="20" text-anchor="middle" fill="#000">Up</text>
<g fill="#BEBEBE"><circle cx="466" cy="1178.4" r="8"/></g>
<text x="469" y="1210" font-size="20" text-anchor="middle" fill="#000">Not</text>
<text x="468.5" y="1234" font-size="20" text-anchor="middle" fill="#000">signifi-</text>
<text x="469" y="1258" font-size="20" text-anchor="middle" fill="#000">cant</text>
<text x="268.7" y="1419.5" font-size="20" text-anchor="middle" fill="#111">log(fold change)</text>
<text x="16" y="1171" font-size="20" text-anchor="middle" fill="#111" transform="rotate(-90 16 1171)">−log<tspan font-size="13" dy="4">10</tspan><tspan dy="-4">(adjust </tspan><tspan font-style="italic">p</tspan> value)</text>
<text x="63.8" y="1415.4" font-size="30" text-anchor="middle" fill="#000" font-weight="bold">(E)</text>
<rect x="533.5" y="1040.4" width="297.6" height="288.6" fill="none" stroke="#333" stroke-width="1.3"/>
<line x1="533.5" y1="1100.4" x2="526.5" y2="1100.4" stroke="#333" stroke-width="1.1"/>
<text x="522" y="1100.4" font-size="18" text-anchor="middle" fill="#111" transform="rotate(-90 522 1100.4)">0.5</text>
<line x1="533.5" y1="1180.5" x2="526.5" y2="1180.5" stroke="#333" stroke-width="1.1"/>
<text x="522" y="1180.5" font-size="18" text-anchor="middle" fill="#111" transform="rotate(-90 522 1180.5)">0</text>
<line x1="533.5" y1="1260.6" x2="526.5" y2="1260.6" stroke="#333" stroke-width="1.1"/>
<text x="522" y="1260.6" font-size="18" text-anchor="middle" fill="#111" transform="rotate(-90 522 1260.6)">-0.5</text>
<line x1="601.9" y1="1329" x2="601.9" y2="1336" stroke="#333" stroke-width="1.1"/>
<text x="601.9" y="1353" font-size="18" text-anchor="middle" fill="#111">5</text>
<line x1="675" y1="1329" x2="675" y2="1336" stroke="#333" stroke-width="1.1"/>
<text x="675" y="1353" font-size="18" text-anchor="middle" fill="#111">10</text>
<line x1="748.1" y1="1329" x2="748.1" y2="1336" stroke="#333" stroke-width="1.1"/>
<line x1="821.2" y1="1329" x2="821.2" y2="1336" stroke="#333" stroke-width="1.1"/>
<text x="543.4" y="1323.5" font-size="14" text-anchor="middle" fill="#FF0000" style="font-family:'Liberation Sans',sans-serif">1</text>
<text x="558" y="1193.6" font-size="14" text-anchor="middle" fill="#FF0000" style="font-family:'Liberation Sans',sans-serif">2</text>
<text x="572.7" y="1163" font-size="14" text-anchor="middle" fill="#FF0000" style="font-family:'Liberation Sans',sans-serif">3</text>
<text x="587.3" y="1130" font-size="14" text-anchor="middle" fill="#FF0000" style="font-family:'Liberation Sans',sans-serif">4</text>
<text x="601.9" y="1110.5" font-size="14" text-anchor="middle" fill="#FF0000" style="font-family:'Liberation Sans',sans-serif">5</text>
<text x="616.5" y="1095.5" font-size="14" text-anchor="middle" fill="#FF0000" style="font-family:'Liberation Sans',sans-serif">6</text>
<text x="631.1" y="1085" font-size="14" text-anchor="middle" fill="#FF0000" style="font-family:'Liberation Sans',sans-serif">7</text>
<text x="645.8" y="1081.4" font-size="14" text-anchor="middle" fill="#FF0000" style="font-family:'Liberation Sans',sans-serif">8</text>
<text x="660.4" y="1079" font-size="14" text-anchor="middle" fill="#FF0000" style="font-family:'Liberation Sans',sans-serif">9</text>
<text x="675" y="1073" font-size="14" text-anchor="middle" fill="#FF0000" style="font-family:'Liberation Sans',sans-serif">10</text>
<text x="689.6" y="1071" font-size="14" text-anchor="middle" fill="#FF0000" style="font-family:'Liberation Sans',sans-serif">11</text>
<text x="704.2" y="1067" font-size="14" text-anchor="middle" fill="#FF0000" style="font-family:'Liberation Sans',sans-serif">12</text>
<text x="718.9" y="1063.4" font-size="14" text-anchor="middle" fill="#FF0000" style="font-family:'Liberation Sans',sans-serif">13</text>
<text x="733.5" y="1066.4" font-size="14" text-anchor="middle" fill="#FF0000" style="font-family:'Liberation Sans',sans-serif">14</text>
<text x="748.1" y="1065.5" font-size="14" text-anchor="middle" fill="#FF0000" style="font-family:'Liberation Sans',sans-serif">15</text>
<text x="762.7" y="1065" font-size="14" text-anchor="middle" fill="#FF0000" style="font-family:'Liberation Sans',sans-serif">16</text>
<text x="777.3" y="1062.5" font-size="14" text-anchor="middle" fill="#FF0000" style="font-family:'Liberation Sans',sans-serif">17</text>
<text x="792" y="1062" font-size="14" text-anchor="middle" fill="#FF0000" style="font-family:'Liberation Sans',sans-serif">18</text>
<text x="806.6" y="1055" font-size="14" text-anchor="middle" fill="#FF0000" style="font-family:'Liberation Sans',sans-serif">19</text>
<text x="821.2" y="1056" font-size="14" text-anchor="middle" fill="#FF0000" style="font-family:'Liberation Sans',sans-serif">20</text>
<text x="676.7" y="1374" font-size="20" text-anchor="middle" fill="#111">Soft Threshold (power)</text>
<text x="504" y="1209" font-size="20" text-anchor="middle" fill="#111" transform="rotate(-90 504 1209)">R<tspan font-size="13" dy="-8">2</tspan></text>
<rect x="897.9" y="1038.6" width="299.7" height="289.5" fill="none" stroke="#333" stroke-width="1.3"/>
<line x1="897.9" y1="1319.4" x2="890.9" y2="1319.4" stroke="#333" stroke-width="1.1"/>
<text x="886.4" y="1319.4" font-size="18" text-anchor="middle" fill="#111" transform="rotate(-90 886.4 1319.4)">0</text>
<line x1="897.9" y1="1271.5" x2="890.9" y2="1271.5" stroke="#333" stroke-width="1.1"/>
<text x="886.4" y="1271.5" font-size="18" text-anchor="middle" fill="#111" transform="rotate(-90 886.4 1271.5)">100</text>
<line x1="897.9" y1="1223.6" x2="890.9" y2="1223.6" stroke="#333" stroke-width="1.1"/>
<text x="886.4" y="1223.6" font-size="18" text-anchor="middle" fill="#111" transform="rotate(-90 886.4 1223.6)">200</text>
<line x1="897.9" y1="1175.7" x2="890.9" y2="1175.7" stroke="#333" stroke-width="1.1"/>
<text x="886.4" y="1175.7" font-size="18" text-anchor="middle" fill="#111" transform="rotate(-90 886.4 1175.7)">300</text>
<line x1="897.9" y1="1127.8" x2="890.9" y2="1127.8" stroke="#333" stroke-width="1.1"/>
<text x="886.4" y="1127.8" font-size="18" text-anchor="middle" fill="#111" transform="rotate(-90 886.4 1127.8)">400</text>
<line x1="897.9" y1="1079.9" x2="890.9" y2="1079.9" stroke="#333" stroke-width="1.1"/>
<text x="886.4" y="1079.9" font-size="18" text-anchor="middle" fill="#111" transform="rotate(-90 886.4 1079.9)">500</text>
<line x1="968.1" y1="1328.1" x2="968.1" y2="1335.1" stroke="#333" stroke-width="1.1"/>
<text x="968.1" y="1352.1" font-size="18" text-anchor="middle" fill="#111">5</text>
<line x1="1041" y1="1328.1" x2="1041" y2="1335.1" stroke="#333" stroke-width="1.1"/>
<text x="1041" y="1352.1" font-size="18" text-anchor="middle" fill="#111">10</text>
<line x1="1113.8" y1="1328.1" x2="1113.8" y2="1335.1" stroke="#333" stroke-width="1.1"/>
<text x="1113.8" y="1352.1" font-size="18" text-anchor="middle" fill="#111">15</text>
<line x1="1186.7" y1="1328.1" x2="1186.7" y2="1335.1" stroke="#333" stroke-width="1.1"/>
<text x="1186.7" y="1352.1" font-size="18" text-anchor="middle" fill="#111">20</text>
<text x="909.8" y="1055" font-size="14" text-anchor="middle" fill="#FF0000" style="font-family:'Liberation Sans',sans-serif">1</text>
<text x="924.4" y="1171" font-size="14" text-anchor="middle" fill="#FF0000" style="font-family:'Liberation Sans',sans-serif">2</text>
<text x="939" y="1226.6" font-size="14" text-anchor="middle" fill="#FF0000" style="font-family:'Liberation Sans',sans-serif">3</text>
<text x="953.5" y="1258.4" font-size="14" text-anchor="middle" fill="#FF0000" style="font-family:'Liberation Sans',sans-serif">4</text>
<text x="968.1" y="1277" font-size="14" text-anchor="middle" fill="#FF0000" style="font-family:'Liberation Sans',sans-serif">5</text>
<text x="982.7" y="1290.5" font-size="14" text-anchor="middle" fill="#FF0000" style="font-family:'Liberation Sans',sans-serif">6</text>
<text x="997.2" y="1298" font-size="14" text-anchor="middle" fill="#FF0000" style="font-family:'Liberation Sans',sans-serif">7</text>
<text x="1011.8" y="1305" font-size="14" text-anchor="middle" fill="#FF0000" style="font-family:'Liberation Sans',sans-serif">8</text>
<text x="1026.4" y="1308.5" font-size="14" text-anchor="middle" fill="#FF0000" style="font-family:'Liberation Sans',sans-serif">9</text>
<text x="1041" y="1313" font-size="14" text-anchor="middle" fill="#FF0000" style="font-family:'Liberation Sans',sans-serif">10</text>
<text x="1055.5" y="1315.4" font-size="14" text-anchor="middle" fill="#FF0000" style="font-family:'Liberation Sans',sans-serif">11</text>
<text x="1070.1" y="1317" font-size="14" text-anchor="middle" fill="#FF0000" style="font-family:'Liberation Sans',sans-serif">12</text>
<text x="1084.7" y="1318.5" font-size="14" text-anchor="middle" fill="#FF0000" style="font-family:'Liberation Sans',sans-serif">13</text>
<text x="1099.2" y="1319.5" font-size="14" text-anchor="middle" fill="#FF0000" style="font-family:'Liberation Sans',sans-serif">14</text>
<text x="1113.8" y="1320" font-size="14" text-anchor="middle" fill="#FF0000" style="font-family:'Liberation Sans',sans-serif">15</text>
<text x="1128.4" y="1320.5" font-size="14" text-anchor="middle" fill="#FF0000" style="font-family:'Liberation Sans',sans-serif">16</text>
<text x="1142.9" y="1321" font-size="14" text-anchor="middle" fill="#FF0000" style="font-family:'Liberation Sans',sans-serif">17</text>
<text x="1157.5" y="1321" font-size="14" text-anchor="middle" fill="#FF0000" style="font-family:'Liberation Sans',sans-serif">18</text>
<text x="1172.1" y="1321.5" font-size="14" text-anchor="middle" fill="#FF0000" style="font-family:'Liberation Sans',sans-serif">19</text>
<text x="1186.7" y="1321.5" font-size="14" text-anchor="middle" fill="#FF0000" style="font-family:'Liberation Sans',sans-serif">20</text>
<text x="1042.5" y="1377" font-size="20" text-anchor="middle" fill="#111">Soft Threshold (power)</text>
<text x="866" y="1187" font-size="20" text-anchor="middle" fill="#111" transform="rotate(-90 866 1187)">Mean connectivity</text>
<text x="554.2" y="1418.8" font-size="30" text-anchor="middle" fill="#000" font-weight="bold">(F)</text>
<line x1="62.5" y1="1450" x2="62.5" y2="1803" stroke="#333" stroke-width="1.2"/>
<line x1="62.5" y1="1460.4" x2="52.5" y2="1460.4" stroke="#333" stroke-width="1.1"/>
<text x="44" y="1460.4" font-size="18" text-anchor="middle" fill="#111" transform="rotate(-90 44 1460.4)">0.6</text>
<line x1="62.5" y1="1509.6" x2="52.5" y2="1509.6" stroke="#333" stroke-width="1.1"/>
<text x="44" y="1509.6" font-size="18" text-anchor="middle" fill="#111" transform="rotate(-90 44 1509.6)">0.55</text>
<line x1="62.5" y1="1558.9" x2="52.5" y2="1558.9" stroke="#333" stroke-width="1.1"/>
<text x="44" y="1558.9" font-size="18" text-anchor="middle" fill="#111" transform="rotate(-90 44 1558.9)">0.5</text>
<line x1="62.5" y1="1608.1" x2="52.5" y2="1608.1" stroke="#333" stroke-width="1.1"/>
<text x="44" y="1608.1" font-size="18" text-anchor="middle" fill="#111" transform="rotate(-90 44 1608.1)">0.45</text>
<line x1="62.5" y1="1657.3" x2="52.5" y2="1657.3" stroke="#333" stroke-width="1.1"/>
<text x="44" y="1657.3" font-size="18" text-anchor="middle" fill="#111" transform="rotate(-90 44 1657.3)">0.4</text>
<line x1="62.5" y1="1706.6" x2="52.5" y2="1706.6" stroke="#333" stroke-width="1.1"/>
<text x="44" y="1706.6" font-size="18" text-anchor="middle" fill="#111" transform="rotate(-90 44 1706.6)">0.35</text>
<line x1="62.5" y1="1755.8" x2="52.5" y2="1755.8" stroke="#333" stroke-width="1.1"/>
<text x="44" y="1755.8" font-size="18" text-anchor="middle" fill="#111" transform="rotate(-90 44 1755.8)">0.3</text>
<line x1="62.5" y1="1805" x2="52.5" y2="1805" stroke="#333" stroke-width="1.1"/>
<text x="44" y="1805" font-size="18" text-anchor="middle" fill="#111" transform="rotate(-90 44 1805)">0.25</text>
<text x="25" y="1610" font-size="20" text-anchor="middle" fill="#111" transform="rotate(-90 25 1610)">Height</text>
<path d="M99.5 1486V1811M112.5 1500V1811M125.5 1515V1811M137.5 1530V1811M150.5 1547V1811M163.5 1562V1811M176.5 1578V1811M188.5 1589V1811M201.5 1598V1811M214.5 1614V1811M227.5 1621V1811M239.5 1629V1811M252.5 1635V1811M265.5 1639V1811M278.5 1643V1811M290.5 1648V1811M303.5 1657V1811M316.5 1663V1811M329.5 1670V1811M341.5 1671V1811M354.5 1679V1811M367.5 1681V1811M379.5 1688V1811M392.5 1689V1811M405.5 1697V1811M418.5 1701V1811M430.5 1706V1811M443.5 1704V1811M456.5 1714V1811M469.5 1714V1811M481.5 1720V1811M494.5 1717V1811M507.5 1725V1811M520.5 1728V1811M532.5 1728V1811M545.5 1731V1811M558.5 1744V1811M571.5 1754V1811M583.5 1746V1811M596.5 1743V1811M609.5 1745V1811M622.5 1747V1811M634.5 1748V1811M647.5 1754V1811M660.5 1758V1811M673.5 1761V1811M685.5 1764V1811M698.5 1771V1811M711.5 1780V1811M723.5 1796V1811" stroke="#9C9C9C" stroke-width="1" stroke-dasharray="1.2 2.8" fill="none"/>
<polygon points="87.7,1451.7 90,1455 93.3,1460.3 100,1467 110,1475 113.3,1480.3 120,1486.3 126.7,1495 133.3,1503.7 140,1512 148.3,1521.7 156.7,1533.3 165,1545 173.3,1555 181.7,1563.3 190,1570 198.3,1576.7 206.7,1583.3 215,1589.2 223.3,1595 231.7,1600 240,1605 248.3,1609.2 256.7,1614.2 265,1619.2 273.3,1623.3 281.7,1627.5 290,1630.8 300,1634.2 306.7,1636.5 325,1644 340,1650 355,1656 370,1661 385,1666.5 410,1676.5 440,1685 470,1693 500,1700.5 520,1704.7 546.7,1712 552,1713.3 557.3,1718.7 561.3,1725.3 566.7,1728.7 569.3,1730 571,1742 570.8,1753 563.3,1752.7 562.7,1743.3 560,1733.3 555.3,1727.3 550,1722.7 552,1723.3 546.7,1722 520,1715.9 500,1711.7 470,1704.2 440,1696.2 410,1687.7 385,1677.7 370,1672.2 355,1667.2 340,1661.2 325,1655.2 306.7,1646.7 300,1643.3 290,1640 273.3,1633.3 256.7,1625 240,1616.7 223.3,1606.7 215,1601.7 206.7,1595.8 198.3,1588.3 190,1581.7 181.7,1573.3 173.3,1565 165,1555 156.7,1545 148.3,1533.3 140,1521.7 136.7,1519.7 130,1511.7 125.3,1505 120,1497 113.3,1491.7 110.7,1485.7 103.3,1481.7 96.7,1476.3 90,1469 87,1461.7" fill="#000"/>
<polygon points="571,1713.3 572,1713.7 600,1719.8 623.3,1726.8 646.7,1731.5 658.3,1735 670,1737.3 688.7,1743.2 699.2,1747.8 712,1754.8 716.7,1757.2 722.5,1765.3 724.8,1775.8 725,1788 721.3,1789.8 716.7,1770 705,1763 693.3,1756 681.7,1751.3 670,1749 646.7,1744.3 623.3,1737.3 600,1730.3 571,1724" fill="#000"/>
<line x1="552" y1="1713.4" x2="572" y2="1713.4" stroke="#000" stroke-width="1.0"/>
<path d="M88 1463.1v3.2M89.2 1466.2v1.1M90.4 1468.5v1.3M91.4 1469.5v1.7M93.5 1471.8v2.2M94.6 1473v1.3M95.5 1474v2.1M96.5 1475.1v1.7M98.7 1476.9v4.3M100.6 1478.5v1.8M101.6 1479.3v1.6M103 1480.5v1.9M104.8 1481.5v1.1M106.4 1482.4v1.8M107.3 1482.9v1.3M109.2 1483.9v3.3M110.1 1484.4v2.4M111.5 1486.5v5.5M112.8 1489.6v1.2M114.8 1491.9v1.8M116.9 1493.6v1.4M117.9 1494.3v2.1M119.9 1495.9v1.2M121.2 1497.9v2.1M123.2 1500.8v1.3M124.6 1503v3M126.6 1505.9v1.8M128.1 1508v1.9M130 1510.7v1.2M131.1 1512v3.2M132.4 1513.5v1.1M133.4 1514.7v1.2M134.8 1516.4v5.1M136.8 1518.8v1.8M138.2 1519.6v2M139.7 1520.5v1.2M141.9 1523.4v4.4M142.9 1524.7v2.7M144.2 1526.5v1.5M145.3 1528v2.3M146.3 1529.5v4.2M147.4 1531.1v3.8M149.5 1534v4.7M151.4 1536.6v3.2M152.2 1537.8v2.3M153.1 1538.9v2.5M155.2 1541.9v1M157.3 1544.8v5.4M159.3 1547.1v2.6M160.6 1548.7v3.2M161.4 1549.7v2.2M163.1 1551.7v1.7M164.7 1553.7v1.2M166.7 1556v2.5M168.1 1557.8v2M170 1560v3.4M171.5 1561.8v1.4M173.5 1564.2v1M175.4 1566.1v1.1M176.8 1567.5v2.8M178.4 1569v3.3M180.3 1570.9v1.8M182.2 1572.8v1.1M184.3 1574.9v1.4M185.6 1576.3v3.5M187.2 1577.8v2.2M189.3 1580v1.6M190.4 1581v2.4M192.1 1582.3v2.4M193.6 1583.6v2.4M195.7 1585.3v2M196.8 1586.1v1.9M198.5 1587.4v2.2M199.3 1588.2v1.2M200.4 1589.2v1.2M202.6 1591.1v1.6M204.6 1592.9v1.5M206.3 1594.5v1.8M208.3 1595.9v1.3M209.5 1596.8v1M210.6 1597.6v5.7M211.7 1598.3v1.7M213.8 1599.8v1.3M214.6 1600.5v1.5M216 1601.3v1.3M218.1 1602.6v1.6M219 1603.1v1.1M220.6 1604.1v1.8M222.6 1605.3v1.1M224.4 1606.3v1M225.2 1606.8v1.2M227.3 1608.1v1.9M228.9 1609.1v1.7M230.1 1609.7v1.5M231.8 1610.8v1.5M233.2 1611.6v7M234.6 1612.5v4.9M236.1 1613.4v3.3M237.2 1614v1.3M238.4 1614.7v3.8M240.1 1615.8v2M242 1616.7v2M243.8 1617.6v2.6M245.3 1618.3v2.6M246.2 1618.8v6.9M248 1619.7v2.2M250 1620.7v1.2M251.1 1621.2v1.9M252.4 1621.8v3.1M253.8 1622.6v3M255.6 1623.5v3.3M256.6 1623.9v1.4M257.8 1624.6v1.2M259.4 1625.3v1.4M261 1626.1v2.3M262.7 1627v1.1M264.2 1627.7v2.3M266.1 1628.7v1.8M267.1 1629.2v4.4M268.5 1629.9v6.3M269.4 1630.3v1.2M270.9 1631.1v1.3M272.6 1631.9v3M274.1 1632.6v2.3M275.2 1633.1v2M277.2 1633.8v1.4M279.2 1634.7v1.1M280.6 1635.2v1.1M282.2 1635.9v5.2M284.3 1636.7v5.6M285.5 1637.2v1.3M286.9 1637.7v1.1M288.3 1638.3v1.4M289.6 1638.9v1.7M291.2 1639.4v1.2M293.2 1640v1.2M294.9 1640.6v1.2M296.8 1641.2v2.4M299 1642v1.8M301.1 1642.9v1.3M302.2 1643.4v1.6M303.6 1644.1v2.4M304.9 1644.8v2.3M307.1 1645.9v1.1M309.2 1646.8v1M310.9 1647.6v2M313 1648.6v2.7M314 1649.1v1.6M316.1 1650.1v1.7M318.2 1651.1v1.6M320.1 1651.9v2M321.7 1652.6v7M323.4 1653.5v1.2M325.2 1654.3v3.9M327.1 1655v4.1M328 1655.4v1.4M329 1655.8v1.2M330.4 1656.4v3.9M331.8 1656.9v1.8M333.6 1657.7v1.1M335.5 1658.4v1.6M336.7 1658.9v1.4M338.9 1659.7v1.7M340.7 1660.5v2.5M342.7 1661.3v2.4M343.6 1661.6v1.8M345.1 1662.2v2.3M346.1 1662.6v3.2M347.3 1663.1v1.8M348.2 1663.5v3.6M349.6 1664.1v5.2M351.1 1664.6v1.4M352.4 1665.2v2.2M353.8 1665.7v2.2M354.7 1666.1v1.5M355.8 1666.5v2.8M357 1666.9v1.6M358.7 1667.4v3.1M359.7 1667.8v5.1M361.7 1668.4v1.3M363 1668.9v1.2M364.6 1669.4v2.1M366.1 1669.9v1.1M367.7 1670.4v3.2M368.9 1670.8v2.4M370.7 1671.4v1.2M372.9 1672.3v2M374.9 1673v1.4M376.3 1673.5v1.8M377.6 1674v1.8M378.7 1674.4v1.9M379.9 1674.8v1.8M380.9 1675.2v2.6M382.5 1675.8v4.5M383.9 1676.3v3.4M386.1 1677.1v1.8M387.9 1677.9v1.4M388.8 1678.2v2.7M389.7 1678.6v1.8M390.8 1679v1.1M392.9 1679.8v1.6M394.9 1680.6v3.9M395.8 1681v3.1M397.6 1681.7v1.3M399.1 1682.3v2.1M400.2 1682.8v1.4M401 1683.1v1.6M402.8 1683.8v2.6M404 1684.3v3.3M405.2 1684.8v1.1M406.4 1685.3v3.3M407.5 1685.7v2.2M409.6 1686.5v2.2M411.3 1687.1v4M413.4 1687.7v1.2M414.2 1687.9v1.3M416.1 1688.4v1.5M417.3 1688.8v4.2M418.2 1689v1.5M419.6 1689.4v1.3M420.8 1689.8v1.2M422.7 1690.3v3.5M423.6 1690.6v1.3M425.8 1691.2v1.3M427.8 1691.8v1.2M429.1 1692.1v1.5M430.4 1692.5v1.2M431.4 1692.8v4.7M432.8 1693.2v2.8M434.2 1693.6v1.1M435.2 1693.8v7M436.2 1694.1v2.6M437.1 1694.4v1.3M438.4 1694.7v2.3M440.3 1695.3v5M441.8 1695.7v1.1M443.6 1696.2v3.1M444.6 1696.4v1.9M446 1696.8v2.6M448 1697.3v1.1M449.2 1697.7v1.1M450.6 1698v1.5M451.7 1698.3v2.1M453.3 1698.8v1.1M454.6 1699.1v1.5M456.3 1699.5v2.9M458.2 1700.1v4.8M459.3 1700.4v1.8M460.4 1700.7v2.4M461.3 1700.9v1.2M463.1 1701.4v2.4M465.3 1701.9v1.1M466.3 1702.2v2M467.4 1702.5v4M468.3 1702.8v1.5M469.5 1703.1v5.8M471.4 1703.6v1.2M472.5 1703.8v1.7M474 1704.2v1M475 1704.4v1.2M475.8 1704.7v2.6M477 1705v2.6M478.4 1705.3v1.6M479.8 1705.7v1M481.9 1706.2v1.1M483.3 1706.5v1.1M485.1 1707v1.7M486.4 1707.3v2.1M487.8 1707.7v1.1M489.8 1708.1v2M490.6 1708.4v1.2M492.6 1708.9v1.4M494.2 1709.2v1.8M496.2 1709.7v3.9M497.1 1710v1.1M498.1 1710.2v1M500.1 1710.7v1.6M502 1711.1v1.3M503.3 1711.4v1.2M504.5 1711.7v2.4M505.9 1711.9v1.4M507.5 1712.3v2.2M508.3 1712.4v3.6M509.5 1712.7v2.2M510.7 1712.9v1.4M512 1713.2v1.3M513 1713.4v1.7M514.9 1713.8v1.1M516.4 1714.1v3.3M517.6 1714.4v2.2M519.1 1714.7v1.8M520.9 1715.1v1.7M521.7 1715.3v1.5M522.5 1715.5v1.1M524.7 1716v1.6M525.9 1716.3v4.9M526.8 1716.5v1M528.4 1716.8v1.5M529.5 1717.1v1.2M530.9 1717.4v1.6M532.2 1717.7v1.1M533.9 1718.1v1.1M535.2 1718.4v1.9M536.1 1718.6v1.2M537.3 1718.9v2.4M538.3 1719.1v2.8M539.3 1719.3v3.2M541.5 1719.8v3.9M543.7 1720.3v5.4M544.9 1720.6v4.9M546.2 1720.9v2.3M547.3 1721.1v2M572.6 1723.3v1.2M574.7 1723.8v3.2M576.6 1724.2v1.7M578.7 1724.7v2.1M580 1724.9v2.7M582 1725.4v3.8M583.8 1725.8v3.7M585.8 1726.2v1.3M586.8 1726.4v1.1M588.7 1726.9v2M590.1 1727.1v1.5M592.2 1727.6v1.5M594.3 1728.1v2.9M596.3 1728.5v2.6M597.3 1728.7v1.9M598.4 1729v1.4M599.5 1729.2v2M601.6 1729.8v1.4M603.2 1730.3v1.2M604.4 1730.6v1.5M605.7 1731v2.7M607.2 1731.5v1.1M609.2 1732.1v2.2M610.2 1732.4v1.1M611.2 1732.7v7M612.4 1733v7M614.6 1733.7v1.7M616.5 1734.3v1.3M618.1 1734.7v1.1M619.6 1735.2v2.3M620.8 1735.5v1.1M622.7 1736.1v3.2M624.2 1736.6v1.2M626.3 1737.2v2.3M628 1737.7v1.6M629.2 1738.1v1.9M630.1 1738.3v1.6M631.6 1738.8v1.3M633 1739.2v1.1M634 1739.5v6M635.7 1740v1.4M637.7 1740.6v3.2M639.7 1741.2v1.3M640.5 1741.4v1.6M642.1 1741.9v2.7M643.7 1742.4v1.4M645.1 1742.8v1.9M646.5 1743.2v1.1M647.4 1743.4v1.2M648.3 1743.6v2.3M650.3 1744v2.9M651.1 1744.2v1M652.8 1744.5v2.4M654.1 1744.8v2.1M655.2 1745v1.1M656.4 1745.3v1.9M657.4 1745.4v1.7M658.5 1745.7v4.7M660.5 1746.1v3.4M662.3 1746.4v2.1M663.4 1746.7v2.4M665.2 1747v1.3M667.4 1747.5v1.4M668.7 1747.7v2.9M670 1748v1.9M671.1 1748.2v2.9M672.7 1748.5v2.6M674.3 1748.8v1.8M675.4 1749.1v2.5M676.9 1749.4v7M677.7 1749.5v2M678.8 1749.7v1.5M680.3 1750v1.9M681.3 1750.2v3.4M682.6 1750.7v4.1M683.6 1751.1v1.5M684.7 1751.5v1.8M686.7 1752.3v5.2M688.6 1753.1v2M690.6 1753.9v1.1M692.1 1754.5v2.6M693.2 1754.9v1.8M694.7 1755.8v1.1M696.2 1756.7v2.6M697.8 1757.7v1.2M700 1759v1.5M700.9 1759.5v1.3M702.9 1760.7v2M704.8 1761.9v2M706.6 1762.9v2.4M708.8 1764.2v1.3M710.3 1765.2v1.1M711.7 1766v1.1M713 1766.8v3.8M715 1768v2.5M717.2 1771.2v2M719.2 1779.8v1.8M720.2 1783.9v1.7M722 1788.8v1.5M723.9 1788.8v3.3" stroke="#000" stroke-width="0.8" fill="none"/>
<line x1="300.5" y1="1640" x2="300.5" y2="1680" stroke="#000" stroke-width="2.4"/>
<line x1="304" y1="1640" x2="304" y2="1675" stroke="#000" stroke-width="1.6"/>
<line x1="355" y1="1662" x2="355" y2="1702.5" stroke="#000" stroke-width="1.4"/>
<line x1="363.4" y1="1665" x2="363.4" y2="1708.5" stroke="#000" stroke-width="1.4"/>
<line x1="376" y1="1670" x2="376" y2="1707" stroke="#000" stroke-width="1.4"/>
<line x1="420.5" y1="1685" x2="420.5" y2="1708" stroke="#000" stroke-width="1.4"/>
<line x1="443.5" y1="1690" x2="443.5" y2="1735" stroke="#000" stroke-width="2.2"/>
<line x1="501.5" y1="1705" x2="501.5" y2="1730.5" stroke="#000" stroke-width="1.4"/>
<line x1="545.3" y1="1718" x2="545.3" y2="1736" stroke="#000" stroke-width="2.0"/>
<line x1="556" y1="1725" x2="556" y2="1738" stroke="#000" stroke-width="2.0"/>
<line x1="575.3" y1="1720" x2="575.3" y2="1737.3" stroke="#000" stroke-width="2.0"/>
<line x1="579.3" y1="1720" x2="579.3" y2="1738.7" stroke="#000" stroke-width="2.0"/>
<line x1="588.3" y1="1725" x2="588.3" y2="1734" stroke="#000" stroke-width="1.6"/>
<line x1="625.7" y1="1735" x2="625.7" y2="1750.2" stroke="#000" stroke-width="2.4"/>
<line x1="635.6" y1="1738" x2="635.6" y2="1752.5" stroke="#000" stroke-width="2.0"/>
<line x1="643.8" y1="1740" x2="643.8" y2="1750.2" stroke="#000" stroke-width="1.6"/>
<line x1="647.8" y1="1742" x2="647.8" y2="1753" stroke="#000" stroke-width="1.8"/>
<line x1="654.3" y1="1743" x2="654.3" y2="1757.2" stroke="#000" stroke-width="2.2"/>
<line x1="663" y1="1745" x2="663" y2="1761.8" stroke="#000" stroke-width="2.2"/>
<line x1="668.8" y1="1746" x2="668.8" y2="1759.5" stroke="#000" stroke-width="1.8"/>
<line x1="677" y1="1748" x2="677" y2="1761.8" stroke="#000" stroke-width="1.8"/>
<line x1="686.3" y1="1750" x2="686.3" y2="1771.2" stroke="#000" stroke-width="2.6"/>
<line x1="690.4" y1="1751" x2="690.4" y2="1771.8" stroke="#000" stroke-width="2.0"/>
<line x1="695.7" y1="1753" x2="695.7" y2="1766.5" stroke="#000" stroke-width="1.8"/>
<line x1="702.7" y1="1757" x2="702.7" y2="1775.8" stroke="#000" stroke-width="2.0"/>
<line x1="709.1" y1="1760" x2="709.1" y2="1779.3" stroke="#000" stroke-width="2.2"/>
<line x1="713.2" y1="1763" x2="713.2" y2="1777" stroke="#000" stroke-width="1.8"/>
<line x1="720.2" y1="1766" x2="720.2" y2="1789.8" stroke="#000" stroke-width="2.4"/>
<line x1="723.7" y1="1768" x2="723.7" y2="1787.5" stroke="#000" stroke-width="2.0"/>
<line x1="565.2" y1="1738" x2="565.2" y2="1754" stroke="#fff" stroke-width="0.7"/>
<line x1="567.6" y1="1738" x2="567.6" y2="1754" stroke="#fff" stroke-width="0.7"/>
<rect x="87.4" y="1816.9" width="637.2" height="83.2" fill="#40E0D0" stroke="#3A6F6A" stroke-width="1.2"/>
<text x="69.2" y="1941.7" font-size="30" text-anchor="middle" fill="#000" font-weight="bold">(G)</text>
<rect x="743.7" y="1412.9" width="32.1" height="246.4" fill="#40E0D0"/>
<rect x="780.1" y="1412.9" width="160.6" height="246.4" fill="#6FB5FC"/>
<rect x="940.7" y="1412.9" width="162.2" height="246.4" fill="#FC8A6A"/>
<rect x="743.7" y="1659.3" width="32.1" height="245" fill="#BEBEBE"/>
<rect x="780.1" y="1659.3" width="160.6" height="245" fill="#F2F8FE"/>
<rect x="940.7" y="1659.3" width="162.2" height="245" fill="#FEF3F0"/>
<rect x="780.1" y="1412.9" width="322.8" height="491.4" fill="none" stroke="#444" stroke-width="1.2"/>
<text x="863.2" y="1514.5" font-size="20" text-anchor="middle" fill="#111">r=-0.58</text>
<text x="863.2" y="1540" font-size="20" text-anchor="middle" fill="#111">p value=1e−06</text>
<text x="1023.8" y="1512.5" font-size="20" text-anchor="middle" fill="#111">r=0.58</text>
<text x="1023.8" y="1537.5" font-size="20" text-anchor="middle" fill="#111">p value=1e−06</text>
<text x="865" y="1764" font-size="20" text-anchor="middle" fill="#111">r=-0.6</text>
<text x="865" y="1789" font-size="20" text-anchor="middle" fill="#111">p value=0.065</text>
<text x="1027.7" y="1765" font-size="20" text-anchor="middle" fill="#111">r=0.6</text>
<text x="1027.7" y="1790" font-size="20" text-anchor="middle" fill="#111">p value=0.065</text>
<defs><linearGradient id="g1456" x1="0" y1="0" x2="0" y2="1"><stop offset="0" stop-color="#FF2A0A"/><stop offset="0.25" stop-color="#FC8A6C"/><stop offset="0.5" stop-color="#FFFFFF"/><stop offset="0.75" stop-color="#7FB2FF"/><stop offset="1" stop-color="#0D6BFF"/></linearGradient></defs>
<rect x="1145.2" y="1456.8" width="12.9" height="413.2" fill="url(#g1456)" stroke="#333" stroke-width="1.2"/>
<line x1="1158.1" y1="1456.8" x2="1166.1" y2="1456.8" stroke="#333" stroke-width="1.1"/>
<text x="1190" y="1456.8" font-size="18" text-anchor="middle" fill="#111" transform="rotate(-90 1190 1456.8)">1</text>
<line x1="1158.1" y1="1560.1" x2="1166.1" y2="1560.1" stroke="#333" stroke-width="1.1"/>
<text x="1190" y="1560.1" font-size="18" text-anchor="middle" fill="#111" transform="rotate(-90 1190 1560.1)">0.5</text>
<line x1="1158.1" y1="1663.4" x2="1166.1" y2="1663.4" stroke="#333" stroke-width="1.1"/>
<text x="1190" y="1663.4" font-size="18" text-anchor="middle" fill="#111" transform="rotate(-90 1190 1663.4)">0</text>
<line x1="1158.1" y1="1766.7" x2="1166.1" y2="1766.7" stroke="#333" stroke-width="1.1"/>
<text x="1190" y="1766.7" font-size="18" text-anchor="middle" fill="#111" transform="rotate(-90 1190 1766.7)">-0.5</text>
<line x1="1158.1" y1="1870" x2="1166.1" y2="1870" stroke="#333" stroke-width="1.1"/>
<text x="1190" y="1870" font-size="18" text-anchor="middle" fill="#111" transform="rotate(-90 1190 1870)">-1</text>
<text x="1137" y="1663.4" font-size="20" text-anchor="middle" fill="#111" transform="rotate(-90 1137 1663.4)">Coefficient of correlation(r)</text>
<text x="869" y="1926" font-size="19.5" text-anchor="middle" fill="#111">UC</text>
<text x="1024.5" y="1926" font-size="20" text-anchor="middle" fill="#111">Control</text>
<text x="777" y="1949.6" font-size="30" text-anchor="middle" fill="#000" font-weight="bold">(H)</text></svg></body></html>
